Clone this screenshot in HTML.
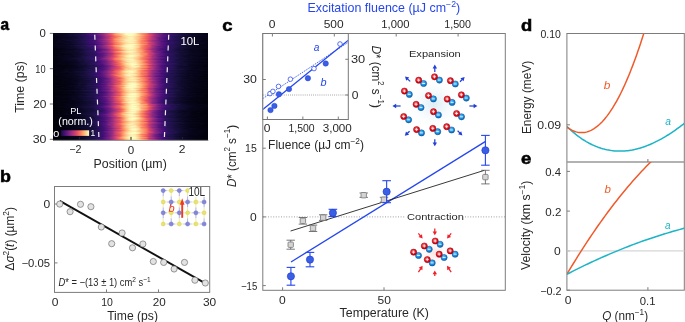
<!DOCTYPE html>
<html><head><meta charset="utf-8"><style>
html,body{margin:0;padding:0;background:#fff;width:685px;height:322px;overflow:hidden}
svg{display:block;will-change:transform;font-family:"Liberation Sans",sans-serif}
</style></head><body>
<svg width="685" height="322" viewBox="0 0 685 322" font-family="Liberation Sans, sans-serif"><defs><linearGradient id="h0" x1="0" x2="1" y1="0" y2="0"><stop offset="0" stop-color="#060518"/><stop offset="0.02" stop-color="#07061c"/><stop offset="0.04" stop-color="#06051a"/><stop offset="0.06" stop-color="#090720"/><stop offset="0.09" stop-color="#0d0a29"/><stop offset="0.11" stop-color="#0d0a29"/><stop offset="0.13" stop-color="#140e36"/><stop offset="0.15" stop-color="#140e36"/><stop offset="0.17" stop-color="#1c1044"/><stop offset="0.19" stop-color="#20114b"/><stop offset="0.21" stop-color="#29115a"/><stop offset="0.23" stop-color="#400f74"/><stop offset="0.26" stop-color="#420f75"/><stop offset="0.28" stop-color="#4f127b"/><stop offset="0.3" stop-color="#721f81"/><stop offset="0.32" stop-color="#8c2981"/><stop offset="0.34" stop-color="#b3367a"/><stop offset="0.36" stop-color="#db476a"/><stop offset="0.38" stop-color="#ef5d5e"/><stop offset="0.4" stop-color="#fd9467"/><stop offset="0.43" stop-color="#fecc8f"/><stop offset="0.45" stop-color="#fde2a3"/><stop offset="0.47" stop-color="#fcfbbd"/><stop offset="0.49" stop-color="#fcfdbf"/><stop offset="0.51" stop-color="#fcfdbf"/><stop offset="0.53" stop-color="#fdebac"/><stop offset="0.55" stop-color="#febd82"/><stop offset="0.57" stop-color="#fd9668"/><stop offset="0.6" stop-color="#f8765c"/><stop offset="0.62" stop-color="#d3436e"/><stop offset="0.64" stop-color="#ba3878"/><stop offset="0.66" stop-color="#932b80"/><stop offset="0.68" stop-color="#6e1e81"/><stop offset="0.7" stop-color="#5f187f"/><stop offset="0.72" stop-color="#471078"/><stop offset="0.74" stop-color="#400f74"/><stop offset="0.77" stop-color="#2a115c"/><stop offset="0.79" stop-color="#2a115c"/><stop offset="0.81" stop-color="#1d1147"/><stop offset="0.83" stop-color="#150e38"/><stop offset="0.85" stop-color="#150e38"/><stop offset="0.87" stop-color="#0e0b2b"/><stop offset="0.89" stop-color="#100b2d"/><stop offset="0.91" stop-color="#0a0822"/><stop offset="0.94" stop-color="#07061c"/><stop offset="0.96" stop-color="#06051a"/><stop offset="0.98" stop-color="#060518"/><stop offset="1" stop-color="#040414"/></linearGradient><linearGradient id="h1" x1="0" x2="1" y1="0" y2="0"><stop offset="0" stop-color="#050416"/><stop offset="0.02" stop-color="#08071e"/><stop offset="0.04" stop-color="#0b0924"/><stop offset="0.06" stop-color="#0a0822"/><stop offset="0.09" stop-color="#0c0926"/><stop offset="0.11" stop-color="#130d34"/><stop offset="0.13" stop-color="#140e36"/><stop offset="0.15" stop-color="#1c1044"/><stop offset="0.17" stop-color="#1c1044"/><stop offset="0.19" stop-color="#29115a"/><stop offset="0.21" stop-color="#2f1163"/><stop offset="0.23" stop-color="#440f76"/><stop offset="0.26" stop-color="#4e117b"/><stop offset="0.28" stop-color="#621980"/><stop offset="0.3" stop-color="#762181"/><stop offset="0.32" stop-color="#902a81"/><stop offset="0.34" stop-color="#b73779"/><stop offset="0.36" stop-color="#d5446d"/><stop offset="0.38" stop-color="#f3655c"/><stop offset="0.4" stop-color="#fd9a6a"/><stop offset="0.43" stop-color="#feb77e"/><stop offset="0.45" stop-color="#fed799"/><stop offset="0.47" stop-color="#fcfdbf"/><stop offset="0.49" stop-color="#fcfdbf"/><stop offset="0.51" stop-color="#fcfbbd"/><stop offset="0.53" stop-color="#fdebac"/><stop offset="0.55" stop-color="#fec88c"/><stop offset="0.57" stop-color="#fd9a6a"/><stop offset="0.6" stop-color="#f4695c"/><stop offset="0.62" stop-color="#e24d66"/><stop offset="0.64" stop-color="#bc3978"/><stop offset="0.66" stop-color="#982d80"/><stop offset="0.68" stop-color="#7e2482"/><stop offset="0.7" stop-color="#651a80"/><stop offset="0.72" stop-color="#4a1079"/><stop offset="0.74" stop-color="#451077"/><stop offset="0.77" stop-color="#341069"/><stop offset="0.79" stop-color="#29115a"/><stop offset="0.81" stop-color="#20114b"/><stop offset="0.83" stop-color="#1a1042"/><stop offset="0.85" stop-color="#150e38"/><stop offset="0.87" stop-color="#120d31"/><stop offset="0.89" stop-color="#0c0926"/><stop offset="0.91" stop-color="#0a0822"/><stop offset="0.94" stop-color="#0a0822"/><stop offset="0.96" stop-color="#06051a"/><stop offset="0.98" stop-color="#050416"/><stop offset="1" stop-color="#050416"/></linearGradient><linearGradient id="h2" x1="0" x2="1" y1="0" y2="0"><stop offset="0" stop-color="#050416"/><stop offset="0.02" stop-color="#06051a"/><stop offset="0.04" stop-color="#0a0822"/><stop offset="0.06" stop-color="#090720"/><stop offset="0.09" stop-color="#0c0926"/><stop offset="0.11" stop-color="#130d34"/><stop offset="0.13" stop-color="#110c2f"/><stop offset="0.15" stop-color="#19103f"/><stop offset="0.17" stop-color="#1a1042"/><stop offset="0.19" stop-color="#241253"/><stop offset="0.21" stop-color="#2a115c"/><stop offset="0.23" stop-color="#36106b"/><stop offset="0.26" stop-color="#4f127b"/><stop offset="0.28" stop-color="#54137d"/><stop offset="0.3" stop-color="#6b1d81"/><stop offset="0.32" stop-color="#892881"/><stop offset="0.34" stop-color="#aa337d"/><stop offset="0.36" stop-color="#cc3f71"/><stop offset="0.38" stop-color="#e75263"/><stop offset="0.4" stop-color="#fa815f"/><stop offset="0.43" stop-color="#feb27a"/><stop offset="0.45" stop-color="#fed395"/><stop offset="0.47" stop-color="#fde9aa"/><stop offset="0.49" stop-color="#fcfdbf"/><stop offset="0.51" stop-color="#fcf7b9"/><stop offset="0.53" stop-color="#fde5a7"/><stop offset="0.55" stop-color="#fecf92"/><stop offset="0.57" stop-color="#fea973"/><stop offset="0.6" stop-color="#f66e5c"/><stop offset="0.62" stop-color="#e44f64"/><stop offset="0.64" stop-color="#c73d73"/><stop offset="0.66" stop-color="#992d80"/><stop offset="0.68" stop-color="#7e2482"/><stop offset="0.7" stop-color="#5f187f"/><stop offset="0.72" stop-color="#54137d"/><stop offset="0.74" stop-color="#3d0f71"/><stop offset="0.77" stop-color="#2f1163"/><stop offset="0.79" stop-color="#2a115c"/><stop offset="0.81" stop-color="#241253"/><stop offset="0.83" stop-color="#1c1044"/><stop offset="0.85" stop-color="#140e36"/><stop offset="0.87" stop-color="#130d34"/><stop offset="0.89" stop-color="#0e0b2b"/><stop offset="0.91" stop-color="#0d0a29"/><stop offset="0.94" stop-color="#08071e"/><stop offset="0.96" stop-color="#090720"/><stop offset="0.98" stop-color="#06051a"/><stop offset="1" stop-color="#040414"/></linearGradient><linearGradient id="h3" x1="0" x2="1" y1="0" y2="0"><stop offset="0" stop-color="#040414"/><stop offset="0.02" stop-color="#040414"/><stop offset="0.04" stop-color="#06051a"/><stop offset="0.06" stop-color="#08071e"/><stop offset="0.09" stop-color="#0c0926"/><stop offset="0.11" stop-color="#0d0a29"/><stop offset="0.13" stop-color="#100b2d"/><stop offset="0.15" stop-color="#140e36"/><stop offset="0.17" stop-color="#19103f"/><stop offset="0.19" stop-color="#20114b"/><stop offset="0.21" stop-color="#271258"/><stop offset="0.23" stop-color="#311165"/><stop offset="0.26" stop-color="#3d0f71"/><stop offset="0.28" stop-color="#54137d"/><stop offset="0.3" stop-color="#641a80"/><stop offset="0.32" stop-color="#782281"/><stop offset="0.34" stop-color="#a5317e"/><stop offset="0.36" stop-color="#b73779"/><stop offset="0.38" stop-color="#e04c67"/><stop offset="0.4" stop-color="#f7725c"/><stop offset="0.43" stop-color="#fc9065"/><stop offset="0.45" stop-color="#feca8d"/><stop offset="0.47" stop-color="#fde0a1"/><stop offset="0.49" stop-color="#fdebac"/><stop offset="0.51" stop-color="#fdebac"/><stop offset="0.53" stop-color="#fdda9c"/><stop offset="0.55" stop-color="#feb97f"/><stop offset="0.57" stop-color="#fd9668"/><stop offset="0.6" stop-color="#f2625d"/><stop offset="0.62" stop-color="#dc4869"/><stop offset="0.64" stop-color="#b0357b"/><stop offset="0.66" stop-color="#902a81"/><stop offset="0.68" stop-color="#7e2482"/><stop offset="0.7" stop-color="#5c167f"/><stop offset="0.72" stop-color="#51127c"/><stop offset="0.74" stop-color="#3d0f71"/><stop offset="0.77" stop-color="#29115a"/><stop offset="0.79" stop-color="#21114e"/><stop offset="0.81" stop-color="#1c1044"/><stop offset="0.83" stop-color="#150e38"/><stop offset="0.85" stop-color="#100b2d"/><stop offset="0.87" stop-color="#100b2d"/><stop offset="0.89" stop-color="#0c0926"/><stop offset="0.91" stop-color="#0a0822"/><stop offset="0.94" stop-color="#07061c"/><stop offset="0.96" stop-color="#06051a"/><stop offset="0.98" stop-color="#06051a"/><stop offset="1" stop-color="#040414"/></linearGradient><linearGradient id="h4" x1="0" x2="1" y1="0" y2="0"><stop offset="0" stop-color="#050416"/><stop offset="0.02" stop-color="#050416"/><stop offset="0.04" stop-color="#060518"/><stop offset="0.06" stop-color="#08071e"/><stop offset="0.09" stop-color="#090720"/><stop offset="0.11" stop-color="#0c0926"/><stop offset="0.13" stop-color="#100b2d"/><stop offset="0.15" stop-color="#120d31"/><stop offset="0.17" stop-color="#1c1044"/><stop offset="0.19" stop-color="#20114b"/><stop offset="0.21" stop-color="#29115a"/><stop offset="0.23" stop-color="#341069"/><stop offset="0.26" stop-color="#3d0f71"/><stop offset="0.28" stop-color="#4c117a"/><stop offset="0.3" stop-color="#5d177f"/><stop offset="0.32" stop-color="#7e2482"/><stop offset="0.34" stop-color="#9b2e7f"/><stop offset="0.36" stop-color="#bf3a77"/><stop offset="0.38" stop-color="#eb5760"/><stop offset="0.4" stop-color="#f4695c"/><stop offset="0.43" stop-color="#feb078"/><stop offset="0.45" stop-color="#fec488"/><stop offset="0.47" stop-color="#fddea0"/><stop offset="0.49" stop-color="#fcf6b8"/><stop offset="0.51" stop-color="#fcf2b4"/><stop offset="0.53" stop-color="#fed597"/><stop offset="0.55" stop-color="#febf84"/><stop offset="0.57" stop-color="#fe9d6c"/><stop offset="0.6" stop-color="#f2625d"/><stop offset="0.62" stop-color="#dc4869"/><stop offset="0.64" stop-color="#b83779"/><stop offset="0.66" stop-color="#902a81"/><stop offset="0.68" stop-color="#6d1d81"/><stop offset="0.7" stop-color="#5f187f"/><stop offset="0.72" stop-color="#4a1079"/><stop offset="0.74" stop-color="#38106c"/><stop offset="0.77" stop-color="#2d1161"/><stop offset="0.79" stop-color="#221150"/><stop offset="0.81" stop-color="#1e1149"/><stop offset="0.83" stop-color="#150e38"/><stop offset="0.85" stop-color="#120d31"/><stop offset="0.87" stop-color="#0e0b2b"/><stop offset="0.89" stop-color="#0c0926"/><stop offset="0.91" stop-color="#0a0822"/><stop offset="0.94" stop-color="#06051a"/><stop offset="0.96" stop-color="#060518"/><stop offset="0.98" stop-color="#06051a"/><stop offset="1" stop-color="#050416"/></linearGradient><linearGradient id="h5" x1="0" x2="1" y1="0" y2="0"><stop offset="0" stop-color="#040414"/><stop offset="0.02" stop-color="#050416"/><stop offset="0.04" stop-color="#06051a"/><stop offset="0.06" stop-color="#090720"/><stop offset="0.09" stop-color="#0b0924"/><stop offset="0.11" stop-color="#0c0926"/><stop offset="0.13" stop-color="#110c2f"/><stop offset="0.15" stop-color="#120d31"/><stop offset="0.17" stop-color="#19103f"/><stop offset="0.19" stop-color="#1e1149"/><stop offset="0.21" stop-color="#2f1163"/><stop offset="0.23" stop-color="#2a115c"/><stop offset="0.26" stop-color="#3d0f71"/><stop offset="0.28" stop-color="#56147d"/><stop offset="0.3" stop-color="#651a80"/><stop offset="0.32" stop-color="#7c2382"/><stop offset="0.34" stop-color="#9e2f7f"/><stop offset="0.36" stop-color="#bd3977"/><stop offset="0.38" stop-color="#e75263"/><stop offset="0.4" stop-color="#fb8560"/><stop offset="0.43" stop-color="#feae77"/><stop offset="0.45" stop-color="#fecc8f"/><stop offset="0.47" stop-color="#fddea0"/><stop offset="0.49" stop-color="#fcf2b4"/><stop offset="0.51" stop-color="#fcf7b9"/><stop offset="0.53" stop-color="#fed799"/><stop offset="0.55" stop-color="#fec185"/><stop offset="0.57" stop-color="#fc8e64"/><stop offset="0.6" stop-color="#f05f5e"/><stop offset="0.62" stop-color="#d9466b"/><stop offset="0.64" stop-color="#b3367a"/><stop offset="0.66" stop-color="#982d80"/><stop offset="0.68" stop-color="#651a80"/><stop offset="0.7" stop-color="#59157e"/><stop offset="0.72" stop-color="#420f75"/><stop offset="0.74" stop-color="#3d0f71"/><stop offset="0.77" stop-color="#2c115f"/><stop offset="0.79" stop-color="#221150"/><stop offset="0.81" stop-color="#1d1147"/><stop offset="0.83" stop-color="#160f3b"/><stop offset="0.85" stop-color="#130d34"/><stop offset="0.87" stop-color="#0c0926"/><stop offset="0.89" stop-color="#0b0924"/><stop offset="0.91" stop-color="#090720"/><stop offset="0.94" stop-color="#07061c"/><stop offset="0.96" stop-color="#06051a"/><stop offset="0.98" stop-color="#040414"/><stop offset="1" stop-color="#040414"/></linearGradient><linearGradient id="h6" x1="0" x2="1" y1="0" y2="0"><stop offset="0" stop-color="#060518"/><stop offset="0.02" stop-color="#060518"/><stop offset="0.04" stop-color="#06051a"/><stop offset="0.06" stop-color="#0b0924"/><stop offset="0.09" stop-color="#0b0924"/><stop offset="0.11" stop-color="#0d0a29"/><stop offset="0.13" stop-color="#120d31"/><stop offset="0.15" stop-color="#19103f"/><stop offset="0.17" stop-color="#1c1044"/><stop offset="0.19" stop-color="#251255"/><stop offset="0.21" stop-color="#2a115c"/><stop offset="0.23" stop-color="#36106b"/><stop offset="0.26" stop-color="#471078"/><stop offset="0.28" stop-color="#56147d"/><stop offset="0.3" stop-color="#6d1d81"/><stop offset="0.32" stop-color="#8b2981"/><stop offset="0.34" stop-color="#aa337d"/><stop offset="0.36" stop-color="#d5446d"/><stop offset="0.38" stop-color="#eb5760"/><stop offset="0.4" stop-color="#fd9668"/><stop offset="0.43" stop-color="#febb81"/><stop offset="0.45" stop-color="#fed395"/><stop offset="0.47" stop-color="#fde9aa"/><stop offset="0.49" stop-color="#fcf2b4"/><stop offset="0.51" stop-color="#fcf2b4"/><stop offset="0.53" stop-color="#fed89a"/><stop offset="0.55" stop-color="#feb77e"/><stop offset="0.57" stop-color="#fd9b6b"/><stop offset="0.6" stop-color="#f4675c"/><stop offset="0.62" stop-color="#d6456c"/><stop offset="0.64" stop-color="#b83779"/><stop offset="0.66" stop-color="#982d80"/><stop offset="0.68" stop-color="#6d1d81"/><stop offset="0.7" stop-color="#5a167e"/><stop offset="0.72" stop-color="#4a1079"/><stop offset="0.74" stop-color="#38106c"/><stop offset="0.77" stop-color="#2d1161"/><stop offset="0.79" stop-color="#221150"/><stop offset="0.81" stop-color="#1e1149"/><stop offset="0.83" stop-color="#180f3d"/><stop offset="0.85" stop-color="#140e36"/><stop offset="0.87" stop-color="#0e0b2b"/><stop offset="0.89" stop-color="#0d0a29"/><stop offset="0.91" stop-color="#0d0a29"/><stop offset="0.94" stop-color="#08071e"/><stop offset="0.96" stop-color="#060518"/><stop offset="0.98" stop-color="#050416"/><stop offset="1" stop-color="#040414"/></linearGradient><linearGradient id="h7" x1="0" x2="1" y1="0" y2="0"><stop offset="0" stop-color="#040414"/><stop offset="0.02" stop-color="#040414"/><stop offset="0.04" stop-color="#08071e"/><stop offset="0.06" stop-color="#06051a"/><stop offset="0.09" stop-color="#0e0b2b"/><stop offset="0.11" stop-color="#100b2d"/><stop offset="0.13" stop-color="#110c2f"/><stop offset="0.15" stop-color="#150e38"/><stop offset="0.17" stop-color="#180f3d"/><stop offset="0.19" stop-color="#1d1147"/><stop offset="0.21" stop-color="#241253"/><stop offset="0.23" stop-color="#331067"/><stop offset="0.26" stop-color="#3d0f71"/><stop offset="0.28" stop-color="#51127c"/><stop offset="0.3" stop-color="#671b80"/><stop offset="0.32" stop-color="#7b2382"/><stop offset="0.34" stop-color="#a02f7f"/><stop offset="0.36" stop-color="#bf3a77"/><stop offset="0.38" stop-color="#e85362"/><stop offset="0.4" stop-color="#fa815f"/><stop offset="0.43" stop-color="#feb27a"/><stop offset="0.45" stop-color="#feca8d"/><stop offset="0.47" stop-color="#fceeb0"/><stop offset="0.49" stop-color="#fcf4b6"/><stop offset="0.51" stop-color="#fcf0b2"/><stop offset="0.53" stop-color="#fde7a9"/><stop offset="0.55" stop-color="#feb67c"/><stop offset="0.57" stop-color="#fb8761"/><stop offset="0.6" stop-color="#ef5d5e"/><stop offset="0.62" stop-color="#c83e73"/><stop offset="0.64" stop-color="#a1307e"/><stop offset="0.66" stop-color="#882781"/><stop offset="0.68" stop-color="#6b1d81"/><stop offset="0.7" stop-color="#5a167e"/><stop offset="0.72" stop-color="#4e117b"/><stop offset="0.74" stop-color="#341069"/><stop offset="0.77" stop-color="#29115a"/><stop offset="0.79" stop-color="#1d1147"/><stop offset="0.81" stop-color="#1a1042"/><stop offset="0.83" stop-color="#180f3d"/><stop offset="0.85" stop-color="#100b2d"/><stop offset="0.87" stop-color="#0e0b2b"/><stop offset="0.89" stop-color="#0b0924"/><stop offset="0.91" stop-color="#08071e"/><stop offset="0.94" stop-color="#090720"/><stop offset="0.96" stop-color="#040414"/><stop offset="0.98" stop-color="#060518"/><stop offset="1" stop-color="#030312"/></linearGradient><linearGradient id="h8" x1="0" x2="1" y1="0" y2="0"><stop offset="0" stop-color="#050416"/><stop offset="0.02" stop-color="#06051a"/><stop offset="0.04" stop-color="#08071e"/><stop offset="0.06" stop-color="#090720"/><stop offset="0.09" stop-color="#090720"/><stop offset="0.11" stop-color="#0c0926"/><stop offset="0.13" stop-color="#110c2f"/><stop offset="0.15" stop-color="#150e38"/><stop offset="0.17" stop-color="#1a1042"/><stop offset="0.19" stop-color="#221150"/><stop offset="0.21" stop-color="#2d1161"/><stop offset="0.23" stop-color="#38106c"/><stop offset="0.26" stop-color="#440f76"/><stop offset="0.28" stop-color="#51127c"/><stop offset="0.3" stop-color="#6b1d81"/><stop offset="0.32" stop-color="#892881"/><stop offset="0.34" stop-color="#9e2f7f"/><stop offset="0.36" stop-color="#c53c74"/><stop offset="0.38" stop-color="#ec5860"/><stop offset="0.4" stop-color="#fc8961"/><stop offset="0.43" stop-color="#feb67c"/><stop offset="0.45" stop-color="#fdda9c"/><stop offset="0.47" stop-color="#fde7a9"/><stop offset="0.49" stop-color="#fcf0b2"/><stop offset="0.51" stop-color="#fcecae"/><stop offset="0.53" stop-color="#fdda9c"/><stop offset="0.55" stop-color="#feb67c"/><stop offset="0.57" stop-color="#fb8761"/><stop offset="0.6" stop-color="#f05f5e"/><stop offset="0.62" stop-color="#cc3f71"/><stop offset="0.64" stop-color="#ad347c"/><stop offset="0.66" stop-color="#882781"/><stop offset="0.68" stop-color="#762181"/><stop offset="0.7" stop-color="#51127c"/><stop offset="0.72" stop-color="#400f74"/><stop offset="0.74" stop-color="#341069"/><stop offset="0.77" stop-color="#271258"/><stop offset="0.79" stop-color="#221150"/><stop offset="0.81" stop-color="#20114b"/><stop offset="0.83" stop-color="#120d31"/><stop offset="0.85" stop-color="#120d31"/><stop offset="0.87" stop-color="#0d0a29"/><stop offset="0.89" stop-color="#0b0924"/><stop offset="0.91" stop-color="#090720"/><stop offset="0.94" stop-color="#07061c"/><stop offset="0.96" stop-color="#060518"/><stop offset="0.98" stop-color="#050416"/><stop offset="1" stop-color="#030312"/></linearGradient><linearGradient id="h9" x1="0" x2="1" y1="0" y2="0"><stop offset="0" stop-color="#040414"/><stop offset="0.02" stop-color="#050416"/><stop offset="0.04" stop-color="#08071e"/><stop offset="0.06" stop-color="#090720"/><stop offset="0.09" stop-color="#090720"/><stop offset="0.11" stop-color="#0c0926"/><stop offset="0.13" stop-color="#100b2d"/><stop offset="0.15" stop-color="#130d34"/><stop offset="0.17" stop-color="#1a1042"/><stop offset="0.19" stop-color="#1e1149"/><stop offset="0.21" stop-color="#241253"/><stop offset="0.23" stop-color="#311165"/><stop offset="0.26" stop-color="#400f74"/><stop offset="0.28" stop-color="#4f127b"/><stop offset="0.3" stop-color="#5c167f"/><stop offset="0.32" stop-color="#792282"/><stop offset="0.34" stop-color="#942c80"/><stop offset="0.36" stop-color="#bc3978"/><stop offset="0.38" stop-color="#e55064"/><stop offset="0.4" stop-color="#f8745c"/><stop offset="0.43" stop-color="#fea772"/><stop offset="0.45" stop-color="#fec88c"/><stop offset="0.47" stop-color="#fddc9e"/><stop offset="0.49" stop-color="#fcf2b4"/><stop offset="0.51" stop-color="#fcf6b8"/><stop offset="0.53" stop-color="#fde2a3"/><stop offset="0.55" stop-color="#feb67c"/><stop offset="0.57" stop-color="#fc8c63"/><stop offset="0.6" stop-color="#f8765c"/><stop offset="0.62" stop-color="#e34e65"/><stop offset="0.64" stop-color="#b83779"/><stop offset="0.66" stop-color="#992d80"/><stop offset="0.68" stop-color="#732081"/><stop offset="0.7" stop-color="#5a167e"/><stop offset="0.72" stop-color="#51127c"/><stop offset="0.74" stop-color="#3d0f71"/><stop offset="0.77" stop-color="#2f1163"/><stop offset="0.79" stop-color="#29115a"/><stop offset="0.81" stop-color="#1c1044"/><stop offset="0.83" stop-color="#19103f"/><stop offset="0.85" stop-color="#1c1044"/><stop offset="0.87" stop-color="#110c2f"/><stop offset="0.89" stop-color="#0b0924"/><stop offset="0.91" stop-color="#0b0924"/><stop offset="0.94" stop-color="#0a0822"/><stop offset="0.96" stop-color="#06051a"/><stop offset="0.98" stop-color="#06051a"/><stop offset="1" stop-color="#050416"/></linearGradient><linearGradient id="h10" x1="0" x2="1" y1="0" y2="0"><stop offset="0" stop-color="#050416"/><stop offset="0.02" stop-color="#06051a"/><stop offset="0.04" stop-color="#060518"/><stop offset="0.06" stop-color="#06051a"/><stop offset="0.09" stop-color="#0d0a29"/><stop offset="0.11" stop-color="#0a0822"/><stop offset="0.13" stop-color="#110c2f"/><stop offset="0.15" stop-color="#150e38"/><stop offset="0.17" stop-color="#19103f"/><stop offset="0.19" stop-color="#1a1042"/><stop offset="0.21" stop-color="#251255"/><stop offset="0.23" stop-color="#341069"/><stop offset="0.26" stop-color="#3b0f70"/><stop offset="0.28" stop-color="#4f127b"/><stop offset="0.3" stop-color="#621980"/><stop offset="0.32" stop-color="#802582"/><stop offset="0.34" stop-color="#932b80"/><stop offset="0.36" stop-color="#b83779"/><stop offset="0.38" stop-color="#dc4869"/><stop offset="0.4" stop-color="#f9785d"/><stop offset="0.43" stop-color="#fe9d6c"/><stop offset="0.45" stop-color="#febd82"/><stop offset="0.47" stop-color="#fddea0"/><stop offset="0.49" stop-color="#fde3a5"/><stop offset="0.51" stop-color="#fde5a7"/><stop offset="0.53" stop-color="#fed597"/><stop offset="0.55" stop-color="#febb81"/><stop offset="0.57" stop-color="#fc8961"/><stop offset="0.6" stop-color="#f3655c"/><stop offset="0.62" stop-color="#d0416f"/><stop offset="0.64" stop-color="#bc3978"/><stop offset="0.66" stop-color="#912b81"/><stop offset="0.68" stop-color="#752181"/><stop offset="0.7" stop-color="#5c167f"/><stop offset="0.72" stop-color="#4c117a"/><stop offset="0.74" stop-color="#311165"/><stop offset="0.77" stop-color="#2c115f"/><stop offset="0.79" stop-color="#20114b"/><stop offset="0.81" stop-color="#20114b"/><stop offset="0.83" stop-color="#180f3d"/><stop offset="0.85" stop-color="#120d31"/><stop offset="0.87" stop-color="#0d0a29"/><stop offset="0.89" stop-color="#0a0822"/><stop offset="0.91" stop-color="#090720"/><stop offset="0.94" stop-color="#07061c"/><stop offset="0.96" stop-color="#0b0924"/><stop offset="0.98" stop-color="#040414"/><stop offset="1" stop-color="#030312"/></linearGradient><linearGradient id="h11" x1="0" x2="1" y1="0" y2="0"><stop offset="0" stop-color="#030312"/><stop offset="0.02" stop-color="#060518"/><stop offset="0.04" stop-color="#050416"/><stop offset="0.06" stop-color="#06051a"/><stop offset="0.09" stop-color="#08071e"/><stop offset="0.11" stop-color="#090720"/><stop offset="0.13" stop-color="#0c0926"/><stop offset="0.15" stop-color="#100b2d"/><stop offset="0.17" stop-color="#150e38"/><stop offset="0.19" stop-color="#19103f"/><stop offset="0.21" stop-color="#20114b"/><stop offset="0.23" stop-color="#271258"/><stop offset="0.26" stop-color="#331067"/><stop offset="0.28" stop-color="#400f74"/><stop offset="0.3" stop-color="#57157e"/><stop offset="0.32" stop-color="#6b1d81"/><stop offset="0.34" stop-color="#8e2a81"/><stop offset="0.36" stop-color="#b0357b"/><stop offset="0.38" stop-color="#d5446d"/><stop offset="0.4" stop-color="#f66c5c"/><stop offset="0.43" stop-color="#fd9869"/><stop offset="0.45" stop-color="#fec68a"/><stop offset="0.47" stop-color="#fde9aa"/><stop offset="0.49" stop-color="#fcfbbd"/><stop offset="0.51" stop-color="#fcfdbf"/><stop offset="0.53" stop-color="#fcf4b6"/><stop offset="0.55" stop-color="#fed395"/><stop offset="0.57" stop-color="#fea772"/><stop offset="0.6" stop-color="#f97b5d"/><stop offset="0.62" stop-color="#df4a68"/><stop offset="0.64" stop-color="#ba3878"/><stop offset="0.66" stop-color="#992d80"/><stop offset="0.68" stop-color="#701f81"/><stop offset="0.7" stop-color="#5c167f"/><stop offset="0.72" stop-color="#4a1079"/><stop offset="0.74" stop-color="#38106c"/><stop offset="0.77" stop-color="#29115a"/><stop offset="0.79" stop-color="#21114e"/><stop offset="0.81" stop-color="#19103f"/><stop offset="0.83" stop-color="#180f3d"/><stop offset="0.85" stop-color="#100b2d"/><stop offset="0.87" stop-color="#0d0a29"/><stop offset="0.89" stop-color="#0c0926"/><stop offset="0.91" stop-color="#08071e"/><stop offset="0.94" stop-color="#06051a"/><stop offset="0.96" stop-color="#050416"/><stop offset="0.98" stop-color="#050416"/><stop offset="1" stop-color="#030312"/></linearGradient><linearGradient id="h12" x1="0" x2="1" y1="0" y2="0"><stop offset="0" stop-color="#07061c"/><stop offset="0.02" stop-color="#060518"/><stop offset="0.04" stop-color="#090720"/><stop offset="0.06" stop-color="#07061c"/><stop offset="0.09" stop-color="#0b0924"/><stop offset="0.11" stop-color="#0d0a29"/><stop offset="0.13" stop-color="#120d31"/><stop offset="0.15" stop-color="#1a1042"/><stop offset="0.17" stop-color="#1c1044"/><stop offset="0.19" stop-color="#21114e"/><stop offset="0.21" stop-color="#2c115f"/><stop offset="0.23" stop-color="#390f6e"/><stop offset="0.26" stop-color="#471078"/><stop offset="0.28" stop-color="#56147d"/><stop offset="0.3" stop-color="#721f81"/><stop offset="0.32" stop-color="#862781"/><stop offset="0.34" stop-color="#ad347c"/><stop offset="0.36" stop-color="#d8456c"/><stop offset="0.38" stop-color="#f1605d"/><stop offset="0.4" stop-color="#fd9869"/><stop offset="0.43" stop-color="#febb81"/><stop offset="0.45" stop-color="#fde0a1"/><stop offset="0.47" stop-color="#fcf4b6"/><stop offset="0.49" stop-color="#fcfbbd"/><stop offset="0.51" stop-color="#fcf9bb"/><stop offset="0.53" stop-color="#fde0a1"/><stop offset="0.55" stop-color="#fec68a"/><stop offset="0.57" stop-color="#fd9467"/><stop offset="0.6" stop-color="#ef5d5e"/><stop offset="0.62" stop-color="#de4968"/><stop offset="0.64" stop-color="#aa337d"/><stop offset="0.66" stop-color="#902a81"/><stop offset="0.68" stop-color="#7b2382"/><stop offset="0.7" stop-color="#5a167e"/><stop offset="0.72" stop-color="#4c117a"/><stop offset="0.74" stop-color="#331067"/><stop offset="0.77" stop-color="#271258"/><stop offset="0.79" stop-color="#21114e"/><stop offset="0.81" stop-color="#1c1044"/><stop offset="0.83" stop-color="#180f3d"/><stop offset="0.85" stop-color="#110c2f"/><stop offset="0.87" stop-color="#0d0a29"/><stop offset="0.89" stop-color="#0c0926"/><stop offset="0.91" stop-color="#0a0822"/><stop offset="0.94" stop-color="#07061c"/><stop offset="0.96" stop-color="#050416"/><stop offset="0.98" stop-color="#050416"/><stop offset="1" stop-color="#050416"/></linearGradient><linearGradient id="h13" x1="0" x2="1" y1="0" y2="0"><stop offset="0" stop-color="#040414"/><stop offset="0.02" stop-color="#040414"/><stop offset="0.04" stop-color="#06051a"/><stop offset="0.06" stop-color="#06051a"/><stop offset="0.09" stop-color="#090720"/><stop offset="0.11" stop-color="#0b0924"/><stop offset="0.13" stop-color="#0d0a29"/><stop offset="0.15" stop-color="#130d34"/><stop offset="0.17" stop-color="#180f3d"/><stop offset="0.19" stop-color="#1d1147"/><stop offset="0.21" stop-color="#221150"/><stop offset="0.23" stop-color="#36106b"/><stop offset="0.26" stop-color="#3d0f71"/><stop offset="0.28" stop-color="#51127c"/><stop offset="0.3" stop-color="#651a80"/><stop offset="0.32" stop-color="#842681"/><stop offset="0.34" stop-color="#a1307e"/><stop offset="0.36" stop-color="#bc3978"/><stop offset="0.38" stop-color="#e75263"/><stop offset="0.4" stop-color="#fb8761"/><stop offset="0.43" stop-color="#febb81"/><stop offset="0.45" stop-color="#fde9aa"/><stop offset="0.47" stop-color="#fcf7b9"/><stop offset="0.49" stop-color="#fcfdbf"/><stop offset="0.51" stop-color="#fcfdbf"/><stop offset="0.53" stop-color="#fde7a9"/><stop offset="0.55" stop-color="#fecd90"/><stop offset="0.57" stop-color="#fc9065"/><stop offset="0.6" stop-color="#ed5a5f"/><stop offset="0.62" stop-color="#e04c67"/><stop offset="0.64" stop-color="#ab337c"/><stop offset="0.66" stop-color="#842681"/><stop offset="0.68" stop-color="#5f187f"/><stop offset="0.7" stop-color="#57157e"/><stop offset="0.72" stop-color="#440f76"/><stop offset="0.74" stop-color="#331067"/><stop offset="0.77" stop-color="#241253"/><stop offset="0.79" stop-color="#241253"/><stop offset="0.81" stop-color="#19103f"/><stop offset="0.83" stop-color="#130d34"/><stop offset="0.85" stop-color="#100b2d"/><stop offset="0.87" stop-color="#0d0a29"/><stop offset="0.89" stop-color="#0a0822"/><stop offset="0.91" stop-color="#08071e"/><stop offset="0.94" stop-color="#08071e"/><stop offset="0.96" stop-color="#060518"/><stop offset="0.98" stop-color="#06051a"/><stop offset="1" stop-color="#040414"/></linearGradient><linearGradient id="h14" x1="0" x2="1" y1="0" y2="0"><stop offset="0" stop-color="#040414"/><stop offset="0.02" stop-color="#040414"/><stop offset="0.04" stop-color="#07061c"/><stop offset="0.06" stop-color="#06051a"/><stop offset="0.09" stop-color="#0a0822"/><stop offset="0.11" stop-color="#0a0822"/><stop offset="0.13" stop-color="#0e0b2b"/><stop offset="0.15" stop-color="#130d34"/><stop offset="0.17" stop-color="#19103f"/><stop offset="0.19" stop-color="#20114b"/><stop offset="0.21" stop-color="#21114e"/><stop offset="0.23" stop-color="#2a115c"/><stop offset="0.26" stop-color="#3b0f70"/><stop offset="0.28" stop-color="#52137c"/><stop offset="0.3" stop-color="#601880"/><stop offset="0.32" stop-color="#7e2482"/><stop offset="0.34" stop-color="#942c80"/><stop offset="0.36" stop-color="#bf3a77"/><stop offset="0.38" stop-color="#d9466b"/><stop offset="0.4" stop-color="#f8745c"/><stop offset="0.43" stop-color="#fea571"/><stop offset="0.45" stop-color="#fecc8f"/><stop offset="0.47" stop-color="#fcf0b2"/><stop offset="0.49" stop-color="#fcf9bb"/><stop offset="0.51" stop-color="#fcf7b9"/><stop offset="0.53" stop-color="#fde5a7"/><stop offset="0.55" stop-color="#feca8d"/><stop offset="0.57" stop-color="#fc8a62"/><stop offset="0.6" stop-color="#ef5d5e"/><stop offset="0.62" stop-color="#d3436e"/><stop offset="0.64" stop-color="#aa337d"/><stop offset="0.66" stop-color="#862781"/><stop offset="0.68" stop-color="#6a1c81"/><stop offset="0.7" stop-color="#5a167e"/><stop offset="0.72" stop-color="#440f76"/><stop offset="0.74" stop-color="#341069"/><stop offset="0.77" stop-color="#271258"/><stop offset="0.79" stop-color="#20114b"/><stop offset="0.81" stop-color="#180f3d"/><stop offset="0.83" stop-color="#160f3b"/><stop offset="0.85" stop-color="#120d31"/><stop offset="0.87" stop-color="#0c0926"/><stop offset="0.89" stop-color="#0b0924"/><stop offset="0.91" stop-color="#08071e"/><stop offset="0.94" stop-color="#060518"/><stop offset="0.96" stop-color="#060518"/><stop offset="0.98" stop-color="#060518"/><stop offset="1" stop-color="#03030f"/></linearGradient><linearGradient id="h15" x1="0" x2="1" y1="0" y2="0"><stop offset="0" stop-color="#03030f"/><stop offset="0.02" stop-color="#03030f"/><stop offset="0.04" stop-color="#040414"/><stop offset="0.06" stop-color="#050416"/><stop offset="0.09" stop-color="#07061c"/><stop offset="0.11" stop-color="#0b0924"/><stop offset="0.13" stop-color="#0c0926"/><stop offset="0.15" stop-color="#0e0b2b"/><stop offset="0.17" stop-color="#140e36"/><stop offset="0.19" stop-color="#1c1044"/><stop offset="0.21" stop-color="#221150"/><stop offset="0.23" stop-color="#251255"/><stop offset="0.26" stop-color="#311165"/><stop offset="0.28" stop-color="#491078"/><stop offset="0.3" stop-color="#57157e"/><stop offset="0.32" stop-color="#6e1e81"/><stop offset="0.34" stop-color="#8b2981"/><stop offset="0.36" stop-color="#b5367a"/><stop offset="0.38" stop-color="#dc4869"/><stop offset="0.4" stop-color="#f66e5c"/><stop offset="0.43" stop-color="#fe9d6c"/><stop offset="0.45" stop-color="#fecf92"/><stop offset="0.47" stop-color="#fde7a9"/><stop offset="0.49" stop-color="#fcf6b8"/><stop offset="0.51" stop-color="#fcf7b9"/><stop offset="0.53" stop-color="#fddea0"/><stop offset="0.55" stop-color="#feb27a"/><stop offset="0.57" stop-color="#fc8961"/><stop offset="0.6" stop-color="#ec5860"/><stop offset="0.62" stop-color="#cd4071"/><stop offset="0.64" stop-color="#9c2e7f"/><stop offset="0.66" stop-color="#7b2382"/><stop offset="0.68" stop-color="#621980"/><stop offset="0.7" stop-color="#4a1079"/><stop offset="0.72" stop-color="#420f75"/><stop offset="0.74" stop-color="#2f1163"/><stop offset="0.77" stop-color="#271258"/><stop offset="0.79" stop-color="#1a1042"/><stop offset="0.81" stop-color="#180f3d"/><stop offset="0.83" stop-color="#120d31"/><stop offset="0.85" stop-color="#100b2d"/><stop offset="0.87" stop-color="#0b0924"/><stop offset="0.89" stop-color="#090720"/><stop offset="0.91" stop-color="#08071e"/><stop offset="0.94" stop-color="#07061c"/><stop offset="0.96" stop-color="#060518"/><stop offset="0.98" stop-color="#040414"/><stop offset="1" stop-color="#040414"/></linearGradient><linearGradient id="h16" x1="0" x2="1" y1="0" y2="0"><stop offset="0" stop-color="#02020b"/><stop offset="0.02" stop-color="#02020d"/><stop offset="0.04" stop-color="#03030f"/><stop offset="0.06" stop-color="#030312"/><stop offset="0.09" stop-color="#060518"/><stop offset="0.11" stop-color="#07061c"/><stop offset="0.13" stop-color="#090720"/><stop offset="0.15" stop-color="#0d0a29"/><stop offset="0.17" stop-color="#110c2f"/><stop offset="0.19" stop-color="#160f3b"/><stop offset="0.21" stop-color="#1c1044"/><stop offset="0.23" stop-color="#20114b"/><stop offset="0.26" stop-color="#2d1161"/><stop offset="0.28" stop-color="#38106c"/><stop offset="0.3" stop-color="#4a1079"/><stop offset="0.32" stop-color="#601880"/><stop offset="0.34" stop-color="#732081"/><stop offset="0.36" stop-color="#962c80"/><stop offset="0.38" stop-color="#d0416f"/><stop offset="0.4" stop-color="#ec5860"/><stop offset="0.43" stop-color="#fc8c63"/><stop offset="0.45" stop-color="#febf84"/><stop offset="0.47" stop-color="#fde0a1"/><stop offset="0.49" stop-color="#fcf0b2"/><stop offset="0.51" stop-color="#fdebac"/><stop offset="0.53" stop-color="#fddea0"/><stop offset="0.55" stop-color="#feb67c"/><stop offset="0.57" stop-color="#fd9266"/><stop offset="0.6" stop-color="#e55064"/><stop offset="0.62" stop-color="#bd3977"/><stop offset="0.64" stop-color="#962c80"/><stop offset="0.66" stop-color="#7e2482"/><stop offset="0.68" stop-color="#5d177f"/><stop offset="0.7" stop-color="#491078"/><stop offset="0.72" stop-color="#3b0f70"/><stop offset="0.74" stop-color="#2f1163"/><stop offset="0.77" stop-color="#221150"/><stop offset="0.79" stop-color="#19103f"/><stop offset="0.81" stop-color="#130d34"/><stop offset="0.83" stop-color="#150e38"/><stop offset="0.85" stop-color="#0b0924"/><stop offset="0.87" stop-color="#090720"/><stop offset="0.89" stop-color="#07061c"/><stop offset="0.91" stop-color="#08071e"/><stop offset="0.94" stop-color="#060518"/><stop offset="0.96" stop-color="#03030f"/><stop offset="0.98" stop-color="#03030f"/><stop offset="1" stop-color="#02020d"/></linearGradient><linearGradient id="h17" x1="0" x2="1" y1="0" y2="0"><stop offset="0" stop-color="#040414"/><stop offset="0.02" stop-color="#030312"/><stop offset="0.04" stop-color="#040414"/><stop offset="0.06" stop-color="#06051a"/><stop offset="0.09" stop-color="#090720"/><stop offset="0.11" stop-color="#07061c"/><stop offset="0.13" stop-color="#0b0924"/><stop offset="0.15" stop-color="#110c2f"/><stop offset="0.17" stop-color="#110c2f"/><stop offset="0.19" stop-color="#150e38"/><stop offset="0.21" stop-color="#20114b"/><stop offset="0.23" stop-color="#271258"/><stop offset="0.26" stop-color="#2d1161"/><stop offset="0.28" stop-color="#38106c"/><stop offset="0.3" stop-color="#491078"/><stop offset="0.32" stop-color="#681c81"/><stop offset="0.34" stop-color="#792282"/><stop offset="0.36" stop-color="#a02f7f"/><stop offset="0.38" stop-color="#c73d73"/><stop offset="0.4" stop-color="#e75263"/><stop offset="0.43" stop-color="#f9795d"/><stop offset="0.45" stop-color="#fea571"/><stop offset="0.47" stop-color="#fecf92"/><stop offset="0.49" stop-color="#fde7a9"/><stop offset="0.51" stop-color="#fde5a7"/><stop offset="0.53" stop-color="#fdda9c"/><stop offset="0.55" stop-color="#febb81"/><stop offset="0.57" stop-color="#fd9869"/><stop offset="0.6" stop-color="#f2625d"/><stop offset="0.62" stop-color="#d8456c"/><stop offset="0.64" stop-color="#a6317d"/><stop offset="0.66" stop-color="#802582"/><stop offset="0.68" stop-color="#5d177f"/><stop offset="0.7" stop-color="#54137d"/><stop offset="0.72" stop-color="#420f75"/><stop offset="0.74" stop-color="#2f1163"/><stop offset="0.77" stop-color="#221150"/><stop offset="0.79" stop-color="#1a1042"/><stop offset="0.81" stop-color="#160f3b"/><stop offset="0.83" stop-color="#100b2d"/><stop offset="0.85" stop-color="#100b2d"/><stop offset="0.87" stop-color="#0b0924"/><stop offset="0.89" stop-color="#07061c"/><stop offset="0.91" stop-color="#08071e"/><stop offset="0.94" stop-color="#060518"/><stop offset="0.96" stop-color="#06051a"/><stop offset="0.98" stop-color="#030312"/><stop offset="1" stop-color="#02020d"/></linearGradient><linearGradient id="h18" x1="0" x2="1" y1="0" y2="0"><stop offset="0" stop-color="#02020d"/><stop offset="0.02" stop-color="#030312"/><stop offset="0.04" stop-color="#050416"/><stop offset="0.06" stop-color="#050416"/><stop offset="0.09" stop-color="#090720"/><stop offset="0.11" stop-color="#0b0924"/><stop offset="0.13" stop-color="#0b0924"/><stop offset="0.15" stop-color="#110c2f"/><stop offset="0.17" stop-color="#120d31"/><stop offset="0.19" stop-color="#19103f"/><stop offset="0.21" stop-color="#20114b"/><stop offset="0.23" stop-color="#2c115f"/><stop offset="0.26" stop-color="#341069"/><stop offset="0.28" stop-color="#420f75"/><stop offset="0.3" stop-color="#51127c"/><stop offset="0.32" stop-color="#721f81"/><stop offset="0.34" stop-color="#8c2981"/><stop offset="0.36" stop-color="#ab337c"/><stop offset="0.38" stop-color="#d8456c"/><stop offset="0.4" stop-color="#f66c5c"/><stop offset="0.43" stop-color="#feac76"/><stop offset="0.45" stop-color="#fecf92"/><stop offset="0.47" stop-color="#fdebac"/><stop offset="0.49" stop-color="#fcf9bb"/><stop offset="0.51" stop-color="#fcf7b9"/><stop offset="0.53" stop-color="#fde7a9"/><stop offset="0.55" stop-color="#febd82"/><stop offset="0.57" stop-color="#fea36f"/><stop offset="0.6" stop-color="#eb5760"/><stop offset="0.62" stop-color="#db476a"/><stop offset="0.64" stop-color="#a5317e"/><stop offset="0.66" stop-color="#7b2382"/><stop offset="0.68" stop-color="#6e1e81"/><stop offset="0.7" stop-color="#57157e"/><stop offset="0.72" stop-color="#3f0f72"/><stop offset="0.74" stop-color="#311165"/><stop offset="0.77" stop-color="#221150"/><stop offset="0.79" stop-color="#1c1044"/><stop offset="0.81" stop-color="#180f3d"/><stop offset="0.83" stop-color="#160f3b"/><stop offset="0.85" stop-color="#120d31"/><stop offset="0.87" stop-color="#0c0926"/><stop offset="0.89" stop-color="#08071e"/><stop offset="0.91" stop-color="#06051a"/><stop offset="0.94" stop-color="#07061c"/><stop offset="0.96" stop-color="#040414"/><stop offset="0.98" stop-color="#03030f"/><stop offset="1" stop-color="#030312"/></linearGradient><linearGradient id="h19" x1="0" x2="1" y1="0" y2="0"><stop offset="0" stop-color="#03030f"/><stop offset="0.02" stop-color="#040414"/><stop offset="0.04" stop-color="#040414"/><stop offset="0.06" stop-color="#08071e"/><stop offset="0.09" stop-color="#090720"/><stop offset="0.11" stop-color="#0a0822"/><stop offset="0.13" stop-color="#0a0822"/><stop offset="0.15" stop-color="#0d0a29"/><stop offset="0.17" stop-color="#130d34"/><stop offset="0.19" stop-color="#1a1042"/><stop offset="0.21" stop-color="#1d1147"/><stop offset="0.23" stop-color="#251255"/><stop offset="0.26" stop-color="#2d1161"/><stop offset="0.28" stop-color="#440f76"/><stop offset="0.3" stop-color="#5a167e"/><stop offset="0.32" stop-color="#6a1c81"/><stop offset="0.34" stop-color="#832681"/><stop offset="0.36" stop-color="#a5317e"/><stop offset="0.38" stop-color="#cd4071"/><stop offset="0.4" stop-color="#f2645c"/><stop offset="0.43" stop-color="#fc8e64"/><stop offset="0.45" stop-color="#febd82"/><stop offset="0.47" stop-color="#fddc9e"/><stop offset="0.49" stop-color="#fcf0b2"/><stop offset="0.51" stop-color="#fdebac"/><stop offset="0.53" stop-color="#fed89a"/><stop offset="0.55" stop-color="#febb81"/><stop offset="0.57" stop-color="#fd9668"/><stop offset="0.6" stop-color="#f1605d"/><stop offset="0.62" stop-color="#db476a"/><stop offset="0.64" stop-color="#ad347c"/><stop offset="0.66" stop-color="#802582"/><stop offset="0.68" stop-color="#6b1d81"/><stop offset="0.7" stop-color="#54137d"/><stop offset="0.72" stop-color="#36106b"/><stop offset="0.74" stop-color="#2a115c"/><stop offset="0.77" stop-color="#221150"/><stop offset="0.79" stop-color="#21114e"/><stop offset="0.81" stop-color="#150e38"/><stop offset="0.83" stop-color="#120d31"/><stop offset="0.85" stop-color="#0d0a29"/><stop offset="0.87" stop-color="#0d0a29"/><stop offset="0.89" stop-color="#08071e"/><stop offset="0.91" stop-color="#07061c"/><stop offset="0.94" stop-color="#060518"/><stop offset="0.96" stop-color="#040414"/><stop offset="0.98" stop-color="#040414"/><stop offset="1" stop-color="#03030f"/></linearGradient><linearGradient id="h20" x1="0" x2="1" y1="0" y2="0"><stop offset="0" stop-color="#02020d"/><stop offset="0.02" stop-color="#040414"/><stop offset="0.04" stop-color="#030312"/><stop offset="0.06" stop-color="#040414"/><stop offset="0.09" stop-color="#07061c"/><stop offset="0.11" stop-color="#07061c"/><stop offset="0.13" stop-color="#0b0924"/><stop offset="0.15" stop-color="#0d0a29"/><stop offset="0.17" stop-color="#110c2f"/><stop offset="0.19" stop-color="#130d34"/><stop offset="0.21" stop-color="#1d1147"/><stop offset="0.23" stop-color="#241253"/><stop offset="0.26" stop-color="#2a115c"/><stop offset="0.28" stop-color="#36106b"/><stop offset="0.3" stop-color="#4e117b"/><stop offset="0.32" stop-color="#59157e"/><stop offset="0.34" stop-color="#732081"/><stop offset="0.36" stop-color="#8e2a81"/><stop offset="0.38" stop-color="#aa337d"/><stop offset="0.4" stop-color="#e04c67"/><stop offset="0.43" stop-color="#f8745c"/><stop offset="0.45" stop-color="#feae77"/><stop offset="0.47" stop-color="#fec88c"/><stop offset="0.49" stop-color="#fde0a1"/><stop offset="0.51" stop-color="#fdebac"/><stop offset="0.53" stop-color="#fddea0"/><stop offset="0.55" stop-color="#fecd90"/><stop offset="0.57" stop-color="#fd9b6b"/><stop offset="0.6" stop-color="#f9795d"/><stop offset="0.62" stop-color="#d9466b"/><stop offset="0.64" stop-color="#bf3a77"/><stop offset="0.66" stop-color="#932b80"/><stop offset="0.68" stop-color="#752181"/><stop offset="0.7" stop-color="#56147d"/><stop offset="0.72" stop-color="#4a1079"/><stop offset="0.74" stop-color="#36106b"/><stop offset="0.77" stop-color="#29115a"/><stop offset="0.79" stop-color="#20114b"/><stop offset="0.81" stop-color="#19103f"/><stop offset="0.83" stop-color="#130d34"/><stop offset="0.85" stop-color="#120d31"/><stop offset="0.87" stop-color="#0d0a29"/><stop offset="0.89" stop-color="#0b0924"/><stop offset="0.91" stop-color="#08071e"/><stop offset="0.94" stop-color="#090720"/><stop offset="0.96" stop-color="#060518"/><stop offset="0.98" stop-color="#030312"/><stop offset="1" stop-color="#030312"/></linearGradient><linearGradient id="h21" x1="0" x2="1" y1="0" y2="0"><stop offset="0" stop-color="#02020d"/><stop offset="0.02" stop-color="#03030f"/><stop offset="0.04" stop-color="#060518"/><stop offset="0.06" stop-color="#030312"/><stop offset="0.09" stop-color="#060518"/><stop offset="0.11" stop-color="#06051a"/><stop offset="0.13" stop-color="#0b0924"/><stop offset="0.15" stop-color="#0b0924"/><stop offset="0.17" stop-color="#110c2f"/><stop offset="0.19" stop-color="#130d34"/><stop offset="0.21" stop-color="#1e1149"/><stop offset="0.23" stop-color="#241253"/><stop offset="0.26" stop-color="#251255"/><stop offset="0.28" stop-color="#341069"/><stop offset="0.3" stop-color="#491078"/><stop offset="0.32" stop-color="#5c167f"/><stop offset="0.34" stop-color="#782281"/><stop offset="0.36" stop-color="#9b2e7f"/><stop offset="0.38" stop-color="#b83779"/><stop offset="0.4" stop-color="#e85362"/><stop offset="0.43" stop-color="#fb8761"/><stop offset="0.45" stop-color="#feac76"/><stop offset="0.47" stop-color="#fecd90"/><stop offset="0.49" stop-color="#fde9aa"/><stop offset="0.51" stop-color="#fde9aa"/><stop offset="0.53" stop-color="#fde3a5"/><stop offset="0.55" stop-color="#fecd90"/><stop offset="0.57" stop-color="#fd9a6a"/><stop offset="0.6" stop-color="#f9795d"/><stop offset="0.62" stop-color="#d6456c"/><stop offset="0.64" stop-color="#b73779"/><stop offset="0.66" stop-color="#892881"/><stop offset="0.68" stop-color="#6a1c81"/><stop offset="0.7" stop-color="#5c167f"/><stop offset="0.72" stop-color="#440f76"/><stop offset="0.74" stop-color="#311165"/><stop offset="0.77" stop-color="#241253"/><stop offset="0.79" stop-color="#1c1044"/><stop offset="0.81" stop-color="#19103f"/><stop offset="0.83" stop-color="#130d34"/><stop offset="0.85" stop-color="#120d31"/><stop offset="0.87" stop-color="#0b0924"/><stop offset="0.89" stop-color="#08071e"/><stop offset="0.91" stop-color="#090720"/><stop offset="0.94" stop-color="#060518"/><stop offset="0.96" stop-color="#050416"/><stop offset="0.98" stop-color="#040414"/><stop offset="1" stop-color="#030312"/></linearGradient><linearGradient id="h22" x1="0" x2="1" y1="0" y2="0"><stop offset="0" stop-color="#03030f"/><stop offset="0.02" stop-color="#02020d"/><stop offset="0.04" stop-color="#040414"/><stop offset="0.06" stop-color="#050416"/><stop offset="0.09" stop-color="#090720"/><stop offset="0.11" stop-color="#07061c"/><stop offset="0.13" stop-color="#0a0822"/><stop offset="0.15" stop-color="#100b2d"/><stop offset="0.17" stop-color="#110c2f"/><stop offset="0.19" stop-color="#160f3b"/><stop offset="0.21" stop-color="#19103f"/><stop offset="0.23" stop-color="#21114e"/><stop offset="0.26" stop-color="#2c115f"/><stop offset="0.28" stop-color="#38106c"/><stop offset="0.3" stop-color="#491078"/><stop offset="0.32" stop-color="#5a167e"/><stop offset="0.34" stop-color="#762181"/><stop offset="0.36" stop-color="#9c2e7f"/><stop offset="0.38" stop-color="#c23b75"/><stop offset="0.4" stop-color="#ef5d5e"/><stop offset="0.43" stop-color="#fd9a6a"/><stop offset="0.45" stop-color="#fec287"/><stop offset="0.47" stop-color="#fde3a5"/><stop offset="0.49" stop-color="#fcf9bb"/><stop offset="0.51" stop-color="#fcfdbf"/><stop offset="0.53" stop-color="#fcecae"/><stop offset="0.55" stop-color="#fed89a"/><stop offset="0.57" stop-color="#feaa74"/><stop offset="0.6" stop-color="#f56b5c"/><stop offset="0.62" stop-color="#e04c67"/><stop offset="0.64" stop-color="#b0357b"/><stop offset="0.66" stop-color="#882781"/><stop offset="0.68" stop-color="#6e1e81"/><stop offset="0.7" stop-color="#57157e"/><stop offset="0.72" stop-color="#451077"/><stop offset="0.74" stop-color="#2d1161"/><stop offset="0.77" stop-color="#271258"/><stop offset="0.79" stop-color="#1c1044"/><stop offset="0.81" stop-color="#160f3b"/><stop offset="0.83" stop-color="#120d31"/><stop offset="0.85" stop-color="#0d0a29"/><stop offset="0.87" stop-color="#0a0822"/><stop offset="0.89" stop-color="#090720"/><stop offset="0.91" stop-color="#06051a"/><stop offset="0.94" stop-color="#06051a"/><stop offset="0.96" stop-color="#040414"/><stop offset="0.98" stop-color="#03030f"/><stop offset="1" stop-color="#03030f"/></linearGradient><linearGradient id="h23" x1="0" x2="1" y1="0" y2="0"><stop offset="0" stop-color="#040414"/><stop offset="0.02" stop-color="#040414"/><stop offset="0.04" stop-color="#06051a"/><stop offset="0.06" stop-color="#050416"/><stop offset="0.09" stop-color="#090720"/><stop offset="0.11" stop-color="#08071e"/><stop offset="0.13" stop-color="#090720"/><stop offset="0.15" stop-color="#0c0926"/><stop offset="0.17" stop-color="#110c2f"/><stop offset="0.19" stop-color="#180f3d"/><stop offset="0.21" stop-color="#1e1149"/><stop offset="0.23" stop-color="#29115a"/><stop offset="0.26" stop-color="#2a115c"/><stop offset="0.28" stop-color="#3b0f70"/><stop offset="0.3" stop-color="#4e117b"/><stop offset="0.32" stop-color="#5d177f"/><stop offset="0.34" stop-color="#832681"/><stop offset="0.36" stop-color="#a1307e"/><stop offset="0.38" stop-color="#c43c75"/><stop offset="0.4" stop-color="#e85362"/><stop offset="0.43" stop-color="#fc9065"/><stop offset="0.45" stop-color="#feb97f"/><stop offset="0.47" stop-color="#fde7a9"/><stop offset="0.49" stop-color="#fcf9bb"/><stop offset="0.51" stop-color="#fcf9bb"/><stop offset="0.53" stop-color="#fde9aa"/><stop offset="0.55" stop-color="#fec287"/><stop offset="0.57" stop-color="#fea772"/><stop offset="0.6" stop-color="#f05f5e"/><stop offset="0.62" stop-color="#d6456c"/><stop offset="0.64" stop-color="#a5317e"/><stop offset="0.66" stop-color="#8c2981"/><stop offset="0.68" stop-color="#621980"/><stop offset="0.7" stop-color="#4c117a"/><stop offset="0.72" stop-color="#3d0f71"/><stop offset="0.74" stop-color="#2d1161"/><stop offset="0.77" stop-color="#241253"/><stop offset="0.79" stop-color="#1c1044"/><stop offset="0.81" stop-color="#160f3b"/><stop offset="0.83" stop-color="#120d31"/><stop offset="0.85" stop-color="#0c0926"/><stop offset="0.87" stop-color="#0b0924"/><stop offset="0.89" stop-color="#0a0822"/><stop offset="0.91" stop-color="#08071e"/><stop offset="0.94" stop-color="#050416"/><stop offset="0.96" stop-color="#030312"/><stop offset="0.98" stop-color="#050416"/><stop offset="1" stop-color="#02020b"/></linearGradient><linearGradient id="h24" x1="0" x2="1" y1="0" y2="0"><stop offset="0" stop-color="#030312"/><stop offset="0.02" stop-color="#030312"/><stop offset="0.04" stop-color="#040414"/><stop offset="0.06" stop-color="#06051a"/><stop offset="0.09" stop-color="#090720"/><stop offset="0.11" stop-color="#08071e"/><stop offset="0.13" stop-color="#0c0926"/><stop offset="0.15" stop-color="#100b2d"/><stop offset="0.17" stop-color="#130d34"/><stop offset="0.19" stop-color="#1a1042"/><stop offset="0.21" stop-color="#20114b"/><stop offset="0.23" stop-color="#271258"/><stop offset="0.26" stop-color="#2d1161"/><stop offset="0.28" stop-color="#471078"/><stop offset="0.3" stop-color="#56147d"/><stop offset="0.32" stop-color="#6a1c81"/><stop offset="0.34" stop-color="#892881"/><stop offset="0.36" stop-color="#a8327d"/><stop offset="0.38" stop-color="#d3436e"/><stop offset="0.4" stop-color="#f05f5e"/><stop offset="0.43" stop-color="#fd9668"/><stop offset="0.45" stop-color="#feb77e"/><stop offset="0.47" stop-color="#fed597"/><stop offset="0.49" stop-color="#fceeb0"/><stop offset="0.51" stop-color="#fceeb0"/><stop offset="0.53" stop-color="#fed799"/><stop offset="0.55" stop-color="#fec488"/><stop offset="0.57" stop-color="#fc8e64"/><stop offset="0.6" stop-color="#f3655c"/><stop offset="0.62" stop-color="#e24d66"/><stop offset="0.64" stop-color="#b3367a"/><stop offset="0.66" stop-color="#8c2981"/><stop offset="0.68" stop-color="#701f81"/><stop offset="0.7" stop-color="#601880"/><stop offset="0.72" stop-color="#491078"/><stop offset="0.74" stop-color="#341069"/><stop offset="0.77" stop-color="#251255"/><stop offset="0.79" stop-color="#21114e"/><stop offset="0.81" stop-color="#19103f"/><stop offset="0.83" stop-color="#140e36"/><stop offset="0.85" stop-color="#100b2d"/><stop offset="0.87" stop-color="#0b0924"/><stop offset="0.89" stop-color="#0a0822"/><stop offset="0.91" stop-color="#090720"/><stop offset="0.94" stop-color="#07061c"/><stop offset="0.96" stop-color="#08071e"/><stop offset="0.98" stop-color="#060518"/><stop offset="1" stop-color="#060518"/></linearGradient><linearGradient id="h25" x1="0" x2="1" y1="0" y2="0"><stop offset="0" stop-color="#03030f"/><stop offset="0.02" stop-color="#030312"/><stop offset="0.04" stop-color="#050416"/><stop offset="0.06" stop-color="#06051a"/><stop offset="0.09" stop-color="#08071e"/><stop offset="0.11" stop-color="#0c0926"/><stop offset="0.13" stop-color="#100b2d"/><stop offset="0.15" stop-color="#120d31"/><stop offset="0.17" stop-color="#140e36"/><stop offset="0.19" stop-color="#160f3b"/><stop offset="0.21" stop-color="#20114b"/><stop offset="0.23" stop-color="#271258"/><stop offset="0.26" stop-color="#38106c"/><stop offset="0.28" stop-color="#451077"/><stop offset="0.3" stop-color="#54137d"/><stop offset="0.32" stop-color="#752181"/><stop offset="0.34" stop-color="#942c80"/><stop offset="0.36" stop-color="#b3367a"/><stop offset="0.38" stop-color="#d9466b"/><stop offset="0.4" stop-color="#f8765c"/><stop offset="0.43" stop-color="#fea16e"/><stop offset="0.45" stop-color="#fecc8f"/><stop offset="0.47" stop-color="#fddea0"/><stop offset="0.49" stop-color="#fceeb0"/><stop offset="0.51" stop-color="#fdebac"/><stop offset="0.53" stop-color="#fed597"/><stop offset="0.55" stop-color="#feb77e"/><stop offset="0.57" stop-color="#fc8e64"/><stop offset="0.6" stop-color="#ef5d5e"/><stop offset="0.62" stop-color="#d5446d"/><stop offset="0.64" stop-color="#a6317d"/><stop offset="0.66" stop-color="#862781"/><stop offset="0.68" stop-color="#6a1c81"/><stop offset="0.7" stop-color="#52137c"/><stop offset="0.72" stop-color="#451077"/><stop offset="0.74" stop-color="#311165"/><stop offset="0.77" stop-color="#251255"/><stop offset="0.79" stop-color="#21114e"/><stop offset="0.81" stop-color="#180f3d"/><stop offset="0.83" stop-color="#130d34"/><stop offset="0.85" stop-color="#120d31"/><stop offset="0.87" stop-color="#0d0a29"/><stop offset="0.89" stop-color="#0b0924"/><stop offset="0.91" stop-color="#07061c"/><stop offset="0.94" stop-color="#06051a"/><stop offset="0.96" stop-color="#050416"/><stop offset="0.98" stop-color="#040414"/><stop offset="1" stop-color="#02020d"/></linearGradient><linearGradient id="h26" x1="0" x2="1" y1="0" y2="0"><stop offset="0" stop-color="#03030f"/><stop offset="0.02" stop-color="#03030f"/><stop offset="0.04" stop-color="#050416"/><stop offset="0.06" stop-color="#050416"/><stop offset="0.09" stop-color="#07061c"/><stop offset="0.11" stop-color="#0c0926"/><stop offset="0.13" stop-color="#0b0924"/><stop offset="0.15" stop-color="#100b2d"/><stop offset="0.17" stop-color="#180f3d"/><stop offset="0.19" stop-color="#160f3b"/><stop offset="0.21" stop-color="#20114b"/><stop offset="0.23" stop-color="#241253"/><stop offset="0.26" stop-color="#341069"/><stop offset="0.28" stop-color="#440f76"/><stop offset="0.3" stop-color="#59157e"/><stop offset="0.32" stop-color="#6e1e81"/><stop offset="0.34" stop-color="#842681"/><stop offset="0.36" stop-color="#aa337d"/><stop offset="0.38" stop-color="#db476a"/><stop offset="0.4" stop-color="#f7725c"/><stop offset="0.43" stop-color="#fe9f6d"/><stop offset="0.45" stop-color="#fec488"/><stop offset="0.47" stop-color="#fde5a7"/><stop offset="0.49" stop-color="#fcf6b8"/><stop offset="0.51" stop-color="#fcf9bb"/><stop offset="0.53" stop-color="#fddea0"/><stop offset="0.55" stop-color="#feb97f"/><stop offset="0.57" stop-color="#fc8e64"/><stop offset="0.6" stop-color="#ee5b5e"/><stop offset="0.62" stop-color="#c53c74"/><stop offset="0.64" stop-color="#a5317e"/><stop offset="0.66" stop-color="#792282"/><stop offset="0.68" stop-color="#641a80"/><stop offset="0.7" stop-color="#491078"/><stop offset="0.72" stop-color="#36106b"/><stop offset="0.74" stop-color="#2c115f"/><stop offset="0.77" stop-color="#271258"/><stop offset="0.79" stop-color="#1c1044"/><stop offset="0.81" stop-color="#150e38"/><stop offset="0.83" stop-color="#120d31"/><stop offset="0.85" stop-color="#110c2f"/><stop offset="0.87" stop-color="#0a0822"/><stop offset="0.89" stop-color="#07061c"/><stop offset="0.91" stop-color="#07061c"/><stop offset="0.94" stop-color="#050416"/><stop offset="0.96" stop-color="#040414"/><stop offset="0.98" stop-color="#03030f"/><stop offset="1" stop-color="#02020b"/></linearGradient><linearGradient id="h27" x1="0" x2="1" y1="0" y2="0"><stop offset="0" stop-color="#03030f"/><stop offset="0.02" stop-color="#03030f"/><stop offset="0.04" stop-color="#030312"/><stop offset="0.06" stop-color="#060518"/><stop offset="0.09" stop-color="#08071e"/><stop offset="0.11" stop-color="#08071e"/><stop offset="0.13" stop-color="#0a0822"/><stop offset="0.15" stop-color="#0c0926"/><stop offset="0.17" stop-color="#130d34"/><stop offset="0.19" stop-color="#150e38"/><stop offset="0.21" stop-color="#1d1147"/><stop offset="0.23" stop-color="#21114e"/><stop offset="0.26" stop-color="#2a115c"/><stop offset="0.28" stop-color="#390f6e"/><stop offset="0.3" stop-color="#4e117b"/><stop offset="0.32" stop-color="#621980"/><stop offset="0.34" stop-color="#782281"/><stop offset="0.36" stop-color="#a1307e"/><stop offset="0.38" stop-color="#bf3a77"/><stop offset="0.4" stop-color="#ee5b5e"/><stop offset="0.43" stop-color="#fb835f"/><stop offset="0.45" stop-color="#feb77e"/><stop offset="0.47" stop-color="#fddea0"/><stop offset="0.49" stop-color="#fcecae"/><stop offset="0.51" stop-color="#fcf6b8"/><stop offset="0.53" stop-color="#fde5a7"/><stop offset="0.55" stop-color="#fecc8f"/><stop offset="0.57" stop-color="#fea973"/><stop offset="0.6" stop-color="#f7725c"/><stop offset="0.62" stop-color="#dc4869"/><stop offset="0.64" stop-color="#b5367a"/><stop offset="0.66" stop-color="#932b80"/><stop offset="0.68" stop-color="#6d1d81"/><stop offset="0.7" stop-color="#5c167f"/><stop offset="0.72" stop-color="#3f0f72"/><stop offset="0.74" stop-color="#341069"/><stop offset="0.77" stop-color="#2a115c"/><stop offset="0.79" stop-color="#1a1042"/><stop offset="0.81" stop-color="#160f3b"/><stop offset="0.83" stop-color="#150e38"/><stop offset="0.85" stop-color="#110c2f"/><stop offset="0.87" stop-color="#0b0924"/><stop offset="0.89" stop-color="#0c0926"/><stop offset="0.91" stop-color="#08071e"/><stop offset="0.94" stop-color="#07061c"/><stop offset="0.96" stop-color="#050416"/><stop offset="0.98" stop-color="#06051a"/><stop offset="1" stop-color="#030312"/></linearGradient><linearGradient id="h28" x1="0" x2="1" y1="0" y2="0"><stop offset="0" stop-color="#03030f"/><stop offset="0.02" stop-color="#02020d"/><stop offset="0.04" stop-color="#03030f"/><stop offset="0.06" stop-color="#050416"/><stop offset="0.09" stop-color="#050416"/><stop offset="0.11" stop-color="#07061c"/><stop offset="0.13" stop-color="#090720"/><stop offset="0.15" stop-color="#0b0924"/><stop offset="0.17" stop-color="#130d34"/><stop offset="0.19" stop-color="#120d31"/><stop offset="0.21" stop-color="#1d1147"/><stop offset="0.23" stop-color="#1d1147"/><stop offset="0.26" stop-color="#29115a"/><stop offset="0.28" stop-color="#2c115f"/><stop offset="0.3" stop-color="#451077"/><stop offset="0.32" stop-color="#59157e"/><stop offset="0.34" stop-color="#6d1d81"/><stop offset="0.36" stop-color="#912b81"/><stop offset="0.38" stop-color="#b0357b"/><stop offset="0.4" stop-color="#e34e65"/><stop offset="0.43" stop-color="#fa7d5e"/><stop offset="0.45" stop-color="#fea772"/><stop offset="0.47" stop-color="#fed597"/><stop offset="0.49" stop-color="#fceeb0"/><stop offset="0.51" stop-color="#fcf4b6"/><stop offset="0.53" stop-color="#fde7a9"/><stop offset="0.55" stop-color="#fecc8f"/><stop offset="0.57" stop-color="#feaa74"/><stop offset="0.6" stop-color="#f4675c"/><stop offset="0.62" stop-color="#d3436e"/><stop offset="0.64" stop-color="#ad347c"/><stop offset="0.66" stop-color="#892881"/><stop offset="0.68" stop-color="#6b1d81"/><stop offset="0.7" stop-color="#54137d"/><stop offset="0.72" stop-color="#3f0f72"/><stop offset="0.74" stop-color="#331067"/><stop offset="0.77" stop-color="#221150"/><stop offset="0.79" stop-color="#1c1044"/><stop offset="0.81" stop-color="#19103f"/><stop offset="0.83" stop-color="#120d31"/><stop offset="0.85" stop-color="#0c0926"/><stop offset="0.87" stop-color="#0a0822"/><stop offset="0.89" stop-color="#08071e"/><stop offset="0.91" stop-color="#07061c"/><stop offset="0.94" stop-color="#050416"/><stop offset="0.96" stop-color="#050416"/><stop offset="0.98" stop-color="#06051a"/><stop offset="1" stop-color="#02020d"/></linearGradient><linearGradient id="h29" x1="0" x2="1" y1="0" y2="0"><stop offset="0" stop-color="#02020b"/><stop offset="0.02" stop-color="#02020d"/><stop offset="0.04" stop-color="#050416"/><stop offset="0.06" stop-color="#040414"/><stop offset="0.09" stop-color="#060518"/><stop offset="0.11" stop-color="#060518"/><stop offset="0.13" stop-color="#07061c"/><stop offset="0.15" stop-color="#0a0822"/><stop offset="0.17" stop-color="#0e0b2b"/><stop offset="0.19" stop-color="#130d34"/><stop offset="0.21" stop-color="#19103f"/><stop offset="0.23" stop-color="#20114b"/><stop offset="0.26" stop-color="#271258"/><stop offset="0.28" stop-color="#2d1161"/><stop offset="0.3" stop-color="#420f75"/><stop offset="0.32" stop-color="#5d177f"/><stop offset="0.34" stop-color="#6d1d81"/><stop offset="0.36" stop-color="#8c2981"/><stop offset="0.38" stop-color="#ba3878"/><stop offset="0.4" stop-color="#d9466b"/><stop offset="0.43" stop-color="#fa7f5e"/><stop offset="0.45" stop-color="#feb67c"/><stop offset="0.47" stop-color="#fec88c"/><stop offset="0.49" stop-color="#fde5a7"/><stop offset="0.51" stop-color="#fceeb0"/><stop offset="0.53" stop-color="#fceeb0"/><stop offset="0.55" stop-color="#fecc8f"/><stop offset="0.57" stop-color="#fea36f"/><stop offset="0.6" stop-color="#ed5a5f"/><stop offset="0.62" stop-color="#d6456c"/><stop offset="0.64" stop-color="#ab337c"/><stop offset="0.66" stop-color="#832681"/><stop offset="0.68" stop-color="#621980"/><stop offset="0.7" stop-color="#52137c"/><stop offset="0.72" stop-color="#3d0f71"/><stop offset="0.74" stop-color="#2d1161"/><stop offset="0.77" stop-color="#221150"/><stop offset="0.79" stop-color="#1a1042"/><stop offset="0.81" stop-color="#160f3b"/><stop offset="0.83" stop-color="#150e38"/><stop offset="0.85" stop-color="#0e0b2b"/><stop offset="0.87" stop-color="#0d0a29"/><stop offset="0.89" stop-color="#08071e"/><stop offset="0.91" stop-color="#06051a"/><stop offset="0.94" stop-color="#050416"/><stop offset="0.96" stop-color="#030312"/><stop offset="0.98" stop-color="#03030f"/><stop offset="1" stop-color="#02020d"/></linearGradient><linearGradient id="h30" x1="0" x2="1" y1="0" y2="0"><stop offset="0" stop-color="#02020b"/><stop offset="0.02" stop-color="#02020d"/><stop offset="0.04" stop-color="#050416"/><stop offset="0.06" stop-color="#040414"/><stop offset="0.09" stop-color="#050416"/><stop offset="0.11" stop-color="#07061c"/><stop offset="0.13" stop-color="#090720"/><stop offset="0.15" stop-color="#0c0926"/><stop offset="0.17" stop-color="#100b2d"/><stop offset="0.19" stop-color="#150e38"/><stop offset="0.21" stop-color="#180f3d"/><stop offset="0.23" stop-color="#1e1149"/><stop offset="0.26" stop-color="#2c115f"/><stop offset="0.28" stop-color="#38106c"/><stop offset="0.3" stop-color="#491078"/><stop offset="0.32" stop-color="#59157e"/><stop offset="0.34" stop-color="#701f81"/><stop offset="0.36" stop-color="#8c2981"/><stop offset="0.38" stop-color="#ba3878"/><stop offset="0.4" stop-color="#e34e65"/><stop offset="0.43" stop-color="#f8765c"/><stop offset="0.45" stop-color="#fea772"/><stop offset="0.47" stop-color="#fde3a5"/><stop offset="0.49" stop-color="#fcf0b2"/><stop offset="0.51" stop-color="#fcfdbf"/><stop offset="0.53" stop-color="#fcf0b2"/><stop offset="0.55" stop-color="#fed194"/><stop offset="0.57" stop-color="#feac76"/><stop offset="0.6" stop-color="#f97b5d"/><stop offset="0.62" stop-color="#db476a"/><stop offset="0.64" stop-color="#b5367a"/><stop offset="0.66" stop-color="#8e2a81"/><stop offset="0.68" stop-color="#752181"/><stop offset="0.7" stop-color="#5a167e"/><stop offset="0.72" stop-color="#451077"/><stop offset="0.74" stop-color="#36106b"/><stop offset="0.77" stop-color="#2d1161"/><stop offset="0.79" stop-color="#251255"/><stop offset="0.81" stop-color="#160f3b"/><stop offset="0.83" stop-color="#130d34"/><stop offset="0.85" stop-color="#120d31"/><stop offset="0.87" stop-color="#0c0926"/><stop offset="0.89" stop-color="#0a0822"/><stop offset="0.91" stop-color="#090720"/><stop offset="0.94" stop-color="#060518"/><stop offset="0.96" stop-color="#040414"/><stop offset="0.98" stop-color="#060518"/><stop offset="1" stop-color="#02020d"/></linearGradient><linearGradient id="h31" x1="0" x2="1" y1="0" y2="0"><stop offset="0" stop-color="#02020d"/><stop offset="0.02" stop-color="#03030f"/><stop offset="0.04" stop-color="#030312"/><stop offset="0.06" stop-color="#050416"/><stop offset="0.09" stop-color="#040414"/><stop offset="0.11" stop-color="#06051a"/><stop offset="0.13" stop-color="#090720"/><stop offset="0.15" stop-color="#0b0924"/><stop offset="0.17" stop-color="#0e0b2b"/><stop offset="0.19" stop-color="#140e36"/><stop offset="0.21" stop-color="#150e38"/><stop offset="0.23" stop-color="#20114b"/><stop offset="0.26" stop-color="#29115a"/><stop offset="0.28" stop-color="#390f6e"/><stop offset="0.3" stop-color="#420f75"/><stop offset="0.32" stop-color="#4e117b"/><stop offset="0.34" stop-color="#701f81"/><stop offset="0.36" stop-color="#8e2a81"/><stop offset="0.38" stop-color="#bf3a77"/><stop offset="0.4" stop-color="#d6456c"/><stop offset="0.43" stop-color="#f7725c"/><stop offset="0.45" stop-color="#feaa74"/><stop offset="0.47" stop-color="#fdda9c"/><stop offset="0.49" stop-color="#fcf0b2"/><stop offset="0.51" stop-color="#fcfdbf"/><stop offset="0.53" stop-color="#fcfdbf"/><stop offset="0.55" stop-color="#fde0a1"/><stop offset="0.57" stop-color="#febf84"/><stop offset="0.6" stop-color="#fa815f"/><stop offset="0.62" stop-color="#ec5860"/><stop offset="0.64" stop-color="#bf3a77"/><stop offset="0.66" stop-color="#992d80"/><stop offset="0.68" stop-color="#732081"/><stop offset="0.7" stop-color="#59157e"/><stop offset="0.72" stop-color="#4a1079"/><stop offset="0.74" stop-color="#3b0f70"/><stop offset="0.77" stop-color="#2a115c"/><stop offset="0.79" stop-color="#1d1147"/><stop offset="0.81" stop-color="#19103f"/><stop offset="0.83" stop-color="#140e36"/><stop offset="0.85" stop-color="#130d34"/><stop offset="0.87" stop-color="#0b0924"/><stop offset="0.89" stop-color="#08071e"/><stop offset="0.91" stop-color="#06051a"/><stop offset="0.94" stop-color="#060518"/><stop offset="0.96" stop-color="#040414"/><stop offset="0.98" stop-color="#030312"/><stop offset="1" stop-color="#03030f"/></linearGradient><linearGradient id="h32" x1="0" x2="1" y1="0" y2="0"><stop offset="0" stop-color="#02020d"/><stop offset="0.02" stop-color="#02020d"/><stop offset="0.04" stop-color="#02020d"/><stop offset="0.06" stop-color="#030312"/><stop offset="0.09" stop-color="#030312"/><stop offset="0.11" stop-color="#050416"/><stop offset="0.13" stop-color="#06051a"/><stop offset="0.15" stop-color="#08071e"/><stop offset="0.17" stop-color="#100b2d"/><stop offset="0.19" stop-color="#100b2d"/><stop offset="0.21" stop-color="#120d31"/><stop offset="0.23" stop-color="#19103f"/><stop offset="0.26" stop-color="#1d1147"/><stop offset="0.28" stop-color="#271258"/><stop offset="0.3" stop-color="#3d0f71"/><stop offset="0.32" stop-color="#451077"/><stop offset="0.34" stop-color="#621980"/><stop offset="0.36" stop-color="#782281"/><stop offset="0.38" stop-color="#9c2e7f"/><stop offset="0.4" stop-color="#db476a"/><stop offset="0.43" stop-color="#f7725c"/><stop offset="0.45" stop-color="#fd9668"/><stop offset="0.47" stop-color="#fec88c"/><stop offset="0.49" stop-color="#fde3a5"/><stop offset="0.51" stop-color="#fcf9bb"/><stop offset="0.53" stop-color="#fde2a3"/><stop offset="0.55" stop-color="#fecd90"/><stop offset="0.57" stop-color="#fe9d6c"/><stop offset="0.6" stop-color="#f3655c"/><stop offset="0.62" stop-color="#c53c74"/><stop offset="0.64" stop-color="#a3307e"/><stop offset="0.66" stop-color="#882781"/><stop offset="0.68" stop-color="#681c81"/><stop offset="0.7" stop-color="#4c117a"/><stop offset="0.72" stop-color="#38106c"/><stop offset="0.74" stop-color="#2a115c"/><stop offset="0.77" stop-color="#21114e"/><stop offset="0.79" stop-color="#19103f"/><stop offset="0.81" stop-color="#140e36"/><stop offset="0.83" stop-color="#100b2d"/><stop offset="0.85" stop-color="#140e36"/><stop offset="0.87" stop-color="#0a0822"/><stop offset="0.89" stop-color="#07061c"/><stop offset="0.91" stop-color="#060518"/><stop offset="0.94" stop-color="#040414"/><stop offset="0.96" stop-color="#030312"/><stop offset="0.98" stop-color="#02020d"/><stop offset="1" stop-color="#02020d"/></linearGradient><linearGradient id="h33" x1="0" x2="1" y1="0" y2="0"><stop offset="0" stop-color="#03030f"/><stop offset="0.02" stop-color="#02020b"/><stop offset="0.04" stop-color="#02020d"/><stop offset="0.06" stop-color="#02020d"/><stop offset="0.09" stop-color="#030312"/><stop offset="0.11" stop-color="#060518"/><stop offset="0.13" stop-color="#060518"/><stop offset="0.15" stop-color="#090720"/><stop offset="0.17" stop-color="#0b0924"/><stop offset="0.19" stop-color="#0d0a29"/><stop offset="0.21" stop-color="#120d31"/><stop offset="0.23" stop-color="#180f3d"/><stop offset="0.26" stop-color="#21114e"/><stop offset="0.28" stop-color="#271258"/><stop offset="0.3" stop-color="#331067"/><stop offset="0.32" stop-color="#451077"/><stop offset="0.34" stop-color="#56147d"/><stop offset="0.36" stop-color="#762181"/><stop offset="0.38" stop-color="#9e2f7f"/><stop offset="0.4" stop-color="#bf3a77"/><stop offset="0.43" stop-color="#ef5d5e"/><stop offset="0.45" stop-color="#fc8961"/><stop offset="0.47" stop-color="#fec488"/><stop offset="0.49" stop-color="#fddc9e"/><stop offset="0.51" stop-color="#fcf4b6"/><stop offset="0.53" stop-color="#fcf4b6"/><stop offset="0.55" stop-color="#fde7a9"/><stop offset="0.57" stop-color="#fea571"/><stop offset="0.6" stop-color="#f9795d"/><stop offset="0.62" stop-color="#e34e65"/><stop offset="0.64" stop-color="#b5367a"/><stop offset="0.66" stop-color="#902a81"/><stop offset="0.68" stop-color="#681c81"/><stop offset="0.7" stop-color="#491078"/><stop offset="0.72" stop-color="#400f74"/><stop offset="0.74" stop-color="#311165"/><stop offset="0.77" stop-color="#271258"/><stop offset="0.79" stop-color="#1c1044"/><stop offset="0.81" stop-color="#120d31"/><stop offset="0.83" stop-color="#100b2d"/><stop offset="0.85" stop-color="#0c0926"/><stop offset="0.87" stop-color="#0a0822"/><stop offset="0.89" stop-color="#07061c"/><stop offset="0.91" stop-color="#07061c"/><stop offset="0.94" stop-color="#040414"/><stop offset="0.96" stop-color="#040414"/><stop offset="0.98" stop-color="#02020d"/><stop offset="1" stop-color="#02020d"/></linearGradient><linearGradient id="h34" x1="0" x2="1" y1="0" y2="0"><stop offset="0" stop-color="#020109"/><stop offset="0.02" stop-color="#030312"/><stop offset="0.04" stop-color="#050416"/><stop offset="0.06" stop-color="#03030f"/><stop offset="0.09" stop-color="#040414"/><stop offset="0.11" stop-color="#060518"/><stop offset="0.13" stop-color="#06051a"/><stop offset="0.15" stop-color="#08071e"/><stop offset="0.17" stop-color="#0a0822"/><stop offset="0.19" stop-color="#100b2d"/><stop offset="0.21" stop-color="#140e36"/><stop offset="0.23" stop-color="#1c1044"/><stop offset="0.26" stop-color="#251255"/><stop offset="0.28" stop-color="#2a115c"/><stop offset="0.3" stop-color="#3b0f70"/><stop offset="0.32" stop-color="#491078"/><stop offset="0.34" stop-color="#621980"/><stop offset="0.36" stop-color="#7c2382"/><stop offset="0.38" stop-color="#a8327d"/><stop offset="0.4" stop-color="#ca3e72"/><stop offset="0.43" stop-color="#ec5860"/><stop offset="0.45" stop-color="#fd9266"/><stop offset="0.47" stop-color="#feb67c"/><stop offset="0.49" stop-color="#fed89a"/><stop offset="0.51" stop-color="#fde9aa"/><stop offset="0.53" stop-color="#fde9aa"/><stop offset="0.55" stop-color="#fec88c"/><stop offset="0.57" stop-color="#fea772"/><stop offset="0.6" stop-color="#fa7d5e"/><stop offset="0.62" stop-color="#df4a68"/><stop offset="0.64" stop-color="#b73779"/><stop offset="0.66" stop-color="#8c2981"/><stop offset="0.68" stop-color="#701f81"/><stop offset="0.7" stop-color="#51127c"/><stop offset="0.72" stop-color="#420f75"/><stop offset="0.74" stop-color="#2f1163"/><stop offset="0.77" stop-color="#271258"/><stop offset="0.79" stop-color="#1c1044"/><stop offset="0.81" stop-color="#130d34"/><stop offset="0.83" stop-color="#100b2d"/><stop offset="0.85" stop-color="#0e0b2b"/><stop offset="0.87" stop-color="#0b0924"/><stop offset="0.89" stop-color="#0a0822"/><stop offset="0.91" stop-color="#060518"/><stop offset="0.94" stop-color="#060518"/><stop offset="0.96" stop-color="#030312"/><stop offset="0.98" stop-color="#03030f"/><stop offset="1" stop-color="#040414"/></linearGradient><linearGradient id="h35" x1="0" x2="1" y1="0" y2="0"><stop offset="0" stop-color="#03030f"/><stop offset="0.02" stop-color="#030312"/><stop offset="0.04" stop-color="#030312"/><stop offset="0.06" stop-color="#03030f"/><stop offset="0.09" stop-color="#040414"/><stop offset="0.11" stop-color="#050416"/><stop offset="0.13" stop-color="#090720"/><stop offset="0.15" stop-color="#090720"/><stop offset="0.17" stop-color="#0e0b2b"/><stop offset="0.19" stop-color="#110c2f"/><stop offset="0.21" stop-color="#160f3b"/><stop offset="0.23" stop-color="#150e38"/><stop offset="0.26" stop-color="#221150"/><stop offset="0.28" stop-color="#2a115c"/><stop offset="0.3" stop-color="#3d0f71"/><stop offset="0.32" stop-color="#4f127b"/><stop offset="0.34" stop-color="#601880"/><stop offset="0.36" stop-color="#832681"/><stop offset="0.38" stop-color="#ab337c"/><stop offset="0.4" stop-color="#ca3e72"/><stop offset="0.43" stop-color="#ee5b5e"/><stop offset="0.45" stop-color="#fc8c63"/><stop offset="0.47" stop-color="#fec488"/><stop offset="0.49" stop-color="#fecd90"/><stop offset="0.51" stop-color="#fde2a3"/><stop offset="0.53" stop-color="#fed194"/><stop offset="0.55" stop-color="#febb81"/><stop offset="0.57" stop-color="#fc8961"/><stop offset="0.6" stop-color="#ee5b5e"/><stop offset="0.62" stop-color="#c73d73"/><stop offset="0.64" stop-color="#b0357b"/><stop offset="0.66" stop-color="#862781"/><stop offset="0.68" stop-color="#671b80"/><stop offset="0.7" stop-color="#52137c"/><stop offset="0.72" stop-color="#3b0f70"/><stop offset="0.74" stop-color="#2c115f"/><stop offset="0.77" stop-color="#221150"/><stop offset="0.79" stop-color="#1c1044"/><stop offset="0.81" stop-color="#130d34"/><stop offset="0.83" stop-color="#140e36"/><stop offset="0.85" stop-color="#0d0a29"/><stop offset="0.87" stop-color="#0c0926"/><stop offset="0.89" stop-color="#07061c"/><stop offset="0.91" stop-color="#060518"/><stop offset="0.94" stop-color="#040414"/><stop offset="0.96" stop-color="#06051a"/><stop offset="0.98" stop-color="#040414"/><stop offset="1" stop-color="#03030f"/></linearGradient><linearGradient id="h36" x1="0" x2="1" y1="0" y2="0"><stop offset="0" stop-color="#03030f"/><stop offset="0.02" stop-color="#040414"/><stop offset="0.04" stop-color="#03030f"/><stop offset="0.06" stop-color="#050416"/><stop offset="0.09" stop-color="#07061c"/><stop offset="0.11" stop-color="#06051a"/><stop offset="0.13" stop-color="#0a0822"/><stop offset="0.15" stop-color="#0a0822"/><stop offset="0.17" stop-color="#0d0a29"/><stop offset="0.19" stop-color="#110c2f"/><stop offset="0.21" stop-color="#180f3d"/><stop offset="0.23" stop-color="#241253"/><stop offset="0.26" stop-color="#221150"/><stop offset="0.28" stop-color="#2c115f"/><stop offset="0.3" stop-color="#451077"/><stop offset="0.32" stop-color="#4a1079"/><stop offset="0.34" stop-color="#641a80"/><stop offset="0.36" stop-color="#802582"/><stop offset="0.38" stop-color="#b3367a"/><stop offset="0.4" stop-color="#dc4869"/><stop offset="0.43" stop-color="#f2645c"/><stop offset="0.45" stop-color="#fd9266"/><stop offset="0.47" stop-color="#fed194"/><stop offset="0.49" stop-color="#fed597"/><stop offset="0.51" stop-color="#fde3a5"/><stop offset="0.53" stop-color="#fddc9e"/><stop offset="0.55" stop-color="#fec88c"/><stop offset="0.57" stop-color="#feaa74"/><stop offset="0.6" stop-color="#f9785d"/><stop offset="0.62" stop-color="#de4968"/><stop offset="0.64" stop-color="#bc3978"/><stop offset="0.66" stop-color="#8e2a81"/><stop offset="0.68" stop-color="#752181"/><stop offset="0.7" stop-color="#5c167f"/><stop offset="0.72" stop-color="#440f76"/><stop offset="0.74" stop-color="#331067"/><stop offset="0.77" stop-color="#2a115c"/><stop offset="0.79" stop-color="#1e1149"/><stop offset="0.81" stop-color="#19103f"/><stop offset="0.83" stop-color="#180f3d"/><stop offset="0.85" stop-color="#100b2d"/><stop offset="0.87" stop-color="#0c0926"/><stop offset="0.89" stop-color="#08071e"/><stop offset="0.91" stop-color="#07061c"/><stop offset="0.94" stop-color="#07061c"/><stop offset="0.96" stop-color="#040414"/><stop offset="0.98" stop-color="#030312"/><stop offset="1" stop-color="#02020d"/></linearGradient><linearGradient id="h37" x1="0" x2="1" y1="0" y2="0"><stop offset="0" stop-color="#02020d"/><stop offset="0.02" stop-color="#02020d"/><stop offset="0.04" stop-color="#030312"/><stop offset="0.06" stop-color="#030312"/><stop offset="0.09" stop-color="#07061c"/><stop offset="0.11" stop-color="#060518"/><stop offset="0.13" stop-color="#08071e"/><stop offset="0.15" stop-color="#0c0926"/><stop offset="0.17" stop-color="#0d0a29"/><stop offset="0.19" stop-color="#100b2d"/><stop offset="0.21" stop-color="#140e36"/><stop offset="0.23" stop-color="#1e1149"/><stop offset="0.26" stop-color="#221150"/><stop offset="0.28" stop-color="#341069"/><stop offset="0.3" stop-color="#420f75"/><stop offset="0.32" stop-color="#57157e"/><stop offset="0.34" stop-color="#701f81"/><stop offset="0.36" stop-color="#962c80"/><stop offset="0.38" stop-color="#aa337d"/><stop offset="0.4" stop-color="#e44f64"/><stop offset="0.43" stop-color="#f9795d"/><stop offset="0.45" stop-color="#feae77"/><stop offset="0.47" stop-color="#fed597"/><stop offset="0.49" stop-color="#fcf0b2"/><stop offset="0.51" stop-color="#fdebac"/><stop offset="0.53" stop-color="#fde7a9"/><stop offset="0.55" stop-color="#feb27a"/><stop offset="0.57" stop-color="#fb835f"/><stop offset="0.6" stop-color="#e75263"/><stop offset="0.62" stop-color="#c83e73"/><stop offset="0.64" stop-color="#962c80"/><stop offset="0.66" stop-color="#792282"/><stop offset="0.68" stop-color="#601880"/><stop offset="0.7" stop-color="#491078"/><stop offset="0.72" stop-color="#36106b"/><stop offset="0.74" stop-color="#251255"/><stop offset="0.77" stop-color="#1d1147"/><stop offset="0.79" stop-color="#19103f"/><stop offset="0.81" stop-color="#150e38"/><stop offset="0.83" stop-color="#100b2d"/><stop offset="0.85" stop-color="#100b2d"/><stop offset="0.87" stop-color="#08071e"/><stop offset="0.89" stop-color="#060518"/><stop offset="0.91" stop-color="#06051a"/><stop offset="0.94" stop-color="#060518"/><stop offset="0.96" stop-color="#07061c"/><stop offset="0.98" stop-color="#040414"/><stop offset="1" stop-color="#03030f"/></linearGradient><linearGradient id="h38" x1="0" x2="1" y1="0" y2="0"><stop offset="0" stop-color="#02020d"/><stop offset="0.02" stop-color="#040414"/><stop offset="0.04" stop-color="#03030f"/><stop offset="0.06" stop-color="#050416"/><stop offset="0.09" stop-color="#0a0822"/><stop offset="0.11" stop-color="#06051a"/><stop offset="0.13" stop-color="#0a0822"/><stop offset="0.15" stop-color="#110c2f"/><stop offset="0.17" stop-color="#130d34"/><stop offset="0.19" stop-color="#150e38"/><stop offset="0.21" stop-color="#1d1147"/><stop offset="0.23" stop-color="#241253"/><stop offset="0.26" stop-color="#29115a"/><stop offset="0.28" stop-color="#3b0f70"/><stop offset="0.3" stop-color="#4a1079"/><stop offset="0.32" stop-color="#601880"/><stop offset="0.34" stop-color="#7c2382"/><stop offset="0.36" stop-color="#9c2e7f"/><stop offset="0.38" stop-color="#c83e73"/><stop offset="0.4" stop-color="#ef5d5e"/><stop offset="0.43" stop-color="#fb8560"/><stop offset="0.45" stop-color="#fec88c"/><stop offset="0.47" stop-color="#fdebac"/><stop offset="0.49" stop-color="#fcf7b9"/><stop offset="0.51" stop-color="#fcfdbf"/><stop offset="0.53" stop-color="#fde7a9"/><stop offset="0.55" stop-color="#feb47b"/><stop offset="0.57" stop-color="#fb8761"/><stop offset="0.6" stop-color="#f05f5e"/><stop offset="0.62" stop-color="#cd4071"/><stop offset="0.64" stop-color="#9b2e7f"/><stop offset="0.66" stop-color="#882781"/><stop offset="0.68" stop-color="#5d177f"/><stop offset="0.7" stop-color="#51127c"/><stop offset="0.72" stop-color="#3d0f71"/><stop offset="0.74" stop-color="#2f1163"/><stop offset="0.77" stop-color="#221150"/><stop offset="0.79" stop-color="#1e1149"/><stop offset="0.81" stop-color="#140e36"/><stop offset="0.83" stop-color="#140e36"/><stop offset="0.85" stop-color="#0d0a29"/><stop offset="0.87" stop-color="#0a0822"/><stop offset="0.89" stop-color="#090720"/><stop offset="0.91" stop-color="#06051a"/><stop offset="0.94" stop-color="#050416"/><stop offset="0.96" stop-color="#03030f"/><stop offset="0.98" stop-color="#02020d"/><stop offset="1" stop-color="#040414"/></linearGradient><linearGradient id="h39" x1="0" x2="1" y1="0" y2="0"><stop offset="0" stop-color="#02020b"/><stop offset="0.02" stop-color="#03030f"/><stop offset="0.04" stop-color="#040414"/><stop offset="0.06" stop-color="#06051a"/><stop offset="0.09" stop-color="#060518"/><stop offset="0.11" stop-color="#0a0822"/><stop offset="0.13" stop-color="#0a0822"/><stop offset="0.15" stop-color="#0d0a29"/><stop offset="0.17" stop-color="#110c2f"/><stop offset="0.19" stop-color="#130d34"/><stop offset="0.21" stop-color="#1c1044"/><stop offset="0.23" stop-color="#1d1147"/><stop offset="0.26" stop-color="#2a115c"/><stop offset="0.28" stop-color="#390f6e"/><stop offset="0.3" stop-color="#4a1079"/><stop offset="0.32" stop-color="#651a80"/><stop offset="0.34" stop-color="#7b2382"/><stop offset="0.36" stop-color="#a02f7f"/><stop offset="0.38" stop-color="#c53c74"/><stop offset="0.4" stop-color="#eb5760"/><stop offset="0.43" stop-color="#fc8e64"/><stop offset="0.45" stop-color="#febd82"/><stop offset="0.47" stop-color="#fde2a3"/><stop offset="0.49" stop-color="#fcf2b4"/><stop offset="0.51" stop-color="#fcfbbd"/><stop offset="0.53" stop-color="#fde2a3"/><stop offset="0.55" stop-color="#febb81"/><stop offset="0.57" stop-color="#fc8961"/><stop offset="0.6" stop-color="#f4695c"/><stop offset="0.62" stop-color="#ca3e72"/><stop offset="0.64" stop-color="#9e2f7f"/><stop offset="0.66" stop-color="#7e2482"/><stop offset="0.68" stop-color="#6b1d81"/><stop offset="0.7" stop-color="#4e117b"/><stop offset="0.72" stop-color="#440f76"/><stop offset="0.74" stop-color="#2c115f"/><stop offset="0.77" stop-color="#251255"/><stop offset="0.79" stop-color="#1a1042"/><stop offset="0.81" stop-color="#150e38"/><stop offset="0.83" stop-color="#110c2f"/><stop offset="0.85" stop-color="#0d0a29"/><stop offset="0.87" stop-color="#0a0822"/><stop offset="0.89" stop-color="#090720"/><stop offset="0.91" stop-color="#07061c"/><stop offset="0.94" stop-color="#060518"/><stop offset="0.96" stop-color="#030312"/><stop offset="0.98" stop-color="#03030f"/><stop offset="1" stop-color="#02020d"/></linearGradient><linearGradient id="h40" x1="0" x2="1" y1="0" y2="0"><stop offset="0" stop-color="#03030f"/><stop offset="0.02" stop-color="#050416"/><stop offset="0.04" stop-color="#03030f"/><stop offset="0.06" stop-color="#040414"/><stop offset="0.09" stop-color="#050416"/><stop offset="0.11" stop-color="#060518"/><stop offset="0.13" stop-color="#090720"/><stop offset="0.15" stop-color="#0b0924"/><stop offset="0.17" stop-color="#0d0a29"/><stop offset="0.19" stop-color="#140e36"/><stop offset="0.21" stop-color="#160f3b"/><stop offset="0.23" stop-color="#241253"/><stop offset="0.26" stop-color="#2a115c"/><stop offset="0.28" stop-color="#390f6e"/><stop offset="0.3" stop-color="#440f76"/><stop offset="0.32" stop-color="#601880"/><stop offset="0.34" stop-color="#732081"/><stop offset="0.36" stop-color="#982d80"/><stop offset="0.38" stop-color="#bc3978"/><stop offset="0.4" stop-color="#e44f64"/><stop offset="0.43" stop-color="#fc8961"/><stop offset="0.45" stop-color="#feb078"/><stop offset="0.47" stop-color="#fecf92"/><stop offset="0.49" stop-color="#fcecae"/><stop offset="0.51" stop-color="#fde7a9"/><stop offset="0.53" stop-color="#fecf92"/><stop offset="0.55" stop-color="#feb27a"/><stop offset="0.57" stop-color="#f97b5d"/><stop offset="0.6" stop-color="#ea5661"/><stop offset="0.62" stop-color="#c23b75"/><stop offset="0.64" stop-color="#932b80"/><stop offset="0.66" stop-color="#701f81"/><stop offset="0.68" stop-color="#5c167f"/><stop offset="0.7" stop-color="#400f74"/><stop offset="0.72" stop-color="#38106c"/><stop offset="0.74" stop-color="#2a115c"/><stop offset="0.77" stop-color="#180f3d"/><stop offset="0.79" stop-color="#1a1042"/><stop offset="0.81" stop-color="#110c2f"/><stop offset="0.83" stop-color="#0d0a29"/><stop offset="0.85" stop-color="#0c0926"/><stop offset="0.87" stop-color="#08071e"/><stop offset="0.89" stop-color="#07061c"/><stop offset="0.91" stop-color="#050416"/><stop offset="0.94" stop-color="#040414"/><stop offset="0.96" stop-color="#050416"/><stop offset="0.98" stop-color="#03030f"/><stop offset="1" stop-color="#040414"/></linearGradient><linearGradient id="h41" x1="0" x2="1" y1="0" y2="0"><stop offset="0" stop-color="#02020d"/><stop offset="0.02" stop-color="#030312"/><stop offset="0.04" stop-color="#030312"/><stop offset="0.06" stop-color="#040414"/><stop offset="0.09" stop-color="#050416"/><stop offset="0.11" stop-color="#090720"/><stop offset="0.13" stop-color="#090720"/><stop offset="0.15" stop-color="#0d0a29"/><stop offset="0.17" stop-color="#130d34"/><stop offset="0.19" stop-color="#130d34"/><stop offset="0.21" stop-color="#19103f"/><stop offset="0.23" stop-color="#21114e"/><stop offset="0.26" stop-color="#271258"/><stop offset="0.28" stop-color="#341069"/><stop offset="0.3" stop-color="#4c117a"/><stop offset="0.32" stop-color="#5a167e"/><stop offset="0.34" stop-color="#812581"/><stop offset="0.36" stop-color="#a1307e"/><stop offset="0.38" stop-color="#dc4869"/><stop offset="0.4" stop-color="#f1605d"/><stop offset="0.43" stop-color="#fb8560"/><stop offset="0.45" stop-color="#fec185"/><stop offset="0.47" stop-color="#fde3a5"/><stop offset="0.49" stop-color="#fcf4b6"/><stop offset="0.51" stop-color="#fcf0b2"/><stop offset="0.53" stop-color="#fde5a7"/><stop offset="0.55" stop-color="#feb97f"/><stop offset="0.57" stop-color="#fb835f"/><stop offset="0.6" stop-color="#f3655c"/><stop offset="0.62" stop-color="#cf4070"/><stop offset="0.64" stop-color="#9c2e7f"/><stop offset="0.66" stop-color="#7c2382"/><stop offset="0.68" stop-color="#681c81"/><stop offset="0.7" stop-color="#4e117b"/><stop offset="0.72" stop-color="#36106b"/><stop offset="0.74" stop-color="#2a115c"/><stop offset="0.77" stop-color="#241253"/><stop offset="0.79" stop-color="#1c1044"/><stop offset="0.81" stop-color="#160f3b"/><stop offset="0.83" stop-color="#120d31"/><stop offset="0.85" stop-color="#0d0a29"/><stop offset="0.87" stop-color="#090720"/><stop offset="0.89" stop-color="#0a0822"/><stop offset="0.91" stop-color="#06051a"/><stop offset="0.94" stop-color="#060518"/><stop offset="0.96" stop-color="#030312"/><stop offset="0.98" stop-color="#02020d"/><stop offset="1" stop-color="#02020d"/></linearGradient><linearGradient id="h42" x1="0" x2="1" y1="0" y2="0"><stop offset="0" stop-color="#02020b"/><stop offset="0.02" stop-color="#02020d"/><stop offset="0.04" stop-color="#040414"/><stop offset="0.06" stop-color="#050416"/><stop offset="0.09" stop-color="#06051a"/><stop offset="0.11" stop-color="#07061c"/><stop offset="0.13" stop-color="#090720"/><stop offset="0.15" stop-color="#0b0924"/><stop offset="0.17" stop-color="#100b2d"/><stop offset="0.19" stop-color="#160f3b"/><stop offset="0.21" stop-color="#19103f"/><stop offset="0.23" stop-color="#20114b"/><stop offset="0.26" stop-color="#2c115f"/><stop offset="0.28" stop-color="#3f0f72"/><stop offset="0.3" stop-color="#491078"/><stop offset="0.32" stop-color="#5f187f"/><stop offset="0.34" stop-color="#762181"/><stop offset="0.36" stop-color="#a02f7f"/><stop offset="0.38" stop-color="#c53c74"/><stop offset="0.4" stop-color="#f4695c"/><stop offset="0.43" stop-color="#fd9266"/><stop offset="0.45" stop-color="#feb47b"/><stop offset="0.47" stop-color="#fde5a7"/><stop offset="0.49" stop-color="#fcf9bb"/><stop offset="0.51" stop-color="#fcecae"/><stop offset="0.53" stop-color="#fde0a1"/><stop offset="0.55" stop-color="#febb81"/><stop offset="0.57" stop-color="#fc8a62"/><stop offset="0.6" stop-color="#ec5860"/><stop offset="0.62" stop-color="#c03a76"/><stop offset="0.64" stop-color="#982d80"/><stop offset="0.66" stop-color="#762181"/><stop offset="0.68" stop-color="#5d177f"/><stop offset="0.7" stop-color="#4c117a"/><stop offset="0.72" stop-color="#38106c"/><stop offset="0.74" stop-color="#251255"/><stop offset="0.77" stop-color="#21114e"/><stop offset="0.79" stop-color="#19103f"/><stop offset="0.81" stop-color="#150e38"/><stop offset="0.83" stop-color="#0e0b2b"/><stop offset="0.85" stop-color="#0d0a29"/><stop offset="0.87" stop-color="#090720"/><stop offset="0.89" stop-color="#07061c"/><stop offset="0.91" stop-color="#060518"/><stop offset="0.94" stop-color="#06051a"/><stop offset="0.96" stop-color="#050416"/><stop offset="0.98" stop-color="#02020d"/><stop offset="1" stop-color="#02020d"/></linearGradient><linearGradient id="h43" x1="0" x2="1" y1="0" y2="0"><stop offset="0" stop-color="#02020b"/><stop offset="0.02" stop-color="#02020d"/><stop offset="0.04" stop-color="#02020d"/><stop offset="0.06" stop-color="#030312"/><stop offset="0.09" stop-color="#06051a"/><stop offset="0.11" stop-color="#06051a"/><stop offset="0.13" stop-color="#08071e"/><stop offset="0.15" stop-color="#090720"/><stop offset="0.17" stop-color="#0c0926"/><stop offset="0.19" stop-color="#130d34"/><stop offset="0.21" stop-color="#150e38"/><stop offset="0.23" stop-color="#1c1044"/><stop offset="0.26" stop-color="#241253"/><stop offset="0.28" stop-color="#331067"/><stop offset="0.3" stop-color="#451077"/><stop offset="0.32" stop-color="#56147d"/><stop offset="0.34" stop-color="#701f81"/><stop offset="0.36" stop-color="#962c80"/><stop offset="0.38" stop-color="#bc3978"/><stop offset="0.4" stop-color="#dc4869"/><stop offset="0.43" stop-color="#fc8a62"/><stop offset="0.45" stop-color="#feb078"/><stop offset="0.47" stop-color="#fecf92"/><stop offset="0.49" stop-color="#fde3a5"/><stop offset="0.51" stop-color="#fde3a5"/><stop offset="0.53" stop-color="#fec287"/><stop offset="0.55" stop-color="#fd9b6b"/><stop offset="0.57" stop-color="#f66e5c"/><stop offset="0.6" stop-color="#dc4869"/><stop offset="0.62" stop-color="#ad347c"/><stop offset="0.64" stop-color="#902a81"/><stop offset="0.66" stop-color="#641a80"/><stop offset="0.68" stop-color="#54137d"/><stop offset="0.7" stop-color="#420f75"/><stop offset="0.72" stop-color="#331067"/><stop offset="0.74" stop-color="#221150"/><stop offset="0.77" stop-color="#21114e"/><stop offset="0.79" stop-color="#150e38"/><stop offset="0.81" stop-color="#110c2f"/><stop offset="0.83" stop-color="#0d0a29"/><stop offset="0.85" stop-color="#0a0822"/><stop offset="0.87" stop-color="#06051a"/><stop offset="0.89" stop-color="#0a0822"/><stop offset="0.91" stop-color="#040414"/><stop offset="0.94" stop-color="#030312"/><stop offset="0.96" stop-color="#02020d"/><stop offset="0.98" stop-color="#02020b"/><stop offset="1" stop-color="#02020d"/></linearGradient><linearGradient id="h44" x1="0" x2="1" y1="0" y2="0"><stop offset="0" stop-color="#02020b"/><stop offset="0.02" stop-color="#02020b"/><stop offset="0.04" stop-color="#030312"/><stop offset="0.06" stop-color="#030312"/><stop offset="0.09" stop-color="#06051a"/><stop offset="0.11" stop-color="#06051a"/><stop offset="0.13" stop-color="#08071e"/><stop offset="0.15" stop-color="#0b0924"/><stop offset="0.17" stop-color="#0c0926"/><stop offset="0.19" stop-color="#130d34"/><stop offset="0.21" stop-color="#180f3d"/><stop offset="0.23" stop-color="#20114b"/><stop offset="0.26" stop-color="#20114b"/><stop offset="0.28" stop-color="#2f1163"/><stop offset="0.3" stop-color="#3b0f70"/><stop offset="0.32" stop-color="#51127c"/><stop offset="0.34" stop-color="#6b1d81"/><stop offset="0.36" stop-color="#902a81"/><stop offset="0.38" stop-color="#ad347c"/><stop offset="0.4" stop-color="#dc4869"/><stop offset="0.43" stop-color="#f66c5c"/><stop offset="0.45" stop-color="#fe9f6d"/><stop offset="0.47" stop-color="#fed194"/><stop offset="0.49" stop-color="#fde0a1"/><stop offset="0.51" stop-color="#fdebac"/><stop offset="0.53" stop-color="#fde0a1"/><stop offset="0.55" stop-color="#febd82"/><stop offset="0.57" stop-color="#fd9b6b"/><stop offset="0.6" stop-color="#f3655c"/><stop offset="0.62" stop-color="#d8456c"/><stop offset="0.64" stop-color="#a02f7f"/><stop offset="0.66" stop-color="#862781"/><stop offset="0.68" stop-color="#6a1c81"/><stop offset="0.7" stop-color="#56147d"/><stop offset="0.72" stop-color="#3d0f71"/><stop offset="0.74" stop-color="#2a115c"/><stop offset="0.77" stop-color="#20114b"/><stop offset="0.79" stop-color="#180f3d"/><stop offset="0.81" stop-color="#19103f"/><stop offset="0.83" stop-color="#110c2f"/><stop offset="0.85" stop-color="#0e0b2b"/><stop offset="0.87" stop-color="#090720"/><stop offset="0.89" stop-color="#090720"/><stop offset="0.91" stop-color="#08071e"/><stop offset="0.94" stop-color="#050416"/><stop offset="0.96" stop-color="#040414"/><stop offset="0.98" stop-color="#03030f"/><stop offset="1" stop-color="#030312"/></linearGradient><linearGradient id="h45" x1="0" x2="1" y1="0" y2="0"><stop offset="0" stop-color="#040414"/><stop offset="0.02" stop-color="#02020b"/><stop offset="0.04" stop-color="#040414"/><stop offset="0.06" stop-color="#040414"/><stop offset="0.09" stop-color="#03030f"/><stop offset="0.11" stop-color="#050416"/><stop offset="0.13" stop-color="#06051a"/><stop offset="0.15" stop-color="#08071e"/><stop offset="0.17" stop-color="#0e0b2b"/><stop offset="0.19" stop-color="#0e0b2b"/><stop offset="0.21" stop-color="#130d34"/><stop offset="0.23" stop-color="#180f3d"/><stop offset="0.26" stop-color="#1d1147"/><stop offset="0.28" stop-color="#2c115f"/><stop offset="0.3" stop-color="#341069"/><stop offset="0.32" stop-color="#4a1079"/><stop offset="0.34" stop-color="#59157e"/><stop offset="0.36" stop-color="#792282"/><stop offset="0.38" stop-color="#a8327d"/><stop offset="0.4" stop-color="#d3436e"/><stop offset="0.43" stop-color="#ec5860"/><stop offset="0.45" stop-color="#fd9266"/><stop offset="0.47" stop-color="#fec88c"/><stop offset="0.49" stop-color="#fde9aa"/><stop offset="0.51" stop-color="#fcf2b4"/><stop offset="0.53" stop-color="#fde2a3"/><stop offset="0.55" stop-color="#fecd90"/><stop offset="0.57" stop-color="#fd9668"/><stop offset="0.6" stop-color="#f2625d"/><stop offset="0.62" stop-color="#d3436e"/><stop offset="0.64" stop-color="#9b2e7f"/><stop offset="0.66" stop-color="#7e2482"/><stop offset="0.68" stop-color="#601880"/><stop offset="0.7" stop-color="#4f127b"/><stop offset="0.72" stop-color="#331067"/><stop offset="0.74" stop-color="#2a115c"/><stop offset="0.77" stop-color="#1c1044"/><stop offset="0.79" stop-color="#1c1044"/><stop offset="0.81" stop-color="#130d34"/><stop offset="0.83" stop-color="#0e0b2b"/><stop offset="0.85" stop-color="#090720"/><stop offset="0.87" stop-color="#08071e"/><stop offset="0.89" stop-color="#090720"/><stop offset="0.91" stop-color="#050416"/><stop offset="0.94" stop-color="#050416"/><stop offset="0.96" stop-color="#03030f"/><stop offset="0.98" stop-color="#02020d"/><stop offset="1" stop-color="#02020b"/></linearGradient><linearGradient id="h46" x1="0" x2="1" y1="0" y2="0"><stop offset="0" stop-color="#02020d"/><stop offset="0.02" stop-color="#02020d"/><stop offset="0.04" stop-color="#02020d"/><stop offset="0.06" stop-color="#040414"/><stop offset="0.09" stop-color="#060518"/><stop offset="0.11" stop-color="#050416"/><stop offset="0.13" stop-color="#08071e"/><stop offset="0.15" stop-color="#090720"/><stop offset="0.17" stop-color="#0c0926"/><stop offset="0.19" stop-color="#100b2d"/><stop offset="0.21" stop-color="#150e38"/><stop offset="0.23" stop-color="#1c1044"/><stop offset="0.26" stop-color="#1d1147"/><stop offset="0.28" stop-color="#29115a"/><stop offset="0.3" stop-color="#38106c"/><stop offset="0.32" stop-color="#4c117a"/><stop offset="0.34" stop-color="#5f187f"/><stop offset="0.36" stop-color="#7c2382"/><stop offset="0.38" stop-color="#a8327d"/><stop offset="0.4" stop-color="#d2426f"/><stop offset="0.43" stop-color="#f7725c"/><stop offset="0.45" stop-color="#fd9668"/><stop offset="0.47" stop-color="#fec68a"/><stop offset="0.49" stop-color="#fde5a7"/><stop offset="0.51" stop-color="#fde9aa"/><stop offset="0.53" stop-color="#fddea0"/><stop offset="0.55" stop-color="#feb078"/><stop offset="0.57" stop-color="#fe9d6c"/><stop offset="0.6" stop-color="#f4695c"/><stop offset="0.62" stop-color="#c23b75"/><stop offset="0.64" stop-color="#a02f7f"/><stop offset="0.66" stop-color="#7c2382"/><stop offset="0.68" stop-color="#601880"/><stop offset="0.7" stop-color="#440f76"/><stop offset="0.72" stop-color="#36106b"/><stop offset="0.74" stop-color="#241253"/><stop offset="0.77" stop-color="#20114b"/><stop offset="0.79" stop-color="#19103f"/><stop offset="0.81" stop-color="#150e38"/><stop offset="0.83" stop-color="#100b2d"/><stop offset="0.85" stop-color="#0e0b2b"/><stop offset="0.87" stop-color="#0b0924"/><stop offset="0.89" stop-color="#07061c"/><stop offset="0.91" stop-color="#07061c"/><stop offset="0.94" stop-color="#040414"/><stop offset="0.96" stop-color="#030312"/><stop offset="0.98" stop-color="#03030f"/><stop offset="1" stop-color="#02020b"/></linearGradient><linearGradient id="h47" x1="0" x2="1" y1="0" y2="0"><stop offset="0" stop-color="#02020d"/><stop offset="0.02" stop-color="#050416"/><stop offset="0.04" stop-color="#02020d"/><stop offset="0.06" stop-color="#040414"/><stop offset="0.09" stop-color="#040414"/><stop offset="0.11" stop-color="#060518"/><stop offset="0.13" stop-color="#06051a"/><stop offset="0.15" stop-color="#07061c"/><stop offset="0.17" stop-color="#0d0a29"/><stop offset="0.19" stop-color="#100b2d"/><stop offset="0.21" stop-color="#130d34"/><stop offset="0.23" stop-color="#150e38"/><stop offset="0.26" stop-color="#241253"/><stop offset="0.28" stop-color="#2d1161"/><stop offset="0.3" stop-color="#390f6e"/><stop offset="0.32" stop-color="#491078"/><stop offset="0.34" stop-color="#6b1d81"/><stop offset="0.36" stop-color="#7e2482"/><stop offset="0.38" stop-color="#ad347c"/><stop offset="0.4" stop-color="#cc3f71"/><stop offset="0.43" stop-color="#f4695c"/><stop offset="0.45" stop-color="#fd9869"/><stop offset="0.47" stop-color="#fecd90"/><stop offset="0.49" stop-color="#fdebac"/><stop offset="0.51" stop-color="#fcf2b4"/><stop offset="0.53" stop-color="#fceeb0"/><stop offset="0.55" stop-color="#fecc8f"/><stop offset="0.57" stop-color="#fd9b6b"/><stop offset="0.6" stop-color="#f4695c"/><stop offset="0.62" stop-color="#d6456c"/><stop offset="0.64" stop-color="#b3367a"/><stop offset="0.66" stop-color="#842681"/><stop offset="0.68" stop-color="#671b80"/><stop offset="0.7" stop-color="#4a1079"/><stop offset="0.72" stop-color="#390f6e"/><stop offset="0.74" stop-color="#2f1163"/><stop offset="0.77" stop-color="#21114e"/><stop offset="0.79" stop-color="#1a1042"/><stop offset="0.81" stop-color="#150e38"/><stop offset="0.83" stop-color="#0e0b2b"/><stop offset="0.85" stop-color="#0d0a29"/><stop offset="0.87" stop-color="#090720"/><stop offset="0.89" stop-color="#07061c"/><stop offset="0.91" stop-color="#050416"/><stop offset="0.94" stop-color="#060518"/><stop offset="0.96" stop-color="#040414"/><stop offset="0.98" stop-color="#030312"/><stop offset="1" stop-color="#030312"/></linearGradient><linearGradient id="h48" x1="0" x2="1" y1="0" y2="0"><stop offset="0" stop-color="#030312"/><stop offset="0.02" stop-color="#040414"/><stop offset="0.04" stop-color="#03030f"/><stop offset="0.06" stop-color="#030312"/><stop offset="0.09" stop-color="#030312"/><stop offset="0.11" stop-color="#060518"/><stop offset="0.13" stop-color="#07061c"/><stop offset="0.15" stop-color="#08071e"/><stop offset="0.17" stop-color="#0b0924"/><stop offset="0.19" stop-color="#120d31"/><stop offset="0.21" stop-color="#120d31"/><stop offset="0.23" stop-color="#180f3d"/><stop offset="0.26" stop-color="#221150"/><stop offset="0.28" stop-color="#2c115f"/><stop offset="0.3" stop-color="#36106b"/><stop offset="0.32" stop-color="#4e117b"/><stop offset="0.34" stop-color="#621980"/><stop offset="0.36" stop-color="#792282"/><stop offset="0.38" stop-color="#a5317e"/><stop offset="0.4" stop-color="#d6456c"/><stop offset="0.43" stop-color="#e85362"/><stop offset="0.45" stop-color="#fd9a6a"/><stop offset="0.47" stop-color="#feca8d"/><stop offset="0.49" stop-color="#fed395"/><stop offset="0.51" stop-color="#fde0a1"/><stop offset="0.53" stop-color="#fed799"/><stop offset="0.55" stop-color="#feb77e"/><stop offset="0.57" stop-color="#fc8c63"/><stop offset="0.6" stop-color="#ea5661"/><stop offset="0.62" stop-color="#cd4071"/><stop offset="0.64" stop-color="#992d80"/><stop offset="0.66" stop-color="#802582"/><stop offset="0.68" stop-color="#5d177f"/><stop offset="0.7" stop-color="#491078"/><stop offset="0.72" stop-color="#38106c"/><stop offset="0.74" stop-color="#29115a"/><stop offset="0.77" stop-color="#221150"/><stop offset="0.79" stop-color="#1a1042"/><stop offset="0.81" stop-color="#140e36"/><stop offset="0.83" stop-color="#0d0a29"/><stop offset="0.85" stop-color="#0b0924"/><stop offset="0.87" stop-color="#0a0822"/><stop offset="0.89" stop-color="#08071e"/><stop offset="0.91" stop-color="#050416"/><stop offset="0.94" stop-color="#030312"/><stop offset="0.96" stop-color="#03030f"/><stop offset="0.98" stop-color="#03030f"/><stop offset="1" stop-color="#02020b"/></linearGradient><linearGradient id="h49" x1="0" x2="1" y1="0" y2="0"><stop offset="0" stop-color="#030312"/><stop offset="0.02" stop-color="#02020d"/><stop offset="0.04" stop-color="#03030f"/><stop offset="0.06" stop-color="#030312"/><stop offset="0.09" stop-color="#050416"/><stop offset="0.11" stop-color="#050416"/><stop offset="0.13" stop-color="#08071e"/><stop offset="0.15" stop-color="#08071e"/><stop offset="0.17" stop-color="#0e0b2b"/><stop offset="0.19" stop-color="#0e0b2b"/><stop offset="0.21" stop-color="#140e36"/><stop offset="0.23" stop-color="#160f3b"/><stop offset="0.26" stop-color="#21114e"/><stop offset="0.28" stop-color="#29115a"/><stop offset="0.3" stop-color="#38106c"/><stop offset="0.32" stop-color="#491078"/><stop offset="0.34" stop-color="#5d177f"/><stop offset="0.36" stop-color="#7c2382"/><stop offset="0.38" stop-color="#ab337c"/><stop offset="0.4" stop-color="#ca3e72"/><stop offset="0.43" stop-color="#f2645c"/><stop offset="0.45" stop-color="#fd9869"/><stop offset="0.47" stop-color="#fec68a"/><stop offset="0.49" stop-color="#fde0a1"/><stop offset="0.51" stop-color="#fde9aa"/><stop offset="0.53" stop-color="#fde5a7"/><stop offset="0.55" stop-color="#febf84"/><stop offset="0.57" stop-color="#fea16e"/><stop offset="0.6" stop-color="#f2645c"/><stop offset="0.62" stop-color="#d8456c"/><stop offset="0.64" stop-color="#a1307e"/><stop offset="0.66" stop-color="#832681"/><stop offset="0.68" stop-color="#641a80"/><stop offset="0.7" stop-color="#4a1079"/><stop offset="0.72" stop-color="#331067"/><stop offset="0.74" stop-color="#271258"/><stop offset="0.77" stop-color="#1d1147"/><stop offset="0.79" stop-color="#180f3d"/><stop offset="0.81" stop-color="#130d34"/><stop offset="0.83" stop-color="#100b2d"/><stop offset="0.85" stop-color="#0b0924"/><stop offset="0.87" stop-color="#090720"/><stop offset="0.89" stop-color="#07061c"/><stop offset="0.91" stop-color="#050416"/><stop offset="0.94" stop-color="#040414"/><stop offset="0.96" stop-color="#03030f"/><stop offset="0.98" stop-color="#030312"/><stop offset="1" stop-color="#030312"/></linearGradient><linearGradient id="h50" x1="0" x2="1" y1="0" y2="0"><stop offset="0" stop-color="#030312"/><stop offset="0.02" stop-color="#02020b"/><stop offset="0.04" stop-color="#02020d"/><stop offset="0.06" stop-color="#040414"/><stop offset="0.09" stop-color="#030312"/><stop offset="0.11" stop-color="#050416"/><stop offset="0.13" stop-color="#06051a"/><stop offset="0.15" stop-color="#0a0822"/><stop offset="0.17" stop-color="#120d31"/><stop offset="0.19" stop-color="#110c2f"/><stop offset="0.21" stop-color="#140e36"/><stop offset="0.23" stop-color="#1d1147"/><stop offset="0.26" stop-color="#221150"/><stop offset="0.28" stop-color="#2c115f"/><stop offset="0.3" stop-color="#36106b"/><stop offset="0.32" stop-color="#59157e"/><stop offset="0.34" stop-color="#681c81"/><stop offset="0.36" stop-color="#882781"/><stop offset="0.38" stop-color="#a5317e"/><stop offset="0.4" stop-color="#dc4869"/><stop offset="0.43" stop-color="#f2625d"/><stop offset="0.45" stop-color="#fea973"/><stop offset="0.47" stop-color="#fed194"/><stop offset="0.49" stop-color="#fcf4b6"/><stop offset="0.51" stop-color="#fcfbbd"/><stop offset="0.53" stop-color="#fcf4b6"/><stop offset="0.55" stop-color="#fed597"/><stop offset="0.57" stop-color="#fea772"/><stop offset="0.6" stop-color="#f66c5c"/><stop offset="0.62" stop-color="#db476a"/><stop offset="0.64" stop-color="#a8327d"/><stop offset="0.66" stop-color="#842681"/><stop offset="0.68" stop-color="#671b80"/><stop offset="0.7" stop-color="#471078"/><stop offset="0.72" stop-color="#3f0f72"/><stop offset="0.74" stop-color="#2f1163"/><stop offset="0.77" stop-color="#241253"/><stop offset="0.79" stop-color="#19103f"/><stop offset="0.81" stop-color="#120d31"/><stop offset="0.83" stop-color="#100b2d"/><stop offset="0.85" stop-color="#0c0926"/><stop offset="0.87" stop-color="#090720"/><stop offset="0.89" stop-color="#06051a"/><stop offset="0.91" stop-color="#06051a"/><stop offset="0.94" stop-color="#040414"/><stop offset="0.96" stop-color="#040414"/><stop offset="0.98" stop-color="#040414"/><stop offset="1" stop-color="#02020d"/></linearGradient><linearGradient id="h51" x1="0" x2="1" y1="0" y2="0"><stop offset="0" stop-color="#02020b"/><stop offset="0.02" stop-color="#02020d"/><stop offset="0.04" stop-color="#02020b"/><stop offset="0.06" stop-color="#02020d"/><stop offset="0.09" stop-color="#030312"/><stop offset="0.11" stop-color="#050416"/><stop offset="0.13" stop-color="#060518"/><stop offset="0.15" stop-color="#07061c"/><stop offset="0.17" stop-color="#0c0926"/><stop offset="0.19" stop-color="#0d0a29"/><stop offset="0.21" stop-color="#110c2f"/><stop offset="0.23" stop-color="#19103f"/><stop offset="0.26" stop-color="#1e1149"/><stop offset="0.28" stop-color="#2a115c"/><stop offset="0.3" stop-color="#38106c"/><stop offset="0.32" stop-color="#440f76"/><stop offset="0.34" stop-color="#5d177f"/><stop offset="0.36" stop-color="#842681"/><stop offset="0.38" stop-color="#a02f7f"/><stop offset="0.4" stop-color="#ca3e72"/><stop offset="0.43" stop-color="#f4695c"/><stop offset="0.45" stop-color="#fe9f6d"/><stop offset="0.47" stop-color="#feca8d"/><stop offset="0.49" stop-color="#fcf4b6"/><stop offset="0.51" stop-color="#fcfdbf"/><stop offset="0.53" stop-color="#fcfbbd"/><stop offset="0.55" stop-color="#fde3a5"/><stop offset="0.57" stop-color="#feb078"/><stop offset="0.6" stop-color="#f9785d"/><stop offset="0.62" stop-color="#d9466b"/><stop offset="0.64" stop-color="#bd3977"/><stop offset="0.66" stop-color="#992d80"/><stop offset="0.68" stop-color="#6a1c81"/><stop offset="0.7" stop-color="#56147d"/><stop offset="0.72" stop-color="#390f6e"/><stop offset="0.74" stop-color="#2c115f"/><stop offset="0.77" stop-color="#21114e"/><stop offset="0.79" stop-color="#1a1042"/><stop offset="0.81" stop-color="#130d34"/><stop offset="0.83" stop-color="#100b2d"/><stop offset="0.85" stop-color="#0d0a29"/><stop offset="0.87" stop-color="#090720"/><stop offset="0.89" stop-color="#090720"/><stop offset="0.91" stop-color="#06051a"/><stop offset="0.94" stop-color="#060518"/><stop offset="0.96" stop-color="#030312"/><stop offset="0.98" stop-color="#03030f"/><stop offset="1" stop-color="#02020d"/></linearGradient><linearGradient id="h52" x1="0" x2="1" y1="0" y2="0"><stop offset="0" stop-color="#02020b"/><stop offset="0.02" stop-color="#040414"/><stop offset="0.04" stop-color="#030312"/><stop offset="0.06" stop-color="#030312"/><stop offset="0.09" stop-color="#040414"/><stop offset="0.11" stop-color="#060518"/><stop offset="0.13" stop-color="#08071e"/><stop offset="0.15" stop-color="#0b0924"/><stop offset="0.17" stop-color="#130d34"/><stop offset="0.19" stop-color="#100b2d"/><stop offset="0.21" stop-color="#180f3d"/><stop offset="0.23" stop-color="#221150"/><stop offset="0.26" stop-color="#29115a"/><stop offset="0.28" stop-color="#36106b"/><stop offset="0.3" stop-color="#400f74"/><stop offset="0.32" stop-color="#5c167f"/><stop offset="0.34" stop-color="#6a1c81"/><stop offset="0.36" stop-color="#992d80"/><stop offset="0.38" stop-color="#ba3878"/><stop offset="0.4" stop-color="#ea5661"/><stop offset="0.43" stop-color="#fa815f"/><stop offset="0.45" stop-color="#feb77e"/><stop offset="0.47" stop-color="#fde7a9"/><stop offset="0.49" stop-color="#fcfbbd"/><stop offset="0.51" stop-color="#fcfdbf"/><stop offset="0.53" stop-color="#fcf6b8"/><stop offset="0.55" stop-color="#fecc8f"/><stop offset="0.57" stop-color="#feb078"/><stop offset="0.6" stop-color="#f56b5c"/><stop offset="0.62" stop-color="#d6456c"/><stop offset="0.64" stop-color="#ae347b"/><stop offset="0.66" stop-color="#8b2981"/><stop offset="0.68" stop-color="#671b80"/><stop offset="0.7" stop-color="#4f127b"/><stop offset="0.72" stop-color="#3b0f70"/><stop offset="0.74" stop-color="#311165"/><stop offset="0.77" stop-color="#21114e"/><stop offset="0.79" stop-color="#1c1044"/><stop offset="0.81" stop-color="#150e38"/><stop offset="0.83" stop-color="#100b2d"/><stop offset="0.85" stop-color="#0c0926"/><stop offset="0.87" stop-color="#0a0822"/><stop offset="0.89" stop-color="#07061c"/><stop offset="0.91" stop-color="#06051a"/><stop offset="0.94" stop-color="#040414"/><stop offset="0.96" stop-color="#040414"/><stop offset="0.98" stop-color="#040414"/><stop offset="1" stop-color="#02020b"/></linearGradient><linearGradient id="h53" x1="0" x2="1" y1="0" y2="0"><stop offset="0" stop-color="#02020b"/><stop offset="0.02" stop-color="#02020d"/><stop offset="0.04" stop-color="#03030f"/><stop offset="0.06" stop-color="#02020d"/><stop offset="0.09" stop-color="#030312"/><stop offset="0.11" stop-color="#08071e"/><stop offset="0.13" stop-color="#07061c"/><stop offset="0.15" stop-color="#08071e"/><stop offset="0.17" stop-color="#0c0926"/><stop offset="0.19" stop-color="#0e0b2b"/><stop offset="0.21" stop-color="#160f3b"/><stop offset="0.23" stop-color="#19103f"/><stop offset="0.26" stop-color="#1d1147"/><stop offset="0.28" stop-color="#2a115c"/><stop offset="0.3" stop-color="#3d0f71"/><stop offset="0.32" stop-color="#4c117a"/><stop offset="0.34" stop-color="#621980"/><stop offset="0.36" stop-color="#7c2382"/><stop offset="0.38" stop-color="#ab337c"/><stop offset="0.4" stop-color="#e04c67"/><stop offset="0.43" stop-color="#f9795d"/><stop offset="0.45" stop-color="#fd9a6a"/><stop offset="0.47" stop-color="#fed89a"/><stop offset="0.49" stop-color="#fcf7b9"/><stop offset="0.51" stop-color="#fcfdbf"/><stop offset="0.53" stop-color="#fcf6b8"/><stop offset="0.55" stop-color="#fddc9e"/><stop offset="0.57" stop-color="#fea772"/><stop offset="0.6" stop-color="#f2645c"/><stop offset="0.62" stop-color="#d2426f"/><stop offset="0.64" stop-color="#b0357b"/><stop offset="0.66" stop-color="#802582"/><stop offset="0.68" stop-color="#681c81"/><stop offset="0.7" stop-color="#4c117a"/><stop offset="0.72" stop-color="#341069"/><stop offset="0.74" stop-color="#311165"/><stop offset="0.77" stop-color="#241253"/><stop offset="0.79" stop-color="#19103f"/><stop offset="0.81" stop-color="#130d34"/><stop offset="0.83" stop-color="#0e0b2b"/><stop offset="0.85" stop-color="#0b0924"/><stop offset="0.87" stop-color="#090720"/><stop offset="0.89" stop-color="#06051a"/><stop offset="0.91" stop-color="#060518"/><stop offset="0.94" stop-color="#040414"/><stop offset="0.96" stop-color="#03030f"/><stop offset="0.98" stop-color="#03030f"/><stop offset="1" stop-color="#02020b"/></linearGradient><linearGradient id="h54" x1="0" x2="1" y1="0" y2="0"><stop offset="0" stop-color="#03030f"/><stop offset="0.02" stop-color="#02020d"/><stop offset="0.04" stop-color="#02020d"/><stop offset="0.06" stop-color="#06051a"/><stop offset="0.09" stop-color="#030312"/><stop offset="0.11" stop-color="#050416"/><stop offset="0.13" stop-color="#060518"/><stop offset="0.15" stop-color="#0d0a29"/><stop offset="0.17" stop-color="#0c0926"/><stop offset="0.19" stop-color="#100b2d"/><stop offset="0.21" stop-color="#130d34"/><stop offset="0.23" stop-color="#1a1042"/><stop offset="0.26" stop-color="#271258"/><stop offset="0.28" stop-color="#2f1163"/><stop offset="0.3" stop-color="#38106c"/><stop offset="0.32" stop-color="#52137c"/><stop offset="0.34" stop-color="#6a1c81"/><stop offset="0.36" stop-color="#862781"/><stop offset="0.38" stop-color="#aa337d"/><stop offset="0.4" stop-color="#d6456c"/><stop offset="0.43" stop-color="#f9795d"/><stop offset="0.45" stop-color="#feb67c"/><stop offset="0.47" stop-color="#fdebac"/><stop offset="0.49" stop-color="#fcfdbf"/><stop offset="0.51" stop-color="#fcfdbf"/><stop offset="0.53" stop-color="#fcf4b6"/><stop offset="0.55" stop-color="#fdda9c"/><stop offset="0.57" stop-color="#feb27a"/><stop offset="0.6" stop-color="#f66e5c"/><stop offset="0.62" stop-color="#d3436e"/><stop offset="0.64" stop-color="#b0357b"/><stop offset="0.66" stop-color="#8b2981"/><stop offset="0.68" stop-color="#641a80"/><stop offset="0.7" stop-color="#4e117b"/><stop offset="0.72" stop-color="#3d0f71"/><stop offset="0.74" stop-color="#2c115f"/><stop offset="0.77" stop-color="#221150"/><stop offset="0.79" stop-color="#19103f"/><stop offset="0.81" stop-color="#180f3d"/><stop offset="0.83" stop-color="#120d31"/><stop offset="0.85" stop-color="#0a0822"/><stop offset="0.87" stop-color="#0c0926"/><stop offset="0.89" stop-color="#07061c"/><stop offset="0.91" stop-color="#040414"/><stop offset="0.94" stop-color="#060518"/><stop offset="0.96" stop-color="#030312"/><stop offset="0.98" stop-color="#03030f"/><stop offset="1" stop-color="#03030f"/></linearGradient><linearGradient id="h55" x1="0" x2="1" y1="0" y2="0"><stop offset="0" stop-color="#020109"/><stop offset="0.02" stop-color="#060518"/><stop offset="0.04" stop-color="#03030f"/><stop offset="0.06" stop-color="#03030f"/><stop offset="0.09" stop-color="#040414"/><stop offset="0.11" stop-color="#060518"/><stop offset="0.13" stop-color="#06051a"/><stop offset="0.15" stop-color="#08071e"/><stop offset="0.17" stop-color="#0b0924"/><stop offset="0.19" stop-color="#120d31"/><stop offset="0.21" stop-color="#140e36"/><stop offset="0.23" stop-color="#1a1042"/><stop offset="0.26" stop-color="#1e1149"/><stop offset="0.28" stop-color="#2a115c"/><stop offset="0.3" stop-color="#3f0f72"/><stop offset="0.32" stop-color="#52137c"/><stop offset="0.34" stop-color="#671b80"/><stop offset="0.36" stop-color="#812581"/><stop offset="0.38" stop-color="#b83779"/><stop offset="0.4" stop-color="#d9466b"/><stop offset="0.43" stop-color="#f66c5c"/><stop offset="0.45" stop-color="#feac76"/><stop offset="0.47" stop-color="#fed395"/><stop offset="0.49" stop-color="#fceeb0"/><stop offset="0.51" stop-color="#fcf6b8"/><stop offset="0.53" stop-color="#fed799"/><stop offset="0.55" stop-color="#febf84"/><stop offset="0.57" stop-color="#fc8e64"/><stop offset="0.6" stop-color="#e95462"/><stop offset="0.62" stop-color="#b5367a"/><stop offset="0.64" stop-color="#9b2e7f"/><stop offset="0.66" stop-color="#6e1e81"/><stop offset="0.68" stop-color="#5d177f"/><stop offset="0.7" stop-color="#451077"/><stop offset="0.72" stop-color="#2f1163"/><stop offset="0.74" stop-color="#271258"/><stop offset="0.77" stop-color="#1a1042"/><stop offset="0.79" stop-color="#150e38"/><stop offset="0.81" stop-color="#130d34"/><stop offset="0.83" stop-color="#120d31"/><stop offset="0.85" stop-color="#0a0822"/><stop offset="0.87" stop-color="#08071e"/><stop offset="0.89" stop-color="#07061c"/><stop offset="0.91" stop-color="#040414"/><stop offset="0.94" stop-color="#030312"/><stop offset="0.96" stop-color="#030312"/><stop offset="0.98" stop-color="#03030f"/><stop offset="1" stop-color="#02020b"/></linearGradient><linearGradient id="h56" x1="0" x2="1" y1="0" y2="0"><stop offset="0" stop-color="#02020d"/><stop offset="0.02" stop-color="#02020b"/><stop offset="0.04" stop-color="#03030f"/><stop offset="0.06" stop-color="#03030f"/><stop offset="0.09" stop-color="#03030f"/><stop offset="0.11" stop-color="#030312"/><stop offset="0.13" stop-color="#050416"/><stop offset="0.15" stop-color="#090720"/><stop offset="0.17" stop-color="#090720"/><stop offset="0.19" stop-color="#110c2f"/><stop offset="0.21" stop-color="#110c2f"/><stop offset="0.23" stop-color="#160f3b"/><stop offset="0.26" stop-color="#1e1149"/><stop offset="0.28" stop-color="#29115a"/><stop offset="0.3" stop-color="#311165"/><stop offset="0.32" stop-color="#4f127b"/><stop offset="0.34" stop-color="#57157e"/><stop offset="0.36" stop-color="#792282"/><stop offset="0.38" stop-color="#aa337d"/><stop offset="0.4" stop-color="#d3436e"/><stop offset="0.43" stop-color="#f4695c"/><stop offset="0.45" stop-color="#fe9f6d"/><stop offset="0.47" stop-color="#fdda9c"/><stop offset="0.49" stop-color="#fcecae"/><stop offset="0.51" stop-color="#fcfdbf"/><stop offset="0.53" stop-color="#fcf2b4"/><stop offset="0.55" stop-color="#fecd90"/><stop offset="0.57" stop-color="#fd9467"/><stop offset="0.6" stop-color="#f4675c"/><stop offset="0.62" stop-color="#c03a76"/><stop offset="0.64" stop-color="#a3307e"/><stop offset="0.66" stop-color="#782281"/><stop offset="0.68" stop-color="#56147d"/><stop offset="0.7" stop-color="#420f75"/><stop offset="0.72" stop-color="#2d1161"/><stop offset="0.74" stop-color="#241253"/><stop offset="0.77" stop-color="#1d1147"/><stop offset="0.79" stop-color="#19103f"/><stop offset="0.81" stop-color="#140e36"/><stop offset="0.83" stop-color="#0d0a29"/><stop offset="0.85" stop-color="#0c0926"/><stop offset="0.87" stop-color="#08071e"/><stop offset="0.89" stop-color="#06051a"/><stop offset="0.91" stop-color="#060518"/><stop offset="0.94" stop-color="#030312"/><stop offset="0.96" stop-color="#02020d"/><stop offset="0.98" stop-color="#03030f"/><stop offset="1" stop-color="#02020d"/></linearGradient><linearGradient id="h57" x1="0" x2="1" y1="0" y2="0"><stop offset="0" stop-color="#050416"/><stop offset="0.02" stop-color="#030312"/><stop offset="0.04" stop-color="#050416"/><stop offset="0.06" stop-color="#040414"/><stop offset="0.09" stop-color="#060518"/><stop offset="0.11" stop-color="#08071e"/><stop offset="0.13" stop-color="#0b0924"/><stop offset="0.15" stop-color="#0c0926"/><stop offset="0.17" stop-color="#0e0b2b"/><stop offset="0.19" stop-color="#140e36"/><stop offset="0.21" stop-color="#1e1149"/><stop offset="0.23" stop-color="#1d1147"/><stop offset="0.26" stop-color="#29115a"/><stop offset="0.28" stop-color="#341069"/><stop offset="0.3" stop-color="#440f76"/><stop offset="0.32" stop-color="#52137c"/><stop offset="0.34" stop-color="#6d1d81"/><stop offset="0.36" stop-color="#892881"/><stop offset="0.38" stop-color="#bc3978"/><stop offset="0.4" stop-color="#cf4070"/><stop offset="0.43" stop-color="#f7725c"/><stop offset="0.45" stop-color="#fea36f"/><stop offset="0.47" stop-color="#feca8d"/><stop offset="0.49" stop-color="#fde2a3"/><stop offset="0.51" stop-color="#fdebac"/><stop offset="0.53" stop-color="#fde0a1"/><stop offset="0.55" stop-color="#feaa74"/><stop offset="0.57" stop-color="#fb8560"/><stop offset="0.6" stop-color="#f2625d"/><stop offset="0.62" stop-color="#cd4071"/><stop offset="0.64" stop-color="#ab337c"/><stop offset="0.66" stop-color="#762181"/><stop offset="0.68" stop-color="#641a80"/><stop offset="0.7" stop-color="#4f127b"/><stop offset="0.72" stop-color="#3f0f72"/><stop offset="0.74" stop-color="#2f1163"/><stop offset="0.77" stop-color="#241253"/><stop offset="0.79" stop-color="#1d1147"/><stop offset="0.81" stop-color="#1a1042"/><stop offset="0.83" stop-color="#100b2d"/><stop offset="0.85" stop-color="#0c0926"/><stop offset="0.87" stop-color="#090720"/><stop offset="0.89" stop-color="#06051a"/><stop offset="0.91" stop-color="#060518"/><stop offset="0.94" stop-color="#050416"/><stop offset="0.96" stop-color="#030312"/><stop offset="0.98" stop-color="#02020d"/><stop offset="1" stop-color="#02020d"/></linearGradient><linearGradient id="h58" x1="0" x2="1" y1="0" y2="0"><stop offset="0" stop-color="#02020d"/><stop offset="0.02" stop-color="#03030f"/><stop offset="0.04" stop-color="#02020d"/><stop offset="0.06" stop-color="#03030f"/><stop offset="0.09" stop-color="#050416"/><stop offset="0.11" stop-color="#050416"/><stop offset="0.13" stop-color="#06051a"/><stop offset="0.15" stop-color="#0b0924"/><stop offset="0.17" stop-color="#0b0924"/><stop offset="0.19" stop-color="#100b2d"/><stop offset="0.21" stop-color="#130d34"/><stop offset="0.23" stop-color="#180f3d"/><stop offset="0.26" stop-color="#20114b"/><stop offset="0.28" stop-color="#29115a"/><stop offset="0.3" stop-color="#3d0f71"/><stop offset="0.32" stop-color="#4a1079"/><stop offset="0.34" stop-color="#5f187f"/><stop offset="0.36" stop-color="#7b2382"/><stop offset="0.38" stop-color="#ab337c"/><stop offset="0.4" stop-color="#c53c74"/><stop offset="0.43" stop-color="#f2645c"/><stop offset="0.45" stop-color="#fc8e64"/><stop offset="0.47" stop-color="#feca8d"/><stop offset="0.49" stop-color="#fde3a5"/><stop offset="0.51" stop-color="#fceeb0"/><stop offset="0.53" stop-color="#fde0a1"/><stop offset="0.55" stop-color="#feca8d"/><stop offset="0.57" stop-color="#fe9f6d"/><stop offset="0.6" stop-color="#f7725c"/><stop offset="0.62" stop-color="#ca3e72"/><stop offset="0.64" stop-color="#a8327d"/><stop offset="0.66" stop-color="#7c2382"/><stop offset="0.68" stop-color="#681c81"/><stop offset="0.7" stop-color="#54137d"/><stop offset="0.72" stop-color="#390f6e"/><stop offset="0.74" stop-color="#2a115c"/><stop offset="0.77" stop-color="#21114e"/><stop offset="0.79" stop-color="#19103f"/><stop offset="0.81" stop-color="#140e36"/><stop offset="0.83" stop-color="#110c2f"/><stop offset="0.85" stop-color="#0c0926"/><stop offset="0.87" stop-color="#0a0822"/><stop offset="0.89" stop-color="#07061c"/><stop offset="0.91" stop-color="#050416"/><stop offset="0.94" stop-color="#040414"/><stop offset="0.96" stop-color="#03030f"/><stop offset="0.98" stop-color="#030312"/><stop offset="1" stop-color="#02020b"/></linearGradient><linearGradient id="h59" x1="0" x2="1" y1="0" y2="0"><stop offset="0" stop-color="#02020d"/><stop offset="0.02" stop-color="#02020b"/><stop offset="0.04" stop-color="#02020d"/><stop offset="0.06" stop-color="#03030f"/><stop offset="0.09" stop-color="#040414"/><stop offset="0.11" stop-color="#040414"/><stop offset="0.13" stop-color="#040414"/><stop offset="0.15" stop-color="#06051a"/><stop offset="0.17" stop-color="#0a0822"/><stop offset="0.19" stop-color="#0d0a29"/><stop offset="0.21" stop-color="#0e0b2b"/><stop offset="0.23" stop-color="#140e36"/><stop offset="0.26" stop-color="#1d1147"/><stop offset="0.28" stop-color="#221150"/><stop offset="0.3" stop-color="#2d1161"/><stop offset="0.32" stop-color="#3f0f72"/><stop offset="0.34" stop-color="#52137c"/><stop offset="0.36" stop-color="#732081"/><stop offset="0.38" stop-color="#902a81"/><stop offset="0.4" stop-color="#bc3978"/><stop offset="0.43" stop-color="#e95462"/><stop offset="0.45" stop-color="#fd9467"/><stop offset="0.47" stop-color="#feb67c"/><stop offset="0.49" stop-color="#fddc9e"/><stop offset="0.51" stop-color="#fddea0"/><stop offset="0.53" stop-color="#fdda9c"/><stop offset="0.55" stop-color="#febf84"/><stop offset="0.57" stop-color="#fd9266"/><stop offset="0.6" stop-color="#eb5760"/><stop offset="0.62" stop-color="#ca3e72"/><stop offset="0.64" stop-color="#942c80"/><stop offset="0.66" stop-color="#762181"/><stop offset="0.68" stop-color="#5c167f"/><stop offset="0.7" stop-color="#400f74"/><stop offset="0.72" stop-color="#341069"/><stop offset="0.74" stop-color="#20114b"/><stop offset="0.77" stop-color="#1d1147"/><stop offset="0.79" stop-color="#180f3d"/><stop offset="0.81" stop-color="#130d34"/><stop offset="0.83" stop-color="#100b2d"/><stop offset="0.85" stop-color="#0c0926"/><stop offset="0.87" stop-color="#090720"/><stop offset="0.89" stop-color="#06051a"/><stop offset="0.91" stop-color="#040414"/><stop offset="0.94" stop-color="#03030f"/><stop offset="0.96" stop-color="#02020d"/><stop offset="0.98" stop-color="#02020d"/><stop offset="1" stop-color="#03030f"/></linearGradient><linearGradient id="h60" x1="0" x2="1" y1="0" y2="0"><stop offset="0" stop-color="#02020d"/><stop offset="0.02" stop-color="#02020b"/><stop offset="0.04" stop-color="#02020d"/><stop offset="0.06" stop-color="#030312"/><stop offset="0.09" stop-color="#050416"/><stop offset="0.11" stop-color="#06051a"/><stop offset="0.13" stop-color="#06051a"/><stop offset="0.15" stop-color="#0c0926"/><stop offset="0.17" stop-color="#0c0926"/><stop offset="0.19" stop-color="#120d31"/><stop offset="0.21" stop-color="#180f3d"/><stop offset="0.23" stop-color="#1a1042"/><stop offset="0.26" stop-color="#221150"/><stop offset="0.28" stop-color="#311165"/><stop offset="0.3" stop-color="#3d0f71"/><stop offset="0.32" stop-color="#440f76"/><stop offset="0.34" stop-color="#5f187f"/><stop offset="0.36" stop-color="#7c2382"/><stop offset="0.38" stop-color="#a1307e"/><stop offset="0.4" stop-color="#cf4070"/><stop offset="0.43" stop-color="#f2645c"/><stop offset="0.45" stop-color="#fea36f"/><stop offset="0.47" stop-color="#fecd90"/><stop offset="0.49" stop-color="#fde9aa"/><stop offset="0.51" stop-color="#fcfbbd"/><stop offset="0.53" stop-color="#fcf6b8"/><stop offset="0.55" stop-color="#fddc9e"/><stop offset="0.57" stop-color="#feae77"/><stop offset="0.6" stop-color="#f9795d"/><stop offset="0.62" stop-color="#d9466b"/><stop offset="0.64" stop-color="#aa337d"/><stop offset="0.66" stop-color="#882781"/><stop offset="0.68" stop-color="#6e1e81"/><stop offset="0.7" stop-color="#5d177f"/><stop offset="0.72" stop-color="#400f74"/><stop offset="0.74" stop-color="#2f1163"/><stop offset="0.77" stop-color="#271258"/><stop offset="0.79" stop-color="#19103f"/><stop offset="0.81" stop-color="#140e36"/><stop offset="0.83" stop-color="#110c2f"/><stop offset="0.85" stop-color="#100b2d"/><stop offset="0.87" stop-color="#090720"/><stop offset="0.89" stop-color="#08071e"/><stop offset="0.91" stop-color="#07061c"/><stop offset="0.94" stop-color="#050416"/><stop offset="0.96" stop-color="#03030f"/><stop offset="0.98" stop-color="#060518"/><stop offset="1" stop-color="#02020d"/></linearGradient><linearGradient id="h61" x1="0" x2="1" y1="0" y2="0"><stop offset="0" stop-color="#020109"/><stop offset="0.02" stop-color="#02020b"/><stop offset="0.04" stop-color="#02020b"/><stop offset="0.06" stop-color="#02020d"/><stop offset="0.09" stop-color="#03030f"/><stop offset="0.11" stop-color="#030312"/><stop offset="0.13" stop-color="#06051a"/><stop offset="0.15" stop-color="#06051a"/><stop offset="0.17" stop-color="#0b0924"/><stop offset="0.19" stop-color="#0d0a29"/><stop offset="0.21" stop-color="#130d34"/><stop offset="0.23" stop-color="#19103f"/><stop offset="0.26" stop-color="#21114e"/><stop offset="0.28" stop-color="#251255"/><stop offset="0.3" stop-color="#390f6e"/><stop offset="0.32" stop-color="#4f127b"/><stop offset="0.34" stop-color="#5c167f"/><stop offset="0.36" stop-color="#802582"/><stop offset="0.38" stop-color="#a02f7f"/><stop offset="0.4" stop-color="#d0416f"/><stop offset="0.43" stop-color="#f2645c"/><stop offset="0.45" stop-color="#fea16e"/><stop offset="0.47" stop-color="#fed194"/><stop offset="0.49" stop-color="#fcf7b9"/><stop offset="0.51" stop-color="#fcfdbf"/><stop offset="0.53" stop-color="#fcfdbf"/><stop offset="0.55" stop-color="#fddc9e"/><stop offset="0.57" stop-color="#fea772"/><stop offset="0.6" stop-color="#f8765c"/><stop offset="0.62" stop-color="#de4968"/><stop offset="0.64" stop-color="#b0357b"/><stop offset="0.66" stop-color="#7e2482"/><stop offset="0.68" stop-color="#601880"/><stop offset="0.7" stop-color="#4a1079"/><stop offset="0.72" stop-color="#38106c"/><stop offset="0.74" stop-color="#2a115c"/><stop offset="0.77" stop-color="#21114e"/><stop offset="0.79" stop-color="#160f3b"/><stop offset="0.81" stop-color="#120d31"/><stop offset="0.83" stop-color="#0e0b2b"/><stop offset="0.85" stop-color="#0a0822"/><stop offset="0.87" stop-color="#090720"/><stop offset="0.89" stop-color="#08071e"/><stop offset="0.91" stop-color="#040414"/><stop offset="0.94" stop-color="#03030f"/><stop offset="0.96" stop-color="#040414"/><stop offset="0.98" stop-color="#02020d"/><stop offset="1" stop-color="#02020b"/></linearGradient><linearGradient id="h62" x1="0" x2="1" y1="0" y2="0"><stop offset="0" stop-color="#02020d"/><stop offset="0.02" stop-color="#02020b"/><stop offset="0.04" stop-color="#02020d"/><stop offset="0.06" stop-color="#03030f"/><stop offset="0.09" stop-color="#030312"/><stop offset="0.11" stop-color="#050416"/><stop offset="0.13" stop-color="#06051a"/><stop offset="0.15" stop-color="#090720"/><stop offset="0.17" stop-color="#0d0a29"/><stop offset="0.19" stop-color="#0e0b2b"/><stop offset="0.21" stop-color="#110c2f"/><stop offset="0.23" stop-color="#180f3d"/><stop offset="0.26" stop-color="#20114b"/><stop offset="0.28" stop-color="#2a115c"/><stop offset="0.3" stop-color="#311165"/><stop offset="0.32" stop-color="#491078"/><stop offset="0.34" stop-color="#5d177f"/><stop offset="0.36" stop-color="#7c2382"/><stop offset="0.38" stop-color="#a02f7f"/><stop offset="0.4" stop-color="#c83e73"/><stop offset="0.43" stop-color="#ec5860"/><stop offset="0.45" stop-color="#fd9467"/><stop offset="0.47" stop-color="#feca8d"/><stop offset="0.49" stop-color="#fceeb0"/><stop offset="0.51" stop-color="#fcf6b8"/><stop offset="0.53" stop-color="#fcf0b2"/><stop offset="0.55" stop-color="#fed799"/><stop offset="0.57" stop-color="#feac76"/><stop offset="0.6" stop-color="#f4695c"/><stop offset="0.62" stop-color="#e24d66"/><stop offset="0.64" stop-color="#ad347c"/><stop offset="0.66" stop-color="#862781"/><stop offset="0.68" stop-color="#681c81"/><stop offset="0.7" stop-color="#4f127b"/><stop offset="0.72" stop-color="#3d0f71"/><stop offset="0.74" stop-color="#2a115c"/><stop offset="0.77" stop-color="#1e1149"/><stop offset="0.79" stop-color="#1a1042"/><stop offset="0.81" stop-color="#110c2f"/><stop offset="0.83" stop-color="#0e0b2b"/><stop offset="0.85" stop-color="#0c0926"/><stop offset="0.87" stop-color="#07061c"/><stop offset="0.89" stop-color="#06051a"/><stop offset="0.91" stop-color="#06051a"/><stop offset="0.94" stop-color="#050416"/><stop offset="0.96" stop-color="#040414"/><stop offset="0.98" stop-color="#02020d"/><stop offset="1" stop-color="#02020b"/></linearGradient><linearGradient id="h63" x1="0" x2="1" y1="0" y2="0"><stop offset="0" stop-color="#02020d"/><stop offset="0.02" stop-color="#040414"/><stop offset="0.04" stop-color="#040414"/><stop offset="0.06" stop-color="#03030f"/><stop offset="0.09" stop-color="#040414"/><stop offset="0.11" stop-color="#06051a"/><stop offset="0.13" stop-color="#08071e"/><stop offset="0.15" stop-color="#090720"/><stop offset="0.17" stop-color="#0e0b2b"/><stop offset="0.19" stop-color="#120d31"/><stop offset="0.21" stop-color="#160f3b"/><stop offset="0.23" stop-color="#1e1149"/><stop offset="0.26" stop-color="#20114b"/><stop offset="0.28" stop-color="#331067"/><stop offset="0.3" stop-color="#420f75"/><stop offset="0.32" stop-color="#57157e"/><stop offset="0.34" stop-color="#7b2382"/><stop offset="0.36" stop-color="#832681"/><stop offset="0.38" stop-color="#bd3977"/><stop offset="0.4" stop-color="#ea5661"/><stop offset="0.43" stop-color="#f97b5d"/><stop offset="0.45" stop-color="#febd82"/><stop offset="0.47" stop-color="#fde5a7"/><stop offset="0.49" stop-color="#fcfdbf"/><stop offset="0.51" stop-color="#fcfdbf"/><stop offset="0.53" stop-color="#fcfbbd"/><stop offset="0.55" stop-color="#fde0a1"/><stop offset="0.57" stop-color="#fc9065"/><stop offset="0.6" stop-color="#f4695c"/><stop offset="0.62" stop-color="#cc3f71"/><stop offset="0.64" stop-color="#a6317d"/><stop offset="0.66" stop-color="#802582"/><stop offset="0.68" stop-color="#651a80"/><stop offset="0.7" stop-color="#451077"/><stop offset="0.72" stop-color="#400f74"/><stop offset="0.74" stop-color="#2c115f"/><stop offset="0.77" stop-color="#271258"/><stop offset="0.79" stop-color="#19103f"/><stop offset="0.81" stop-color="#130d34"/><stop offset="0.83" stop-color="#120d31"/><stop offset="0.85" stop-color="#0c0926"/><stop offset="0.87" stop-color="#0a0822"/><stop offset="0.89" stop-color="#0a0822"/><stop offset="0.91" stop-color="#060518"/><stop offset="0.94" stop-color="#040414"/><stop offset="0.96" stop-color="#040414"/><stop offset="0.98" stop-color="#02020d"/><stop offset="1" stop-color="#02020b"/></linearGradient><linearGradient id="h64" x1="0" x2="1" y1="0" y2="0"><stop offset="0" stop-color="#02020b"/><stop offset="0.02" stop-color="#02020d"/><stop offset="0.04" stop-color="#030312"/><stop offset="0.06" stop-color="#040414"/><stop offset="0.09" stop-color="#050416"/><stop offset="0.11" stop-color="#060518"/><stop offset="0.13" stop-color="#07061c"/><stop offset="0.15" stop-color="#090720"/><stop offset="0.17" stop-color="#0c0926"/><stop offset="0.19" stop-color="#100b2d"/><stop offset="0.21" stop-color="#130d34"/><stop offset="0.23" stop-color="#160f3b"/><stop offset="0.26" stop-color="#1e1149"/><stop offset="0.28" stop-color="#2c115f"/><stop offset="0.3" stop-color="#3b0f70"/><stop offset="0.32" stop-color="#491078"/><stop offset="0.34" stop-color="#5f187f"/><stop offset="0.36" stop-color="#812581"/><stop offset="0.38" stop-color="#9e2f7f"/><stop offset="0.4" stop-color="#d0416f"/><stop offset="0.43" stop-color="#f7705c"/><stop offset="0.45" stop-color="#fea16e"/><stop offset="0.47" stop-color="#fecd90"/><stop offset="0.49" stop-color="#fceeb0"/><stop offset="0.51" stop-color="#fcf4b6"/><stop offset="0.53" stop-color="#fde7a9"/><stop offset="0.55" stop-color="#fec88c"/><stop offset="0.57" stop-color="#fd9266"/><stop offset="0.6" stop-color="#eb5760"/><stop offset="0.62" stop-color="#c03a76"/><stop offset="0.64" stop-color="#9c2e7f"/><stop offset="0.66" stop-color="#782281"/><stop offset="0.68" stop-color="#57157e"/><stop offset="0.7" stop-color="#491078"/><stop offset="0.72" stop-color="#38106c"/><stop offset="0.74" stop-color="#271258"/><stop offset="0.77" stop-color="#1c1044"/><stop offset="0.79" stop-color="#160f3b"/><stop offset="0.81" stop-color="#120d31"/><stop offset="0.83" stop-color="#0c0926"/><stop offset="0.85" stop-color="#090720"/><stop offset="0.87" stop-color="#090720"/><stop offset="0.89" stop-color="#060518"/><stop offset="0.91" stop-color="#040414"/><stop offset="0.94" stop-color="#040414"/><stop offset="0.96" stop-color="#03030f"/><stop offset="0.98" stop-color="#02020d"/><stop offset="1" stop-color="#020109"/></linearGradient><linearGradient id="h65" x1="0" x2="1" y1="0" y2="0"><stop offset="0" stop-color="#02020d"/><stop offset="0.02" stop-color="#02020b"/><stop offset="0.04" stop-color="#03030f"/><stop offset="0.06" stop-color="#030312"/><stop offset="0.09" stop-color="#03030f"/><stop offset="0.11" stop-color="#050416"/><stop offset="0.13" stop-color="#0a0822"/><stop offset="0.15" stop-color="#08071e"/><stop offset="0.17" stop-color="#0a0822"/><stop offset="0.19" stop-color="#100b2d"/><stop offset="0.21" stop-color="#130d34"/><stop offset="0.23" stop-color="#160f3b"/><stop offset="0.26" stop-color="#1c1044"/><stop offset="0.28" stop-color="#2c115f"/><stop offset="0.3" stop-color="#38106c"/><stop offset="0.32" stop-color="#4f127b"/><stop offset="0.34" stop-color="#621980"/><stop offset="0.36" stop-color="#802582"/><stop offset="0.38" stop-color="#a8327d"/><stop offset="0.4" stop-color="#de4968"/><stop offset="0.43" stop-color="#f8765c"/><stop offset="0.45" stop-color="#fea772"/><stop offset="0.47" stop-color="#fed597"/><stop offset="0.49" stop-color="#fde9aa"/><stop offset="0.51" stop-color="#fcf2b4"/><stop offset="0.53" stop-color="#fceeb0"/><stop offset="0.55" stop-color="#febf84"/><stop offset="0.57" stop-color="#fc8e64"/><stop offset="0.6" stop-color="#f1605d"/><stop offset="0.62" stop-color="#ba3878"/><stop offset="0.64" stop-color="#932b80"/><stop offset="0.66" stop-color="#701f81"/><stop offset="0.68" stop-color="#57157e"/><stop offset="0.7" stop-color="#491078"/><stop offset="0.72" stop-color="#311165"/><stop offset="0.74" stop-color="#21114e"/><stop offset="0.77" stop-color="#1a1042"/><stop offset="0.79" stop-color="#150e38"/><stop offset="0.81" stop-color="#100b2d"/><stop offset="0.83" stop-color="#0c0926"/><stop offset="0.85" stop-color="#0a0822"/><stop offset="0.87" stop-color="#090720"/><stop offset="0.89" stop-color="#050416"/><stop offset="0.91" stop-color="#030312"/><stop offset="0.94" stop-color="#03030f"/><stop offset="0.96" stop-color="#03030f"/><stop offset="0.98" stop-color="#03030f"/><stop offset="1" stop-color="#02020d"/></linearGradient><linearGradient id="h66" x1="0" x2="1" y1="0" y2="0"><stop offset="0" stop-color="#02020b"/><stop offset="0.02" stop-color="#02020b"/><stop offset="0.04" stop-color="#02020d"/><stop offset="0.06" stop-color="#030312"/><stop offset="0.09" stop-color="#03030f"/><stop offset="0.11" stop-color="#050416"/><stop offset="0.13" stop-color="#08071e"/><stop offset="0.15" stop-color="#08071e"/><stop offset="0.17" stop-color="#090720"/><stop offset="0.19" stop-color="#0e0b2b"/><stop offset="0.21" stop-color="#110c2f"/><stop offset="0.23" stop-color="#19103f"/><stop offset="0.26" stop-color="#1d1147"/><stop offset="0.28" stop-color="#29115a"/><stop offset="0.3" stop-color="#341069"/><stop offset="0.32" stop-color="#440f76"/><stop offset="0.34" stop-color="#5c167f"/><stop offset="0.36" stop-color="#812581"/><stop offset="0.38" stop-color="#9e2f7f"/><stop offset="0.4" stop-color="#d5446d"/><stop offset="0.43" stop-color="#f66e5c"/><stop offset="0.45" stop-color="#fd9869"/><stop offset="0.47" stop-color="#fed597"/><stop offset="0.49" stop-color="#fcf2b4"/><stop offset="0.51" stop-color="#fcf9bb"/><stop offset="0.53" stop-color="#fdebac"/><stop offset="0.55" stop-color="#fec287"/><stop offset="0.57" stop-color="#fc8e64"/><stop offset="0.6" stop-color="#ea5661"/><stop offset="0.62" stop-color="#c43c75"/><stop offset="0.64" stop-color="#932b80"/><stop offset="0.66" stop-color="#7b2382"/><stop offset="0.68" stop-color="#5c167f"/><stop offset="0.7" stop-color="#440f76"/><stop offset="0.72" stop-color="#311165"/><stop offset="0.74" stop-color="#221150"/><stop offset="0.77" stop-color="#1d1147"/><stop offset="0.79" stop-color="#140e36"/><stop offset="0.81" stop-color="#130d34"/><stop offset="0.83" stop-color="#100b2d"/><stop offset="0.85" stop-color="#090720"/><stop offset="0.87" stop-color="#06051a"/><stop offset="0.89" stop-color="#050416"/><stop offset="0.91" stop-color="#050416"/><stop offset="0.94" stop-color="#050416"/><stop offset="0.96" stop-color="#02020d"/><stop offset="0.98" stop-color="#02020b"/><stop offset="1" stop-color="#02020d"/></linearGradient><linearGradient id="h67" x1="0" x2="1" y1="0" y2="0"><stop offset="0" stop-color="#02020b"/><stop offset="0.02" stop-color="#02020b"/><stop offset="0.04" stop-color="#02020d"/><stop offset="0.06" stop-color="#030312"/><stop offset="0.09" stop-color="#030312"/><stop offset="0.11" stop-color="#050416"/><stop offset="0.13" stop-color="#060518"/><stop offset="0.15" stop-color="#08071e"/><stop offset="0.17" stop-color="#0b0924"/><stop offset="0.19" stop-color="#0d0a29"/><stop offset="0.21" stop-color="#160f3b"/><stop offset="0.23" stop-color="#150e38"/><stop offset="0.26" stop-color="#20114b"/><stop offset="0.28" stop-color="#2a115c"/><stop offset="0.3" stop-color="#36106b"/><stop offset="0.32" stop-color="#4c117a"/><stop offset="0.34" stop-color="#59157e"/><stop offset="0.36" stop-color="#782281"/><stop offset="0.38" stop-color="#a8327d"/><stop offset="0.4" stop-color="#d2426f"/><stop offset="0.43" stop-color="#f4675c"/><stop offset="0.45" stop-color="#fe9d6c"/><stop offset="0.47" stop-color="#fed799"/><stop offset="0.49" stop-color="#fde3a5"/><stop offset="0.51" stop-color="#fcf6b8"/><stop offset="0.53" stop-color="#fde3a5"/><stop offset="0.55" stop-color="#fec68a"/><stop offset="0.57" stop-color="#fd9467"/><stop offset="0.6" stop-color="#e04c67"/><stop offset="0.62" stop-color="#c53c74"/><stop offset="0.64" stop-color="#982d80"/><stop offset="0.66" stop-color="#762181"/><stop offset="0.68" stop-color="#57157e"/><stop offset="0.7" stop-color="#390f6e"/><stop offset="0.72" stop-color="#331067"/><stop offset="0.74" stop-color="#251255"/><stop offset="0.77" stop-color="#21114e"/><stop offset="0.79" stop-color="#140e36"/><stop offset="0.81" stop-color="#110c2f"/><stop offset="0.83" stop-color="#0c0926"/><stop offset="0.85" stop-color="#0c0926"/><stop offset="0.87" stop-color="#08071e"/><stop offset="0.89" stop-color="#07061c"/><stop offset="0.91" stop-color="#040414"/><stop offset="0.94" stop-color="#030312"/><stop offset="0.96" stop-color="#02020d"/><stop offset="0.98" stop-color="#03030f"/><stop offset="1" stop-color="#02020d"/></linearGradient><linearGradient id="h68" x1="0" x2="1" y1="0" y2="0"><stop offset="0" stop-color="#02020d"/><stop offset="0.02" stop-color="#02020d"/><stop offset="0.04" stop-color="#030312"/><stop offset="0.06" stop-color="#03030f"/><stop offset="0.09" stop-color="#030312"/><stop offset="0.11" stop-color="#060518"/><stop offset="0.13" stop-color="#040414"/><stop offset="0.15" stop-color="#060518"/><stop offset="0.17" stop-color="#090720"/><stop offset="0.19" stop-color="#0c0926"/><stop offset="0.21" stop-color="#100b2d"/><stop offset="0.23" stop-color="#140e36"/><stop offset="0.26" stop-color="#19103f"/><stop offset="0.28" stop-color="#21114e"/><stop offset="0.3" stop-color="#2f1163"/><stop offset="0.32" stop-color="#440f76"/><stop offset="0.34" stop-color="#4e117b"/><stop offset="0.36" stop-color="#732081"/><stop offset="0.38" stop-color="#932b80"/><stop offset="0.4" stop-color="#c73d73"/><stop offset="0.43" stop-color="#ec5860"/><stop offset="0.45" stop-color="#fd9668"/><stop offset="0.47" stop-color="#fec488"/><stop offset="0.49" stop-color="#fcecae"/><stop offset="0.51" stop-color="#fcfbbd"/><stop offset="0.53" stop-color="#fcecae"/><stop offset="0.55" stop-color="#fed395"/><stop offset="0.57" stop-color="#fe9f6d"/><stop offset="0.6" stop-color="#ee5b5e"/><stop offset="0.62" stop-color="#c73d73"/><stop offset="0.64" stop-color="#912b81"/><stop offset="0.66" stop-color="#782281"/><stop offset="0.68" stop-color="#57157e"/><stop offset="0.7" stop-color="#400f74"/><stop offset="0.72" stop-color="#2f1163"/><stop offset="0.74" stop-color="#241253"/><stop offset="0.77" stop-color="#180f3d"/><stop offset="0.79" stop-color="#130d34"/><stop offset="0.81" stop-color="#0e0b2b"/><stop offset="0.83" stop-color="#0c0926"/><stop offset="0.85" stop-color="#090720"/><stop offset="0.87" stop-color="#060518"/><stop offset="0.89" stop-color="#060518"/><stop offset="0.91" stop-color="#03030f"/><stop offset="0.94" stop-color="#030312"/><stop offset="0.96" stop-color="#02020b"/><stop offset="0.98" stop-color="#020109"/><stop offset="1" stop-color="#02020b"/></linearGradient><linearGradient id="h69" x1="0" x2="1" y1="0" y2="0"><stop offset="0" stop-color="#03030f"/><stop offset="0.02" stop-color="#02020d"/><stop offset="0.04" stop-color="#030312"/><stop offset="0.06" stop-color="#02020b"/><stop offset="0.09" stop-color="#030312"/><stop offset="0.11" stop-color="#040414"/><stop offset="0.13" stop-color="#050416"/><stop offset="0.15" stop-color="#07061c"/><stop offset="0.17" stop-color="#090720"/><stop offset="0.19" stop-color="#0d0a29"/><stop offset="0.21" stop-color="#0e0b2b"/><stop offset="0.23" stop-color="#130d34"/><stop offset="0.26" stop-color="#1a1042"/><stop offset="0.28" stop-color="#271258"/><stop offset="0.3" stop-color="#2f1163"/><stop offset="0.32" stop-color="#451077"/><stop offset="0.34" stop-color="#5d177f"/><stop offset="0.36" stop-color="#762181"/><stop offset="0.38" stop-color="#9e2f7f"/><stop offset="0.4" stop-color="#d9466b"/><stop offset="0.43" stop-color="#f2625d"/><stop offset="0.45" stop-color="#feb27a"/><stop offset="0.47" stop-color="#fdda9c"/><stop offset="0.49" stop-color="#fcf7b9"/><stop offset="0.51" stop-color="#fcfdbf"/><stop offset="0.53" stop-color="#fcf6b8"/><stop offset="0.55" stop-color="#fec88c"/><stop offset="0.57" stop-color="#fe9d6c"/><stop offset="0.6" stop-color="#f2625d"/><stop offset="0.62" stop-color="#c23b75"/><stop offset="0.64" stop-color="#902a81"/><stop offset="0.66" stop-color="#6e1e81"/><stop offset="0.68" stop-color="#51127c"/><stop offset="0.7" stop-color="#3d0f71"/><stop offset="0.72" stop-color="#2c115f"/><stop offset="0.74" stop-color="#251255"/><stop offset="0.77" stop-color="#1a1042"/><stop offset="0.79" stop-color="#130d34"/><stop offset="0.81" stop-color="#120d31"/><stop offset="0.83" stop-color="#0a0822"/><stop offset="0.85" stop-color="#07061c"/><stop offset="0.87" stop-color="#06051a"/><stop offset="0.89" stop-color="#060518"/><stop offset="0.91" stop-color="#040414"/><stop offset="0.94" stop-color="#02020b"/><stop offset="0.96" stop-color="#02020b"/><stop offset="0.98" stop-color="#020109"/><stop offset="1" stop-color="#020109"/></linearGradient><linearGradient id="h70" x1="0" x2="1" y1="0" y2="0"><stop offset="0" stop-color="#020109"/><stop offset="0.02" stop-color="#02020d"/><stop offset="0.04" stop-color="#03030f"/><stop offset="0.06" stop-color="#03030f"/><stop offset="0.09" stop-color="#050416"/><stop offset="0.11" stop-color="#040414"/><stop offset="0.13" stop-color="#040414"/><stop offset="0.15" stop-color="#06051a"/><stop offset="0.17" stop-color="#090720"/><stop offset="0.19" stop-color="#0c0926"/><stop offset="0.21" stop-color="#100b2d"/><stop offset="0.23" stop-color="#140e36"/><stop offset="0.26" stop-color="#180f3d"/><stop offset="0.28" stop-color="#1d1147"/><stop offset="0.3" stop-color="#29115a"/><stop offset="0.32" stop-color="#38106c"/><stop offset="0.34" stop-color="#4f127b"/><stop offset="0.36" stop-color="#6e1e81"/><stop offset="0.38" stop-color="#962c80"/><stop offset="0.4" stop-color="#b0357b"/><stop offset="0.43" stop-color="#e75263"/><stop offset="0.45" stop-color="#fc8a62"/><stop offset="0.47" stop-color="#feb47b"/><stop offset="0.49" stop-color="#fde3a5"/><stop offset="0.51" stop-color="#fcf0b2"/><stop offset="0.53" stop-color="#fdebac"/><stop offset="0.55" stop-color="#fde2a3"/><stop offset="0.57" stop-color="#fc9065"/><stop offset="0.6" stop-color="#f7725c"/><stop offset="0.62" stop-color="#d5446d"/><stop offset="0.64" stop-color="#912b81"/><stop offset="0.66" stop-color="#7b2382"/><stop offset="0.68" stop-color="#5f187f"/><stop offset="0.7" stop-color="#4a1079"/><stop offset="0.72" stop-color="#2f1163"/><stop offset="0.74" stop-color="#241253"/><stop offset="0.77" stop-color="#1e1149"/><stop offset="0.79" stop-color="#150e38"/><stop offset="0.81" stop-color="#110c2f"/><stop offset="0.83" stop-color="#0e0b2b"/><stop offset="0.85" stop-color="#0a0822"/><stop offset="0.87" stop-color="#07061c"/><stop offset="0.89" stop-color="#06051a"/><stop offset="0.91" stop-color="#040414"/><stop offset="0.94" stop-color="#030312"/><stop offset="0.96" stop-color="#02020b"/><stop offset="0.98" stop-color="#02020d"/><stop offset="1" stop-color="#03030f"/></linearGradient><linearGradient id="h71" x1="0" x2="1" y1="0" y2="0"><stop offset="0" stop-color="#020109"/><stop offset="0.02" stop-color="#02020b"/><stop offset="0.04" stop-color="#030312"/><stop offset="0.06" stop-color="#02020b"/><stop offset="0.09" stop-color="#060518"/><stop offset="0.11" stop-color="#040414"/><stop offset="0.13" stop-color="#06051a"/><stop offset="0.15" stop-color="#08071e"/><stop offset="0.17" stop-color="#0a0822"/><stop offset="0.19" stop-color="#0e0b2b"/><stop offset="0.21" stop-color="#100b2d"/><stop offset="0.23" stop-color="#160f3b"/><stop offset="0.26" stop-color="#1a1042"/><stop offset="0.28" stop-color="#21114e"/><stop offset="0.3" stop-color="#2f1163"/><stop offset="0.32" stop-color="#420f75"/><stop offset="0.34" stop-color="#4e117b"/><stop offset="0.36" stop-color="#6a1c81"/><stop offset="0.38" stop-color="#992d80"/><stop offset="0.4" stop-color="#ba3878"/><stop offset="0.43" stop-color="#de4968"/><stop offset="0.45" stop-color="#fa7f5e"/><stop offset="0.47" stop-color="#febd82"/><stop offset="0.49" stop-color="#fde0a1"/><stop offset="0.51" stop-color="#fcfdbf"/><stop offset="0.53" stop-color="#fcf9bb"/><stop offset="0.55" stop-color="#fdebac"/><stop offset="0.57" stop-color="#feb67c"/><stop offset="0.6" stop-color="#fd9a6a"/><stop offset="0.62" stop-color="#df4a68"/><stop offset="0.64" stop-color="#c43c75"/><stop offset="0.66" stop-color="#9c2e7f"/><stop offset="0.68" stop-color="#762181"/><stop offset="0.7" stop-color="#5c167f"/><stop offset="0.72" stop-color="#420f75"/><stop offset="0.74" stop-color="#331067"/><stop offset="0.77" stop-color="#271258"/><stop offset="0.79" stop-color="#1d1147"/><stop offset="0.81" stop-color="#1d1147"/><stop offset="0.83" stop-color="#110c2f"/><stop offset="0.85" stop-color="#0d0a29"/><stop offset="0.87" stop-color="#090720"/><stop offset="0.89" stop-color="#06051a"/><stop offset="0.91" stop-color="#060518"/><stop offset="0.94" stop-color="#050416"/><stop offset="0.96" stop-color="#060518"/><stop offset="0.98" stop-color="#030312"/><stop offset="1" stop-color="#02020d"/></linearGradient><linearGradient id="h72" x1="0" x2="1" y1="0" y2="0"><stop offset="0" stop-color="#020109"/><stop offset="0.02" stop-color="#020109"/><stop offset="0.04" stop-color="#03030f"/><stop offset="0.06" stop-color="#02020d"/><stop offset="0.09" stop-color="#050416"/><stop offset="0.11" stop-color="#06051a"/><stop offset="0.13" stop-color="#060518"/><stop offset="0.15" stop-color="#07061c"/><stop offset="0.17" stop-color="#0a0822"/><stop offset="0.19" stop-color="#0d0a29"/><stop offset="0.21" stop-color="#130d34"/><stop offset="0.23" stop-color="#150e38"/><stop offset="0.26" stop-color="#1d1147"/><stop offset="0.28" stop-color="#271258"/><stop offset="0.3" stop-color="#311165"/><stop offset="0.32" stop-color="#451077"/><stop offset="0.34" stop-color="#5d177f"/><stop offset="0.36" stop-color="#792282"/><stop offset="0.38" stop-color="#9b2e7f"/><stop offset="0.4" stop-color="#c83e73"/><stop offset="0.43" stop-color="#f3655c"/><stop offset="0.45" stop-color="#fc8961"/><stop offset="0.47" stop-color="#fec185"/><stop offset="0.49" stop-color="#fde7a9"/><stop offset="0.51" stop-color="#fcf9bb"/><stop offset="0.53" stop-color="#fceeb0"/><stop offset="0.55" stop-color="#fed89a"/><stop offset="0.57" stop-color="#feb77e"/><stop offset="0.6" stop-color="#fa7d5e"/><stop offset="0.62" stop-color="#e34e65"/><stop offset="0.64" stop-color="#b73779"/><stop offset="0.66" stop-color="#982d80"/><stop offset="0.68" stop-color="#651a80"/><stop offset="0.7" stop-color="#57157e"/><stop offset="0.72" stop-color="#3d0f71"/><stop offset="0.74" stop-color="#331067"/><stop offset="0.77" stop-color="#21114e"/><stop offset="0.79" stop-color="#1d1147"/><stop offset="0.81" stop-color="#120d31"/><stop offset="0.83" stop-color="#130d34"/><stop offset="0.85" stop-color="#0d0a29"/><stop offset="0.87" stop-color="#0a0822"/><stop offset="0.89" stop-color="#090720"/><stop offset="0.91" stop-color="#050416"/><stop offset="0.94" stop-color="#030312"/><stop offset="0.96" stop-color="#030312"/><stop offset="0.98" stop-color="#040414"/><stop offset="1" stop-color="#03030f"/></linearGradient><linearGradient id="h73" x1="0" x2="1" y1="0" y2="0"><stop offset="0" stop-color="#030312"/><stop offset="0.02" stop-color="#030312"/><stop offset="0.04" stop-color="#03030f"/><stop offset="0.06" stop-color="#050416"/><stop offset="0.09" stop-color="#040414"/><stop offset="0.11" stop-color="#060518"/><stop offset="0.13" stop-color="#06051a"/><stop offset="0.15" stop-color="#0a0822"/><stop offset="0.17" stop-color="#0e0b2b"/><stop offset="0.19" stop-color="#130d34"/><stop offset="0.21" stop-color="#150e38"/><stop offset="0.23" stop-color="#1a1042"/><stop offset="0.26" stop-color="#21114e"/><stop offset="0.28" stop-color="#2c115f"/><stop offset="0.3" stop-color="#400f74"/><stop offset="0.32" stop-color="#4e117b"/><stop offset="0.34" stop-color="#681c81"/><stop offset="0.36" stop-color="#832681"/><stop offset="0.38" stop-color="#aa337d"/><stop offset="0.4" stop-color="#d9466b"/><stop offset="0.43" stop-color="#f4695c"/><stop offset="0.45" stop-color="#fea772"/><stop offset="0.47" stop-color="#fecd90"/><stop offset="0.49" stop-color="#fceeb0"/><stop offset="0.51" stop-color="#fcfdbf"/><stop offset="0.53" stop-color="#fcfdbf"/><stop offset="0.55" stop-color="#fde2a3"/><stop offset="0.57" stop-color="#febb81"/><stop offset="0.6" stop-color="#fd9668"/><stop offset="0.62" stop-color="#f1605d"/><stop offset="0.64" stop-color="#cd4071"/><stop offset="0.66" stop-color="#942c80"/><stop offset="0.68" stop-color="#752181"/><stop offset="0.7" stop-color="#59157e"/><stop offset="0.72" stop-color="#491078"/><stop offset="0.74" stop-color="#3d0f71"/><stop offset="0.77" stop-color="#221150"/><stop offset="0.79" stop-color="#1e1149"/><stop offset="0.81" stop-color="#19103f"/><stop offset="0.83" stop-color="#110c2f"/><stop offset="0.85" stop-color="#0e0b2b"/><stop offset="0.87" stop-color="#0d0a29"/><stop offset="0.89" stop-color="#090720"/><stop offset="0.91" stop-color="#06051a"/><stop offset="0.94" stop-color="#050416"/><stop offset="0.96" stop-color="#040414"/><stop offset="0.98" stop-color="#040414"/><stop offset="1" stop-color="#030312"/></linearGradient><linearGradient id="h74" x1="0" x2="1" y1="0" y2="0"><stop offset="0" stop-color="#020109"/><stop offset="0.02" stop-color="#020109"/><stop offset="0.04" stop-color="#03030f"/><stop offset="0.06" stop-color="#03030f"/><stop offset="0.09" stop-color="#040414"/><stop offset="0.11" stop-color="#06051a"/><stop offset="0.13" stop-color="#07061c"/><stop offset="0.15" stop-color="#08071e"/><stop offset="0.17" stop-color="#0c0926"/><stop offset="0.19" stop-color="#100b2d"/><stop offset="0.21" stop-color="#160f3b"/><stop offset="0.23" stop-color="#19103f"/><stop offset="0.26" stop-color="#1e1149"/><stop offset="0.28" stop-color="#29115a"/><stop offset="0.3" stop-color="#38106c"/><stop offset="0.32" stop-color="#4e117b"/><stop offset="0.34" stop-color="#601880"/><stop offset="0.36" stop-color="#792282"/><stop offset="0.38" stop-color="#a3307e"/><stop offset="0.4" stop-color="#d0416f"/><stop offset="0.43" stop-color="#f2645c"/><stop offset="0.45" stop-color="#fea16e"/><stop offset="0.47" stop-color="#fec488"/><stop offset="0.49" stop-color="#fdebac"/><stop offset="0.51" stop-color="#fcfdbf"/><stop offset="0.53" stop-color="#fcf4b6"/><stop offset="0.55" stop-color="#fde2a3"/><stop offset="0.57" stop-color="#feb67c"/><stop offset="0.6" stop-color="#fc8e64"/><stop offset="0.62" stop-color="#e75263"/><stop offset="0.64" stop-color="#b73779"/><stop offset="0.66" stop-color="#8b2981"/><stop offset="0.68" stop-color="#6a1c81"/><stop offset="0.7" stop-color="#56147d"/><stop offset="0.72" stop-color="#400f74"/><stop offset="0.74" stop-color="#311165"/><stop offset="0.77" stop-color="#251255"/><stop offset="0.79" stop-color="#1e1149"/><stop offset="0.81" stop-color="#150e38"/><stop offset="0.83" stop-color="#130d34"/><stop offset="0.85" stop-color="#0d0a29"/><stop offset="0.87" stop-color="#0b0924"/><stop offset="0.89" stop-color="#07061c"/><stop offset="0.91" stop-color="#06051a"/><stop offset="0.94" stop-color="#040414"/><stop offset="0.96" stop-color="#06051a"/><stop offset="0.98" stop-color="#03030f"/><stop offset="1" stop-color="#03030f"/></linearGradient><linearGradient id="h75" x1="0" x2="1" y1="0" y2="0"><stop offset="0" stop-color="#03030f"/><stop offset="0.02" stop-color="#02020b"/><stop offset="0.04" stop-color="#02020d"/><stop offset="0.06" stop-color="#02020d"/><stop offset="0.09" stop-color="#030312"/><stop offset="0.11" stop-color="#040414"/><stop offset="0.13" stop-color="#060518"/><stop offset="0.15" stop-color="#07061c"/><stop offset="0.17" stop-color="#08071e"/><stop offset="0.19" stop-color="#100b2d"/><stop offset="0.21" stop-color="#110c2f"/><stop offset="0.23" stop-color="#130d34"/><stop offset="0.26" stop-color="#19103f"/><stop offset="0.28" stop-color="#271258"/><stop offset="0.3" stop-color="#2d1161"/><stop offset="0.32" stop-color="#3b0f70"/><stop offset="0.34" stop-color="#57157e"/><stop offset="0.36" stop-color="#6a1c81"/><stop offset="0.38" stop-color="#8e2a81"/><stop offset="0.4" stop-color="#bf3a77"/><stop offset="0.43" stop-color="#e85362"/><stop offset="0.45" stop-color="#fc8a62"/><stop offset="0.47" stop-color="#febf84"/><stop offset="0.49" stop-color="#fcecae"/><stop offset="0.51" stop-color="#fcfdbf"/><stop offset="0.53" stop-color="#fcfdbf"/><stop offset="0.55" stop-color="#fcecae"/><stop offset="0.57" stop-color="#feac76"/><stop offset="0.6" stop-color="#fa7d5e"/><stop offset="0.62" stop-color="#e75263"/><stop offset="0.64" stop-color="#b2357b"/><stop offset="0.66" stop-color="#8c2981"/><stop offset="0.68" stop-color="#6d1d81"/><stop offset="0.7" stop-color="#4f127b"/><stop offset="0.72" stop-color="#390f6e"/><stop offset="0.74" stop-color="#2d1161"/><stop offset="0.77" stop-color="#251255"/><stop offset="0.79" stop-color="#1c1044"/><stop offset="0.81" stop-color="#140e36"/><stop offset="0.83" stop-color="#120d31"/><stop offset="0.85" stop-color="#0e0b2b"/><stop offset="0.87" stop-color="#08071e"/><stop offset="0.89" stop-color="#060518"/><stop offset="0.91" stop-color="#060518"/><stop offset="0.94" stop-color="#040414"/><stop offset="0.96" stop-color="#03030f"/><stop offset="0.98" stop-color="#03030f"/><stop offset="1" stop-color="#02020b"/></linearGradient><linearGradient id="h76" x1="0" x2="1" y1="0" y2="0"><stop offset="0" stop-color="#03030f"/><stop offset="0.02" stop-color="#02020b"/><stop offset="0.04" stop-color="#03030f"/><stop offset="0.06" stop-color="#030312"/><stop offset="0.09" stop-color="#030312"/><stop offset="0.11" stop-color="#030312"/><stop offset="0.13" stop-color="#050416"/><stop offset="0.15" stop-color="#08071e"/><stop offset="0.17" stop-color="#08071e"/><stop offset="0.19" stop-color="#0a0822"/><stop offset="0.21" stop-color="#100b2d"/><stop offset="0.23" stop-color="#120d31"/><stop offset="0.26" stop-color="#180f3d"/><stop offset="0.28" stop-color="#271258"/><stop offset="0.3" stop-color="#2f1163"/><stop offset="0.32" stop-color="#341069"/><stop offset="0.34" stop-color="#4f127b"/><stop offset="0.36" stop-color="#6b1d81"/><stop offset="0.38" stop-color="#8b2981"/><stop offset="0.4" stop-color="#ad347c"/><stop offset="0.43" stop-color="#de4968"/><stop offset="0.45" stop-color="#f7725c"/><stop offset="0.47" stop-color="#feb47b"/><stop offset="0.49" stop-color="#fde5a7"/><stop offset="0.51" stop-color="#fcf9bb"/><stop offset="0.53" stop-color="#fcf6b8"/><stop offset="0.55" stop-color="#fcecae"/><stop offset="0.57" stop-color="#fec287"/><stop offset="0.6" stop-color="#fc8961"/><stop offset="0.62" stop-color="#e75263"/><stop offset="0.64" stop-color="#c43c75"/><stop offset="0.66" stop-color="#912b81"/><stop offset="0.68" stop-color="#732081"/><stop offset="0.7" stop-color="#54137d"/><stop offset="0.72" stop-color="#440f76"/><stop offset="0.74" stop-color="#2f1163"/><stop offset="0.77" stop-color="#251255"/><stop offset="0.79" stop-color="#1a1042"/><stop offset="0.81" stop-color="#150e38"/><stop offset="0.83" stop-color="#100b2d"/><stop offset="0.85" stop-color="#100b2d"/><stop offset="0.87" stop-color="#090720"/><stop offset="0.89" stop-color="#060518"/><stop offset="0.91" stop-color="#06051a"/><stop offset="0.94" stop-color="#040414"/><stop offset="0.96" stop-color="#03030f"/><stop offset="0.98" stop-color="#02020b"/><stop offset="1" stop-color="#02020b"/></linearGradient><linearGradient id="h77" x1="0" x2="1" y1="0" y2="0"><stop offset="0" stop-color="#020109"/><stop offset="0.02" stop-color="#020109"/><stop offset="0.04" stop-color="#03030f"/><stop offset="0.06" stop-color="#02020d"/><stop offset="0.09" stop-color="#030312"/><stop offset="0.11" stop-color="#040414"/><stop offset="0.13" stop-color="#050416"/><stop offset="0.15" stop-color="#06051a"/><stop offset="0.17" stop-color="#07061c"/><stop offset="0.19" stop-color="#0b0924"/><stop offset="0.21" stop-color="#0e0b2b"/><stop offset="0.23" stop-color="#140e36"/><stop offset="0.26" stop-color="#150e38"/><stop offset="0.28" stop-color="#1d1147"/><stop offset="0.3" stop-color="#221150"/><stop offset="0.32" stop-color="#331067"/><stop offset="0.34" stop-color="#4c117a"/><stop offset="0.36" stop-color="#6b1d81"/><stop offset="0.38" stop-color="#812581"/><stop offset="0.4" stop-color="#ad347c"/><stop offset="0.43" stop-color="#e85362"/><stop offset="0.45" stop-color="#fa7d5e"/><stop offset="0.47" stop-color="#fec185"/><stop offset="0.49" stop-color="#fde7a9"/><stop offset="0.51" stop-color="#fcfdbf"/><stop offset="0.53" stop-color="#fcf4b6"/><stop offset="0.55" stop-color="#fddc9e"/><stop offset="0.57" stop-color="#fea36f"/><stop offset="0.6" stop-color="#f66e5c"/><stop offset="0.62" stop-color="#c23b75"/><stop offset="0.64" stop-color="#942c80"/><stop offset="0.66" stop-color="#752181"/><stop offset="0.68" stop-color="#56147d"/><stop offset="0.7" stop-color="#471078"/><stop offset="0.72" stop-color="#2c115f"/><stop offset="0.74" stop-color="#241253"/><stop offset="0.77" stop-color="#1a1042"/><stop offset="0.79" stop-color="#160f3b"/><stop offset="0.81" stop-color="#0d0a29"/><stop offset="0.83" stop-color="#0a0822"/><stop offset="0.85" stop-color="#090720"/><stop offset="0.87" stop-color="#07061c"/><stop offset="0.89" stop-color="#06051a"/><stop offset="0.91" stop-color="#040414"/><stop offset="0.94" stop-color="#030312"/><stop offset="0.96" stop-color="#040414"/><stop offset="0.98" stop-color="#02020d"/><stop offset="1" stop-color="#020109"/></linearGradient><linearGradient id="h78" x1="0" x2="1" y1="0" y2="0"><stop offset="0" stop-color="#02020b"/><stop offset="0.02" stop-color="#02020b"/><stop offset="0.04" stop-color="#02020d"/><stop offset="0.06" stop-color="#02020b"/><stop offset="0.09" stop-color="#050416"/><stop offset="0.11" stop-color="#040414"/><stop offset="0.13" stop-color="#050416"/><stop offset="0.15" stop-color="#07061c"/><stop offset="0.17" stop-color="#0a0822"/><stop offset="0.19" stop-color="#090720"/><stop offset="0.21" stop-color="#0d0a29"/><stop offset="0.23" stop-color="#120d31"/><stop offset="0.26" stop-color="#180f3d"/><stop offset="0.28" stop-color="#20114b"/><stop offset="0.3" stop-color="#241253"/><stop offset="0.32" stop-color="#311165"/><stop offset="0.34" stop-color="#4f127b"/><stop offset="0.36" stop-color="#651a80"/><stop offset="0.38" stop-color="#8b2981"/><stop offset="0.4" stop-color="#b3367a"/><stop offset="0.43" stop-color="#e24d66"/><stop offset="0.45" stop-color="#fa7d5e"/><stop offset="0.47" stop-color="#feb77e"/><stop offset="0.49" stop-color="#fde5a7"/><stop offset="0.51" stop-color="#fcf2b4"/><stop offset="0.53" stop-color="#fcf0b2"/><stop offset="0.55" stop-color="#fec68a"/><stop offset="0.57" stop-color="#fd9266"/><stop offset="0.6" stop-color="#e55064"/><stop offset="0.62" stop-color="#c53c74"/><stop offset="0.64" stop-color="#982d80"/><stop offset="0.66" stop-color="#721f81"/><stop offset="0.68" stop-color="#56147d"/><stop offset="0.7" stop-color="#3d0f71"/><stop offset="0.72" stop-color="#2d1161"/><stop offset="0.74" stop-color="#1d1147"/><stop offset="0.77" stop-color="#160f3b"/><stop offset="0.79" stop-color="#130d34"/><stop offset="0.81" stop-color="#0e0b2b"/><stop offset="0.83" stop-color="#090720"/><stop offset="0.85" stop-color="#07061c"/><stop offset="0.87" stop-color="#06051a"/><stop offset="0.89" stop-color="#060518"/><stop offset="0.91" stop-color="#03030f"/><stop offset="0.94" stop-color="#03030f"/><stop offset="0.96" stop-color="#02020d"/><stop offset="0.98" stop-color="#02020b"/><stop offset="1" stop-color="#020109"/></linearGradient><linearGradient id="h79" x1="0" x2="1" y1="0" y2="0"><stop offset="0" stop-color="#02020d"/><stop offset="0.02" stop-color="#020109"/><stop offset="0.04" stop-color="#02020d"/><stop offset="0.06" stop-color="#03030f"/><stop offset="0.09" stop-color="#040414"/><stop offset="0.11" stop-color="#03030f"/><stop offset="0.13" stop-color="#040414"/><stop offset="0.15" stop-color="#06051a"/><stop offset="0.17" stop-color="#0b0924"/><stop offset="0.19" stop-color="#0c0926"/><stop offset="0.21" stop-color="#110c2f"/><stop offset="0.23" stop-color="#140e36"/><stop offset="0.26" stop-color="#1d1147"/><stop offset="0.28" stop-color="#1d1147"/><stop offset="0.3" stop-color="#331067"/><stop offset="0.32" stop-color="#3b0f70"/><stop offset="0.34" stop-color="#4f127b"/><stop offset="0.36" stop-color="#6d1d81"/><stop offset="0.38" stop-color="#982d80"/><stop offset="0.4" stop-color="#c43c75"/><stop offset="0.43" stop-color="#f1605d"/><stop offset="0.45" stop-color="#fe9f6d"/><stop offset="0.47" stop-color="#fdda9c"/><stop offset="0.49" stop-color="#fcf2b4"/><stop offset="0.51" stop-color="#fcfdbf"/><stop offset="0.53" stop-color="#fcf4b6"/><stop offset="0.55" stop-color="#fec88c"/><stop offset="0.57" stop-color="#fd9869"/><stop offset="0.6" stop-color="#ec5860"/><stop offset="0.62" stop-color="#c83e73"/><stop offset="0.64" stop-color="#8b2981"/><stop offset="0.66" stop-color="#6a1c81"/><stop offset="0.68" stop-color="#52137c"/><stop offset="0.7" stop-color="#400f74"/><stop offset="0.72" stop-color="#29115a"/><stop offset="0.74" stop-color="#221150"/><stop offset="0.77" stop-color="#180f3d"/><stop offset="0.79" stop-color="#130d34"/><stop offset="0.81" stop-color="#0c0926"/><stop offset="0.83" stop-color="#0c0926"/><stop offset="0.85" stop-color="#08071e"/><stop offset="0.87" stop-color="#07061c"/><stop offset="0.89" stop-color="#050416"/><stop offset="0.91" stop-color="#03030f"/><stop offset="0.94" stop-color="#040414"/><stop offset="0.96" stop-color="#02020b"/><stop offset="0.98" stop-color="#02020d"/><stop offset="1" stop-color="#020109"/></linearGradient><linearGradient id="h80" x1="0" x2="1" y1="0" y2="0"><stop offset="0" stop-color="#020109"/><stop offset="0.02" stop-color="#02020b"/><stop offset="0.04" stop-color="#02020d"/><stop offset="0.06" stop-color="#02020d"/><stop offset="0.09" stop-color="#06051a"/><stop offset="0.11" stop-color="#030312"/><stop offset="0.13" stop-color="#06051a"/><stop offset="0.15" stop-color="#06051a"/><stop offset="0.17" stop-color="#0a0822"/><stop offset="0.19" stop-color="#0d0a29"/><stop offset="0.21" stop-color="#110c2f"/><stop offset="0.23" stop-color="#150e38"/><stop offset="0.26" stop-color="#1c1044"/><stop offset="0.28" stop-color="#241253"/><stop offset="0.3" stop-color="#2d1161"/><stop offset="0.32" stop-color="#451077"/><stop offset="0.34" stop-color="#54137d"/><stop offset="0.36" stop-color="#762181"/><stop offset="0.38" stop-color="#a3307e"/><stop offset="0.4" stop-color="#cc3f71"/><stop offset="0.43" stop-color="#f8745c"/><stop offset="0.45" stop-color="#feb078"/><stop offset="0.47" stop-color="#fec488"/><stop offset="0.49" stop-color="#fde3a5"/><stop offset="0.51" stop-color="#fceeb0"/><stop offset="0.53" stop-color="#fed799"/><stop offset="0.55" stop-color="#feb77e"/><stop offset="0.57" stop-color="#fa7f5e"/><stop offset="0.6" stop-color="#de4968"/><stop offset="0.62" stop-color="#bd3977"/><stop offset="0.64" stop-color="#8e2a81"/><stop offset="0.66" stop-color="#6e1e81"/><stop offset="0.68" stop-color="#52137c"/><stop offset="0.7" stop-color="#440f76"/><stop offset="0.72" stop-color="#2f1163"/><stop offset="0.74" stop-color="#221150"/><stop offset="0.77" stop-color="#1d1147"/><stop offset="0.79" stop-color="#150e38"/><stop offset="0.81" stop-color="#0e0b2b"/><stop offset="0.83" stop-color="#0d0a29"/><stop offset="0.85" stop-color="#07061c"/><stop offset="0.87" stop-color="#090720"/><stop offset="0.89" stop-color="#060518"/><stop offset="0.91" stop-color="#03030f"/><stop offset="0.94" stop-color="#03030f"/><stop offset="0.96" stop-color="#02020d"/><stop offset="0.98" stop-color="#020109"/><stop offset="1" stop-color="#03030f"/></linearGradient><linearGradient id="h81" x1="0" x2="1" y1="0" y2="0"><stop offset="0" stop-color="#02020b"/><stop offset="0.02" stop-color="#02020b"/><stop offset="0.04" stop-color="#040414"/><stop offset="0.06" stop-color="#02020d"/><stop offset="0.09" stop-color="#08071e"/><stop offset="0.11" stop-color="#06051a"/><stop offset="0.13" stop-color="#07061c"/><stop offset="0.15" stop-color="#0b0924"/><stop offset="0.17" stop-color="#0b0924"/><stop offset="0.19" stop-color="#100b2d"/><stop offset="0.21" stop-color="#140e36"/><stop offset="0.23" stop-color="#1a1042"/><stop offset="0.26" stop-color="#20114b"/><stop offset="0.28" stop-color="#2d1161"/><stop offset="0.3" stop-color="#400f74"/><stop offset="0.32" stop-color="#51127c"/><stop offset="0.34" stop-color="#6a1c81"/><stop offset="0.36" stop-color="#832681"/><stop offset="0.38" stop-color="#a5317e"/><stop offset="0.4" stop-color="#df4a68"/><stop offset="0.43" stop-color="#f7725c"/><stop offset="0.45" stop-color="#febf84"/><stop offset="0.47" stop-color="#fddc9e"/><stop offset="0.49" stop-color="#fcf4b6"/><stop offset="0.51" stop-color="#fcf2b4"/><stop offset="0.53" stop-color="#fdda9c"/><stop offset="0.55" stop-color="#feb67c"/><stop offset="0.57" stop-color="#fc8961"/><stop offset="0.6" stop-color="#e34e65"/><stop offset="0.62" stop-color="#b2357b"/><stop offset="0.64" stop-color="#912b81"/><stop offset="0.66" stop-color="#6e1e81"/><stop offset="0.68" stop-color="#52137c"/><stop offset="0.7" stop-color="#3d0f71"/><stop offset="0.72" stop-color="#2d1161"/><stop offset="0.74" stop-color="#2c115f"/><stop offset="0.77" stop-color="#1c1044"/><stop offset="0.79" stop-color="#150e38"/><stop offset="0.81" stop-color="#120d31"/><stop offset="0.83" stop-color="#0c0926"/><stop offset="0.85" stop-color="#0c0926"/><stop offset="0.87" stop-color="#07061c"/><stop offset="0.89" stop-color="#050416"/><stop offset="0.91" stop-color="#030312"/><stop offset="0.94" stop-color="#030312"/><stop offset="0.96" stop-color="#02020b"/><stop offset="0.98" stop-color="#02020d"/><stop offset="1" stop-color="#02020b"/></linearGradient><linearGradient id="h82" x1="0" x2="1" y1="0" y2="0"><stop offset="0" stop-color="#02020b"/><stop offset="0.02" stop-color="#02020d"/><stop offset="0.04" stop-color="#02020b"/><stop offset="0.06" stop-color="#03030f"/><stop offset="0.09" stop-color="#03030f"/><stop offset="0.11" stop-color="#040414"/><stop offset="0.13" stop-color="#07061c"/><stop offset="0.15" stop-color="#07061c"/><stop offset="0.17" stop-color="#0a0822"/><stop offset="0.19" stop-color="#0c0926"/><stop offset="0.21" stop-color="#0e0b2b"/><stop offset="0.23" stop-color="#140e36"/><stop offset="0.26" stop-color="#1c1044"/><stop offset="0.28" stop-color="#29115a"/><stop offset="0.3" stop-color="#3b0f70"/><stop offset="0.32" stop-color="#4a1079"/><stop offset="0.34" stop-color="#5c167f"/><stop offset="0.36" stop-color="#7b2382"/><stop offset="0.38" stop-color="#a02f7f"/><stop offset="0.4" stop-color="#d3436e"/><stop offset="0.43" stop-color="#f7725c"/><stop offset="0.45" stop-color="#fea16e"/><stop offset="0.47" stop-color="#fed395"/><stop offset="0.49" stop-color="#fcf2b4"/><stop offset="0.51" stop-color="#fcfdbf"/><stop offset="0.53" stop-color="#fcf0b2"/><stop offset="0.55" stop-color="#fed395"/><stop offset="0.57" stop-color="#fc9065"/><stop offset="0.6" stop-color="#ef5d5e"/><stop offset="0.62" stop-color="#c23b75"/><stop offset="0.64" stop-color="#892881"/><stop offset="0.66" stop-color="#762181"/><stop offset="0.68" stop-color="#59157e"/><stop offset="0.7" stop-color="#440f76"/><stop offset="0.72" stop-color="#2f1163"/><stop offset="0.74" stop-color="#21114e"/><stop offset="0.77" stop-color="#19103f"/><stop offset="0.79" stop-color="#140e36"/><stop offset="0.81" stop-color="#100b2d"/><stop offset="0.83" stop-color="#0c0926"/><stop offset="0.85" stop-color="#0c0926"/><stop offset="0.87" stop-color="#08071e"/><stop offset="0.89" stop-color="#050416"/><stop offset="0.91" stop-color="#040414"/><stop offset="0.94" stop-color="#03030f"/><stop offset="0.96" stop-color="#02020d"/><stop offset="0.98" stop-color="#030312"/><stop offset="1" stop-color="#02020b"/></linearGradient><linearGradient id="h83" x1="0" x2="1" y1="0" y2="0"><stop offset="0" stop-color="#02020b"/><stop offset="0.02" stop-color="#030312"/><stop offset="0.04" stop-color="#02020b"/><stop offset="0.06" stop-color="#02020b"/><stop offset="0.09" stop-color="#040414"/><stop offset="0.11" stop-color="#050416"/><stop offset="0.13" stop-color="#040414"/><stop offset="0.15" stop-color="#06051a"/><stop offset="0.17" stop-color="#090720"/><stop offset="0.19" stop-color="#0c0926"/><stop offset="0.21" stop-color="#100b2d"/><stop offset="0.23" stop-color="#160f3b"/><stop offset="0.26" stop-color="#1d1147"/><stop offset="0.28" stop-color="#241253"/><stop offset="0.3" stop-color="#311165"/><stop offset="0.32" stop-color="#4a1079"/><stop offset="0.34" stop-color="#5c167f"/><stop offset="0.36" stop-color="#802582"/><stop offset="0.38" stop-color="#a5317e"/><stop offset="0.4" stop-color="#c53c74"/><stop offset="0.43" stop-color="#f8765c"/><stop offset="0.45" stop-color="#fd9a6a"/><stop offset="0.47" stop-color="#fed194"/><stop offset="0.49" stop-color="#fde7a9"/><stop offset="0.51" stop-color="#fcf2b4"/><stop offset="0.53" stop-color="#fddea0"/><stop offset="0.55" stop-color="#feb77e"/><stop offset="0.57" stop-color="#fa815f"/><stop offset="0.6" stop-color="#e04c67"/><stop offset="0.62" stop-color="#b83779"/><stop offset="0.64" stop-color="#8c2981"/><stop offset="0.66" stop-color="#6b1d81"/><stop offset="0.68" stop-color="#4c117a"/><stop offset="0.7" stop-color="#3d0f71"/><stop offset="0.72" stop-color="#2f1163"/><stop offset="0.74" stop-color="#1e1149"/><stop offset="0.77" stop-color="#1a1042"/><stop offset="0.79" stop-color="#150e38"/><stop offset="0.81" stop-color="#0e0b2b"/><stop offset="0.83" stop-color="#0b0924"/><stop offset="0.85" stop-color="#090720"/><stop offset="0.87" stop-color="#060518"/><stop offset="0.89" stop-color="#050416"/><stop offset="0.91" stop-color="#03030f"/><stop offset="0.94" stop-color="#02020d"/><stop offset="0.96" stop-color="#02020b"/><stop offset="0.98" stop-color="#03030f"/><stop offset="1" stop-color="#020109"/></linearGradient><linearGradient id="h84" x1="0" x2="1" y1="0" y2="0"><stop offset="0" stop-color="#020109"/><stop offset="0.02" stop-color="#02020d"/><stop offset="0.04" stop-color="#02020d"/><stop offset="0.06" stop-color="#030312"/><stop offset="0.09" stop-color="#030312"/><stop offset="0.11" stop-color="#030312"/><stop offset="0.13" stop-color="#030312"/><stop offset="0.15" stop-color="#060518"/><stop offset="0.17" stop-color="#06051a"/><stop offset="0.19" stop-color="#090720"/><stop offset="0.21" stop-color="#100b2d"/><stop offset="0.23" stop-color="#140e36"/><stop offset="0.26" stop-color="#160f3b"/><stop offset="0.28" stop-color="#21114e"/><stop offset="0.3" stop-color="#271258"/><stop offset="0.32" stop-color="#400f74"/><stop offset="0.34" stop-color="#4f127b"/><stop offset="0.36" stop-color="#671b80"/><stop offset="0.38" stop-color="#8b2981"/><stop offset="0.4" stop-color="#b5367a"/><stop offset="0.43" stop-color="#df4a68"/><stop offset="0.45" stop-color="#fc8a62"/><stop offset="0.47" stop-color="#fec287"/><stop offset="0.49" stop-color="#fde5a7"/><stop offset="0.51" stop-color="#fcf4b6"/><stop offset="0.53" stop-color="#fceeb0"/><stop offset="0.55" stop-color="#fed194"/><stop offset="0.57" stop-color="#fd9b6b"/><stop offset="0.6" stop-color="#e24d66"/><stop offset="0.62" stop-color="#bd3977"/><stop offset="0.64" stop-color="#982d80"/><stop offset="0.66" stop-color="#6b1d81"/><stop offset="0.68" stop-color="#4e117b"/><stop offset="0.7" stop-color="#400f74"/><stop offset="0.72" stop-color="#2a115c"/><stop offset="0.74" stop-color="#1e1149"/><stop offset="0.77" stop-color="#180f3d"/><stop offset="0.79" stop-color="#110c2f"/><stop offset="0.81" stop-color="#0d0a29"/><stop offset="0.83" stop-color="#0b0924"/><stop offset="0.85" stop-color="#08071e"/><stop offset="0.87" stop-color="#060518"/><stop offset="0.89" stop-color="#050416"/><stop offset="0.91" stop-color="#030312"/><stop offset="0.94" stop-color="#050416"/><stop offset="0.96" stop-color="#040414"/><stop offset="0.98" stop-color="#02020d"/><stop offset="1" stop-color="#020109"/></linearGradient><linearGradient id="h85" x1="0" x2="1" y1="0" y2="0"><stop offset="0" stop-color="#020109"/><stop offset="0.02" stop-color="#02020d"/><stop offset="0.04" stop-color="#02020d"/><stop offset="0.06" stop-color="#02020d"/><stop offset="0.09" stop-color="#030312"/><stop offset="0.11" stop-color="#050416"/><stop offset="0.13" stop-color="#050416"/><stop offset="0.15" stop-color="#06051a"/><stop offset="0.17" stop-color="#07061c"/><stop offset="0.19" stop-color="#0a0822"/><stop offset="0.21" stop-color="#100b2d"/><stop offset="0.23" stop-color="#140e36"/><stop offset="0.26" stop-color="#180f3d"/><stop offset="0.28" stop-color="#221150"/><stop offset="0.3" stop-color="#2d1161"/><stop offset="0.32" stop-color="#3b0f70"/><stop offset="0.34" stop-color="#57157e"/><stop offset="0.36" stop-color="#681c81"/><stop offset="0.38" stop-color="#902a81"/><stop offset="0.4" stop-color="#ba3878"/><stop offset="0.43" stop-color="#e85362"/><stop offset="0.45" stop-color="#fb8761"/><stop offset="0.47" stop-color="#febf84"/><stop offset="0.49" stop-color="#fcf4b6"/><stop offset="0.51" stop-color="#fcfdbf"/><stop offset="0.53" stop-color="#fcfdbf"/><stop offset="0.55" stop-color="#fde5a7"/><stop offset="0.57" stop-color="#feb078"/><stop offset="0.6" stop-color="#f4675c"/><stop offset="0.62" stop-color="#d8456c"/><stop offset="0.64" stop-color="#ab337c"/><stop offset="0.66" stop-color="#882781"/><stop offset="0.68" stop-color="#651a80"/><stop offset="0.7" stop-color="#51127c"/><stop offset="0.72" stop-color="#36106b"/><stop offset="0.74" stop-color="#29115a"/><stop offset="0.77" stop-color="#20114b"/><stop offset="0.79" stop-color="#160f3b"/><stop offset="0.81" stop-color="#120d31"/><stop offset="0.83" stop-color="#0e0b2b"/><stop offset="0.85" stop-color="#0a0822"/><stop offset="0.87" stop-color="#06051a"/><stop offset="0.89" stop-color="#06051a"/><stop offset="0.91" stop-color="#040414"/><stop offset="0.94" stop-color="#02020d"/><stop offset="0.96" stop-color="#030312"/><stop offset="0.98" stop-color="#02020b"/><stop offset="1" stop-color="#030312"/></linearGradient><linearGradient id="h86" x1="0" x2="1" y1="0" y2="0"><stop offset="0" stop-color="#02020b"/><stop offset="0.02" stop-color="#03030f"/><stop offset="0.04" stop-color="#02020b"/><stop offset="0.06" stop-color="#030312"/><stop offset="0.09" stop-color="#040414"/><stop offset="0.11" stop-color="#040414"/><stop offset="0.13" stop-color="#06051a"/><stop offset="0.15" stop-color="#08071e"/><stop offset="0.17" stop-color="#090720"/><stop offset="0.19" stop-color="#0b0924"/><stop offset="0.21" stop-color="#100b2d"/><stop offset="0.23" stop-color="#120d31"/><stop offset="0.26" stop-color="#1c1044"/><stop offset="0.28" stop-color="#21114e"/><stop offset="0.3" stop-color="#331067"/><stop offset="0.32" stop-color="#420f75"/><stop offset="0.34" stop-color="#52137c"/><stop offset="0.36" stop-color="#721f81"/><stop offset="0.38" stop-color="#962c80"/><stop offset="0.4" stop-color="#ca3e72"/><stop offset="0.43" stop-color="#f2625d"/><stop offset="0.45" stop-color="#fc8a62"/><stop offset="0.47" stop-color="#fecd90"/><stop offset="0.49" stop-color="#fcf0b2"/><stop offset="0.51" stop-color="#fcfdbf"/><stop offset="0.53" stop-color="#fcecae"/><stop offset="0.55" stop-color="#fec88c"/><stop offset="0.57" stop-color="#fea36f"/><stop offset="0.6" stop-color="#f1605d"/><stop offset="0.62" stop-color="#cf4070"/><stop offset="0.64" stop-color="#a1307e"/><stop offset="0.66" stop-color="#752181"/><stop offset="0.68" stop-color="#59157e"/><stop offset="0.7" stop-color="#4a1079"/><stop offset="0.72" stop-color="#311165"/><stop offset="0.74" stop-color="#251255"/><stop offset="0.77" stop-color="#1d1147"/><stop offset="0.79" stop-color="#19103f"/><stop offset="0.81" stop-color="#110c2f"/><stop offset="0.83" stop-color="#0c0926"/><stop offset="0.85" stop-color="#0a0822"/><stop offset="0.87" stop-color="#08071e"/><stop offset="0.89" stop-color="#040414"/><stop offset="0.91" stop-color="#030312"/><stop offset="0.94" stop-color="#03030f"/><stop offset="0.96" stop-color="#03030f"/><stop offset="0.98" stop-color="#02020d"/><stop offset="1" stop-color="#020109"/></linearGradient><linearGradient id="h87" x1="0" x2="1" y1="0" y2="0"><stop offset="0" stop-color="#02020d"/><stop offset="0.02" stop-color="#020109"/><stop offset="0.04" stop-color="#03030f"/><stop offset="0.06" stop-color="#060518"/><stop offset="0.09" stop-color="#030312"/><stop offset="0.11" stop-color="#040414"/><stop offset="0.13" stop-color="#08071e"/><stop offset="0.15" stop-color="#07061c"/><stop offset="0.17" stop-color="#0c0926"/><stop offset="0.19" stop-color="#0e0b2b"/><stop offset="0.21" stop-color="#110c2f"/><stop offset="0.23" stop-color="#1a1042"/><stop offset="0.26" stop-color="#1d1147"/><stop offset="0.28" stop-color="#221150"/><stop offset="0.3" stop-color="#38106c"/><stop offset="0.32" stop-color="#440f76"/><stop offset="0.34" stop-color="#601880"/><stop offset="0.36" stop-color="#752181"/><stop offset="0.38" stop-color="#932b80"/><stop offset="0.4" stop-color="#c83e73"/><stop offset="0.43" stop-color="#e85362"/><stop offset="0.45" stop-color="#fd9a6a"/><stop offset="0.47" stop-color="#fec88c"/><stop offset="0.49" stop-color="#fde9aa"/><stop offset="0.51" stop-color="#fcf4b6"/><stop offset="0.53" stop-color="#fddea0"/><stop offset="0.55" stop-color="#febd82"/><stop offset="0.57" stop-color="#fd9668"/><stop offset="0.6" stop-color="#f56b5c"/><stop offset="0.62" stop-color="#ca3e72"/><stop offset="0.64" stop-color="#9c2e7f"/><stop offset="0.66" stop-color="#762181"/><stop offset="0.68" stop-color="#5c167f"/><stop offset="0.7" stop-color="#451077"/><stop offset="0.72" stop-color="#2c115f"/><stop offset="0.74" stop-color="#241253"/><stop offset="0.77" stop-color="#1d1147"/><stop offset="0.79" stop-color="#160f3b"/><stop offset="0.81" stop-color="#110c2f"/><stop offset="0.83" stop-color="#0e0b2b"/><stop offset="0.85" stop-color="#090720"/><stop offset="0.87" stop-color="#06051a"/><stop offset="0.89" stop-color="#07061c"/><stop offset="0.91" stop-color="#040414"/><stop offset="0.94" stop-color="#040414"/><stop offset="0.96" stop-color="#02020d"/><stop offset="0.98" stop-color="#02020b"/><stop offset="1" stop-color="#02020d"/></linearGradient><linearGradient id="h88" x1="0" x2="1" y1="0" y2="0"><stop offset="0" stop-color="#010108"/><stop offset="0.02" stop-color="#020109"/><stop offset="0.04" stop-color="#02020d"/><stop offset="0.06" stop-color="#02020d"/><stop offset="0.09" stop-color="#040414"/><stop offset="0.11" stop-color="#050416"/><stop offset="0.13" stop-color="#040414"/><stop offset="0.15" stop-color="#06051a"/><stop offset="0.17" stop-color="#08071e"/><stop offset="0.19" stop-color="#0a0822"/><stop offset="0.21" stop-color="#0d0a29"/><stop offset="0.23" stop-color="#110c2f"/><stop offset="0.26" stop-color="#1d1147"/><stop offset="0.28" stop-color="#251255"/><stop offset="0.3" stop-color="#341069"/><stop offset="0.32" stop-color="#390f6e"/><stop offset="0.34" stop-color="#51127c"/><stop offset="0.36" stop-color="#721f81"/><stop offset="0.38" stop-color="#8b2981"/><stop offset="0.4" stop-color="#b83779"/><stop offset="0.43" stop-color="#ea5661"/><stop offset="0.45" stop-color="#fb835f"/><stop offset="0.47" stop-color="#fea772"/><stop offset="0.49" stop-color="#fec88c"/><stop offset="0.51" stop-color="#fddc9e"/><stop offset="0.53" stop-color="#fecc8f"/><stop offset="0.55" stop-color="#feb27a"/><stop offset="0.57" stop-color="#fb8761"/><stop offset="0.6" stop-color="#e04c67"/><stop offset="0.62" stop-color="#b5367a"/><stop offset="0.64" stop-color="#902a81"/><stop offset="0.66" stop-color="#6d1d81"/><stop offset="0.68" stop-color="#4a1079"/><stop offset="0.7" stop-color="#38106c"/><stop offset="0.72" stop-color="#2f1163"/><stop offset="0.74" stop-color="#21114e"/><stop offset="0.77" stop-color="#160f3b"/><stop offset="0.79" stop-color="#130d34"/><stop offset="0.81" stop-color="#0c0926"/><stop offset="0.83" stop-color="#0b0924"/><stop offset="0.85" stop-color="#07061c"/><stop offset="0.87" stop-color="#050416"/><stop offset="0.89" stop-color="#050416"/><stop offset="0.91" stop-color="#03030f"/><stop offset="0.94" stop-color="#03030f"/><stop offset="0.96" stop-color="#02020b"/><stop offset="0.98" stop-color="#020109"/><stop offset="1" stop-color="#020109"/></linearGradient><linearGradient id="h89" x1="0" x2="1" y1="0" y2="0"><stop offset="0" stop-color="#02020b"/><stop offset="0.02" stop-color="#03030f"/><stop offset="0.04" stop-color="#02020b"/><stop offset="0.06" stop-color="#030312"/><stop offset="0.09" stop-color="#040414"/><stop offset="0.11" stop-color="#040414"/><stop offset="0.13" stop-color="#050416"/><stop offset="0.15" stop-color="#08071e"/><stop offset="0.17" stop-color="#090720"/><stop offset="0.19" stop-color="#0e0b2b"/><stop offset="0.21" stop-color="#110c2f"/><stop offset="0.23" stop-color="#180f3d"/><stop offset="0.26" stop-color="#1e1149"/><stop offset="0.28" stop-color="#2a115c"/><stop offset="0.3" stop-color="#341069"/><stop offset="0.32" stop-color="#440f76"/><stop offset="0.34" stop-color="#54137d"/><stop offset="0.36" stop-color="#7c2382"/><stop offset="0.38" stop-color="#9e2f7f"/><stop offset="0.4" stop-color="#c23b75"/><stop offset="0.43" stop-color="#e55064"/><stop offset="0.45" stop-color="#fa815f"/><stop offset="0.47" stop-color="#feb078"/><stop offset="0.49" stop-color="#fed597"/><stop offset="0.51" stop-color="#fde0a1"/><stop offset="0.53" stop-color="#fde0a1"/><stop offset="0.55" stop-color="#fec88c"/><stop offset="0.57" stop-color="#fe9d6c"/><stop offset="0.6" stop-color="#f9795d"/><stop offset="0.62" stop-color="#ca3e72"/><stop offset="0.64" stop-color="#b3367a"/><stop offset="0.66" stop-color="#8e2a81"/><stop offset="0.68" stop-color="#671b80"/><stop offset="0.7" stop-color="#491078"/><stop offset="0.72" stop-color="#36106b"/><stop offset="0.74" stop-color="#2d1161"/><stop offset="0.77" stop-color="#20114b"/><stop offset="0.79" stop-color="#19103f"/><stop offset="0.81" stop-color="#180f3d"/><stop offset="0.83" stop-color="#100b2d"/><stop offset="0.85" stop-color="#0a0822"/><stop offset="0.87" stop-color="#090720"/><stop offset="0.89" stop-color="#060518"/><stop offset="0.91" stop-color="#06051a"/><stop offset="0.94" stop-color="#050416"/><stop offset="0.96" stop-color="#03030f"/><stop offset="0.98" stop-color="#02020d"/><stop offset="1" stop-color="#02020d"/></linearGradient><linearGradient id="h90" x1="0" x2="1" y1="0" y2="0"><stop offset="0" stop-color="#02020d"/><stop offset="0.02" stop-color="#030312"/><stop offset="0.04" stop-color="#03030f"/><stop offset="0.06" stop-color="#03030f"/><stop offset="0.09" stop-color="#030312"/><stop offset="0.11" stop-color="#060518"/><stop offset="0.13" stop-color="#060518"/><stop offset="0.15" stop-color="#08071e"/><stop offset="0.17" stop-color="#0c0926"/><stop offset="0.19" stop-color="#0e0b2b"/><stop offset="0.21" stop-color="#140e36"/><stop offset="0.23" stop-color="#19103f"/><stop offset="0.26" stop-color="#1e1149"/><stop offset="0.28" stop-color="#271258"/><stop offset="0.3" stop-color="#36106b"/><stop offset="0.32" stop-color="#491078"/><stop offset="0.34" stop-color="#5c167f"/><stop offset="0.36" stop-color="#782281"/><stop offset="0.38" stop-color="#982d80"/><stop offset="0.4" stop-color="#c43c75"/><stop offset="0.43" stop-color="#f4695c"/><stop offset="0.45" stop-color="#fd9869"/><stop offset="0.47" stop-color="#fec287"/><stop offset="0.49" stop-color="#fdda9c"/><stop offset="0.51" stop-color="#fcf2b4"/><stop offset="0.53" stop-color="#fdda9c"/><stop offset="0.55" stop-color="#fec185"/><stop offset="0.57" stop-color="#fd9b6b"/><stop offset="0.6" stop-color="#f4695c"/><stop offset="0.62" stop-color="#cd4071"/><stop offset="0.64" stop-color="#a1307e"/><stop offset="0.66" stop-color="#842681"/><stop offset="0.68" stop-color="#6b1d81"/><stop offset="0.7" stop-color="#4f127b"/><stop offset="0.72" stop-color="#3d0f71"/><stop offset="0.74" stop-color="#241253"/><stop offset="0.77" stop-color="#20114b"/><stop offset="0.79" stop-color="#19103f"/><stop offset="0.81" stop-color="#120d31"/><stop offset="0.83" stop-color="#110c2f"/><stop offset="0.85" stop-color="#0b0924"/><stop offset="0.87" stop-color="#08071e"/><stop offset="0.89" stop-color="#06051a"/><stop offset="0.91" stop-color="#060518"/><stop offset="0.94" stop-color="#030312"/><stop offset="0.96" stop-color="#060518"/><stop offset="0.98" stop-color="#02020d"/><stop offset="1" stop-color="#02020d"/></linearGradient><linearGradient id="h91" x1="0" x2="1" y1="0" y2="0"><stop offset="0" stop-color="#02020d"/><stop offset="0.02" stop-color="#020109"/><stop offset="0.04" stop-color="#02020b"/><stop offset="0.06" stop-color="#02020d"/><stop offset="0.09" stop-color="#03030f"/><stop offset="0.11" stop-color="#040414"/><stop offset="0.13" stop-color="#06051a"/><stop offset="0.15" stop-color="#06051a"/><stop offset="0.17" stop-color="#0a0822"/><stop offset="0.19" stop-color="#100b2d"/><stop offset="0.21" stop-color="#130d34"/><stop offset="0.23" stop-color="#1a1042"/><stop offset="0.26" stop-color="#1c1044"/><stop offset="0.28" stop-color="#271258"/><stop offset="0.3" stop-color="#311165"/><stop offset="0.32" stop-color="#471078"/><stop offset="0.34" stop-color="#5c167f"/><stop offset="0.36" stop-color="#892881"/><stop offset="0.38" stop-color="#942c80"/><stop offset="0.4" stop-color="#c73d73"/><stop offset="0.43" stop-color="#f1605d"/><stop offset="0.45" stop-color="#fd9b6b"/><stop offset="0.47" stop-color="#fec68a"/><stop offset="0.49" stop-color="#fceeb0"/><stop offset="0.51" stop-color="#fcecae"/><stop offset="0.53" stop-color="#fed597"/><stop offset="0.55" stop-color="#febd82"/><stop offset="0.57" stop-color="#fc8c63"/><stop offset="0.6" stop-color="#ee5b5e"/><stop offset="0.62" stop-color="#bd3977"/><stop offset="0.64" stop-color="#942c80"/><stop offset="0.66" stop-color="#782281"/><stop offset="0.68" stop-color="#57157e"/><stop offset="0.7" stop-color="#451077"/><stop offset="0.72" stop-color="#2f1163"/><stop offset="0.74" stop-color="#251255"/><stop offset="0.77" stop-color="#1c1044"/><stop offset="0.79" stop-color="#180f3d"/><stop offset="0.81" stop-color="#100b2d"/><stop offset="0.83" stop-color="#0c0926"/><stop offset="0.85" stop-color="#090720"/><stop offset="0.87" stop-color="#07061c"/><stop offset="0.89" stop-color="#050416"/><stop offset="0.91" stop-color="#040414"/><stop offset="0.94" stop-color="#040414"/><stop offset="0.96" stop-color="#030312"/><stop offset="0.98" stop-color="#02020d"/><stop offset="1" stop-color="#02020b"/></linearGradient><linearGradient id="h92" x1="0" x2="1" y1="0" y2="0"><stop offset="0" stop-color="#010108"/><stop offset="0.02" stop-color="#020109"/><stop offset="0.04" stop-color="#02020b"/><stop offset="0.06" stop-color="#03030f"/><stop offset="0.09" stop-color="#040414"/><stop offset="0.11" stop-color="#040414"/><stop offset="0.13" stop-color="#040414"/><stop offset="0.15" stop-color="#060518"/><stop offset="0.17" stop-color="#08071e"/><stop offset="0.19" stop-color="#0c0926"/><stop offset="0.21" stop-color="#110c2f"/><stop offset="0.23" stop-color="#1a1042"/><stop offset="0.26" stop-color="#1c1044"/><stop offset="0.28" stop-color="#21114e"/><stop offset="0.3" stop-color="#29115a"/><stop offset="0.32" stop-color="#451077"/><stop offset="0.34" stop-color="#54137d"/><stop offset="0.36" stop-color="#792282"/><stop offset="0.38" stop-color="#932b80"/><stop offset="0.4" stop-color="#c83e73"/><stop offset="0.43" stop-color="#e95462"/><stop offset="0.45" stop-color="#fb8560"/><stop offset="0.47" stop-color="#febb81"/><stop offset="0.49" stop-color="#fde0a1"/><stop offset="0.51" stop-color="#fde5a7"/><stop offset="0.53" stop-color="#fde7a9"/><stop offset="0.55" stop-color="#feb97f"/><stop offset="0.57" stop-color="#fd9266"/><stop offset="0.6" stop-color="#ef5d5e"/><stop offset="0.62" stop-color="#bd3977"/><stop offset="0.64" stop-color="#9c2e7f"/><stop offset="0.66" stop-color="#752181"/><stop offset="0.68" stop-color="#5c167f"/><stop offset="0.7" stop-color="#3f0f72"/><stop offset="0.72" stop-color="#2f1163"/><stop offset="0.74" stop-color="#251255"/><stop offset="0.77" stop-color="#1d1147"/><stop offset="0.79" stop-color="#140e36"/><stop offset="0.81" stop-color="#110c2f"/><stop offset="0.83" stop-color="#0e0b2b"/><stop offset="0.85" stop-color="#0a0822"/><stop offset="0.87" stop-color="#060518"/><stop offset="0.89" stop-color="#060518"/><stop offset="0.91" stop-color="#040414"/><stop offset="0.94" stop-color="#03030f"/><stop offset="0.96" stop-color="#02020b"/><stop offset="0.98" stop-color="#020109"/><stop offset="1" stop-color="#020109"/></linearGradient><linearGradient id="h93" x1="0" x2="1" y1="0" y2="0"><stop offset="0" stop-color="#02020b"/><stop offset="0.02" stop-color="#020109"/><stop offset="0.04" stop-color="#02020b"/><stop offset="0.06" stop-color="#02020d"/><stop offset="0.09" stop-color="#040414"/><stop offset="0.11" stop-color="#030312"/><stop offset="0.13" stop-color="#06051a"/><stop offset="0.15" stop-color="#06051a"/><stop offset="0.17" stop-color="#090720"/><stop offset="0.19" stop-color="#0a0822"/><stop offset="0.21" stop-color="#110c2f"/><stop offset="0.23" stop-color="#130d34"/><stop offset="0.26" stop-color="#160f3b"/><stop offset="0.28" stop-color="#20114b"/><stop offset="0.3" stop-color="#2c115f"/><stop offset="0.32" stop-color="#3d0f71"/><stop offset="0.34" stop-color="#5a167e"/><stop offset="0.36" stop-color="#6a1c81"/><stop offset="0.38" stop-color="#962c80"/><stop offset="0.4" stop-color="#bf3a77"/><stop offset="0.43" stop-color="#e75263"/><stop offset="0.45" stop-color="#fb8761"/><stop offset="0.47" stop-color="#fec488"/><stop offset="0.49" stop-color="#fde2a3"/><stop offset="0.51" stop-color="#fcf9bb"/><stop offset="0.53" stop-color="#fcf0b2"/><stop offset="0.55" stop-color="#fec88c"/><stop offset="0.57" stop-color="#fe9f6d"/><stop offset="0.6" stop-color="#f2625d"/><stop offset="0.62" stop-color="#ca3e72"/><stop offset="0.64" stop-color="#9c2e7f"/><stop offset="0.66" stop-color="#802582"/><stop offset="0.68" stop-color="#57157e"/><stop offset="0.7" stop-color="#471078"/><stop offset="0.72" stop-color="#2f1163"/><stop offset="0.74" stop-color="#251255"/><stop offset="0.77" stop-color="#1e1149"/><stop offset="0.79" stop-color="#140e36"/><stop offset="0.81" stop-color="#150e38"/><stop offset="0.83" stop-color="#0b0924"/><stop offset="0.85" stop-color="#090720"/><stop offset="0.87" stop-color="#07061c"/><stop offset="0.89" stop-color="#050416"/><stop offset="0.91" stop-color="#050416"/><stop offset="0.94" stop-color="#030312"/><stop offset="0.96" stop-color="#02020b"/><stop offset="0.98" stop-color="#02020b"/><stop offset="1" stop-color="#02020b"/></linearGradient><linearGradient id="h94" x1="0" x2="1" y1="0" y2="0"><stop offset="0" stop-color="#02020b"/><stop offset="0.02" stop-color="#02020b"/><stop offset="0.04" stop-color="#03030f"/><stop offset="0.06" stop-color="#030312"/><stop offset="0.09" stop-color="#060518"/><stop offset="0.11" stop-color="#030312"/><stop offset="0.13" stop-color="#050416"/><stop offset="0.15" stop-color="#07061c"/><stop offset="0.17" stop-color="#0c0926"/><stop offset="0.19" stop-color="#110c2f"/><stop offset="0.21" stop-color="#0d0a29"/><stop offset="0.23" stop-color="#180f3d"/><stop offset="0.26" stop-color="#19103f"/><stop offset="0.28" stop-color="#21114e"/><stop offset="0.3" stop-color="#2d1161"/><stop offset="0.32" stop-color="#3f0f72"/><stop offset="0.34" stop-color="#54137d"/><stop offset="0.36" stop-color="#721f81"/><stop offset="0.38" stop-color="#942c80"/><stop offset="0.4" stop-color="#c23b75"/><stop offset="0.43" stop-color="#e85362"/><stop offset="0.45" stop-color="#fc9065"/><stop offset="0.47" stop-color="#fec287"/><stop offset="0.49" stop-color="#fde5a7"/><stop offset="0.51" stop-color="#fceeb0"/><stop offset="0.53" stop-color="#fde3a5"/><stop offset="0.55" stop-color="#fecc8f"/><stop offset="0.57" stop-color="#fc8a62"/><stop offset="0.6" stop-color="#f2645c"/><stop offset="0.62" stop-color="#c43c75"/><stop offset="0.64" stop-color="#902a81"/><stop offset="0.66" stop-color="#732081"/><stop offset="0.68" stop-color="#57157e"/><stop offset="0.7" stop-color="#3f0f72"/><stop offset="0.72" stop-color="#38106c"/><stop offset="0.74" stop-color="#251255"/><stop offset="0.77" stop-color="#1c1044"/><stop offset="0.79" stop-color="#160f3b"/><stop offset="0.81" stop-color="#110c2f"/><stop offset="0.83" stop-color="#0e0b2b"/><stop offset="0.85" stop-color="#0a0822"/><stop offset="0.87" stop-color="#06051a"/><stop offset="0.89" stop-color="#050416"/><stop offset="0.91" stop-color="#030312"/><stop offset="0.94" stop-color="#03030f"/><stop offset="0.96" stop-color="#03030f"/><stop offset="0.98" stop-color="#02020b"/><stop offset="1" stop-color="#020109"/></linearGradient><linearGradient id="h95" x1="0" x2="1" y1="0" y2="0"><stop offset="0" stop-color="#010108"/><stop offset="0.02" stop-color="#02020b"/><stop offset="0.04" stop-color="#02020b"/><stop offset="0.06" stop-color="#02020d"/><stop offset="0.09" stop-color="#03030f"/><stop offset="0.11" stop-color="#040414"/><stop offset="0.13" stop-color="#040414"/><stop offset="0.15" stop-color="#06051a"/><stop offset="0.17" stop-color="#07061c"/><stop offset="0.19" stop-color="#0b0924"/><stop offset="0.21" stop-color="#0e0b2b"/><stop offset="0.23" stop-color="#120d31"/><stop offset="0.26" stop-color="#160f3b"/><stop offset="0.28" stop-color="#1d1147"/><stop offset="0.3" stop-color="#271258"/><stop offset="0.32" stop-color="#3f0f72"/><stop offset="0.34" stop-color="#52137c"/><stop offset="0.36" stop-color="#671b80"/><stop offset="0.38" stop-color="#842681"/><stop offset="0.4" stop-color="#ae347b"/><stop offset="0.43" stop-color="#de4968"/><stop offset="0.45" stop-color="#fc8961"/><stop offset="0.47" stop-color="#feb67c"/><stop offset="0.49" stop-color="#fddc9e"/><stop offset="0.51" stop-color="#fcf4b6"/><stop offset="0.53" stop-color="#fcf4b6"/><stop offset="0.55" stop-color="#fddea0"/><stop offset="0.57" stop-color="#fea16e"/><stop offset="0.6" stop-color="#f7725c"/><stop offset="0.62" stop-color="#d6456c"/><stop offset="0.64" stop-color="#a5317e"/><stop offset="0.66" stop-color="#882781"/><stop offset="0.68" stop-color="#641a80"/><stop offset="0.7" stop-color="#4a1079"/><stop offset="0.72" stop-color="#38106c"/><stop offset="0.74" stop-color="#29115a"/><stop offset="0.77" stop-color="#1e1149"/><stop offset="0.79" stop-color="#160f3b"/><stop offset="0.81" stop-color="#160f3b"/><stop offset="0.83" stop-color="#0d0a29"/><stop offset="0.85" stop-color="#090720"/><stop offset="0.87" stop-color="#07061c"/><stop offset="0.89" stop-color="#0a0822"/><stop offset="0.91" stop-color="#060518"/><stop offset="0.94" stop-color="#03030f"/><stop offset="0.96" stop-color="#03030f"/><stop offset="0.98" stop-color="#03030f"/><stop offset="1" stop-color="#020109"/></linearGradient><linearGradient id="h96" x1="0" x2="1" y1="0" y2="0"><stop offset="0" stop-color="#02020b"/><stop offset="0.02" stop-color="#02020d"/><stop offset="0.04" stop-color="#02020d"/><stop offset="0.06" stop-color="#02020d"/><stop offset="0.09" stop-color="#03030f"/><stop offset="0.11" stop-color="#030312"/><stop offset="0.13" stop-color="#040414"/><stop offset="0.15" stop-color="#06051a"/><stop offset="0.17" stop-color="#090720"/><stop offset="0.19" stop-color="#0c0926"/><stop offset="0.21" stop-color="#0e0b2b"/><stop offset="0.23" stop-color="#160f3b"/><stop offset="0.26" stop-color="#19103f"/><stop offset="0.28" stop-color="#21114e"/><stop offset="0.3" stop-color="#2f1163"/><stop offset="0.32" stop-color="#3b0f70"/><stop offset="0.34" stop-color="#52137c"/><stop offset="0.36" stop-color="#721f81"/><stop offset="0.38" stop-color="#962c80"/><stop offset="0.4" stop-color="#bf3a77"/><stop offset="0.43" stop-color="#ef5d5e"/><stop offset="0.45" stop-color="#fb835f"/><stop offset="0.47" stop-color="#feb27a"/><stop offset="0.49" stop-color="#fde3a5"/><stop offset="0.51" stop-color="#fcfdbf"/><stop offset="0.53" stop-color="#fcfdbf"/><stop offset="0.55" stop-color="#fde0a1"/><stop offset="0.57" stop-color="#feb078"/><stop offset="0.6" stop-color="#fa7f5e"/><stop offset="0.62" stop-color="#d5446d"/><stop offset="0.64" stop-color="#b5367a"/><stop offset="0.66" stop-color="#812581"/><stop offset="0.68" stop-color="#641a80"/><stop offset="0.7" stop-color="#4c117a"/><stop offset="0.72" stop-color="#390f6e"/><stop offset="0.74" stop-color="#2a115c"/><stop offset="0.77" stop-color="#21114e"/><stop offset="0.79" stop-color="#180f3d"/><stop offset="0.81" stop-color="#130d34"/><stop offset="0.83" stop-color="#0e0b2b"/><stop offset="0.85" stop-color="#0b0924"/><stop offset="0.87" stop-color="#090720"/><stop offset="0.89" stop-color="#06051a"/><stop offset="0.91" stop-color="#040414"/><stop offset="0.94" stop-color="#030312"/><stop offset="0.96" stop-color="#030312"/><stop offset="0.98" stop-color="#02020b"/><stop offset="1" stop-color="#02020d"/></linearGradient><linearGradient id="h97" x1="0" x2="1" y1="0" y2="0"><stop offset="0" stop-color="#02020b"/><stop offset="0.02" stop-color="#020109"/><stop offset="0.04" stop-color="#02020b"/><stop offset="0.06" stop-color="#02020d"/><stop offset="0.09" stop-color="#050416"/><stop offset="0.11" stop-color="#040414"/><stop offset="0.13" stop-color="#060518"/><stop offset="0.15" stop-color="#06051a"/><stop offset="0.17" stop-color="#090720"/><stop offset="0.19" stop-color="#0b0924"/><stop offset="0.21" stop-color="#100b2d"/><stop offset="0.23" stop-color="#130d34"/><stop offset="0.26" stop-color="#19103f"/><stop offset="0.28" stop-color="#20114b"/><stop offset="0.3" stop-color="#2f1163"/><stop offset="0.32" stop-color="#331067"/><stop offset="0.34" stop-color="#4f127b"/><stop offset="0.36" stop-color="#681c81"/><stop offset="0.38" stop-color="#862781"/><stop offset="0.4" stop-color="#b5367a"/><stop offset="0.43" stop-color="#df4a68"/><stop offset="0.45" stop-color="#f9795d"/><stop offset="0.47" stop-color="#feb27a"/><stop offset="0.49" stop-color="#fed395"/><stop offset="0.51" stop-color="#fcf2b4"/><stop offset="0.53" stop-color="#fcf4b6"/><stop offset="0.55" stop-color="#fed395"/><stop offset="0.57" stop-color="#feb078"/><stop offset="0.6" stop-color="#fa7d5e"/><stop offset="0.62" stop-color="#d8456c"/><stop offset="0.64" stop-color="#ab337c"/><stop offset="0.66" stop-color="#8b2981"/><stop offset="0.68" stop-color="#641a80"/><stop offset="0.7" stop-color="#56147d"/><stop offset="0.72" stop-color="#3f0f72"/><stop offset="0.74" stop-color="#29115a"/><stop offset="0.77" stop-color="#241253"/><stop offset="0.79" stop-color="#180f3d"/><stop offset="0.81" stop-color="#160f3b"/><stop offset="0.83" stop-color="#0e0b2b"/><stop offset="0.85" stop-color="#0e0b2b"/><stop offset="0.87" stop-color="#090720"/><stop offset="0.89" stop-color="#07061c"/><stop offset="0.91" stop-color="#040414"/><stop offset="0.94" stop-color="#030312"/><stop offset="0.96" stop-color="#040414"/><stop offset="0.98" stop-color="#02020d"/><stop offset="1" stop-color="#030312"/></linearGradient><linearGradient id="h98" x1="0" x2="1" y1="0" y2="0"><stop offset="0" stop-color="#02020b"/><stop offset="0.02" stop-color="#02020d"/><stop offset="0.04" stop-color="#02020b"/><stop offset="0.06" stop-color="#03030f"/><stop offset="0.09" stop-color="#040414"/><stop offset="0.11" stop-color="#060518"/><stop offset="0.13" stop-color="#07061c"/><stop offset="0.15" stop-color="#07061c"/><stop offset="0.17" stop-color="#090720"/><stop offset="0.19" stop-color="#0e0b2b"/><stop offset="0.21" stop-color="#110c2f"/><stop offset="0.23" stop-color="#19103f"/><stop offset="0.26" stop-color="#1c1044"/><stop offset="0.28" stop-color="#241253"/><stop offset="0.3" stop-color="#36106b"/><stop offset="0.32" stop-color="#440f76"/><stop offset="0.34" stop-color="#621980"/><stop offset="0.36" stop-color="#792282"/><stop offset="0.38" stop-color="#912b81"/><stop offset="0.4" stop-color="#c83e73"/><stop offset="0.43" stop-color="#ec5860"/><stop offset="0.45" stop-color="#fc8e64"/><stop offset="0.47" stop-color="#feb97f"/><stop offset="0.49" stop-color="#fde2a3"/><stop offset="0.51" stop-color="#fcecae"/><stop offset="0.53" stop-color="#fcecae"/><stop offset="0.55" stop-color="#fecc8f"/><stop offset="0.57" stop-color="#feb078"/><stop offset="0.6" stop-color="#f9795d"/><stop offset="0.62" stop-color="#e24d66"/><stop offset="0.64" stop-color="#b83779"/><stop offset="0.66" stop-color="#862781"/><stop offset="0.68" stop-color="#6d1d81"/><stop offset="0.7" stop-color="#4f127b"/><stop offset="0.72" stop-color="#3d0f71"/><stop offset="0.74" stop-color="#29115a"/><stop offset="0.77" stop-color="#1e1149"/><stop offset="0.79" stop-color="#1d1147"/><stop offset="0.81" stop-color="#140e36"/><stop offset="0.83" stop-color="#110c2f"/><stop offset="0.85" stop-color="#0b0924"/><stop offset="0.87" stop-color="#0a0822"/><stop offset="0.89" stop-color="#06051a"/><stop offset="0.91" stop-color="#050416"/><stop offset="0.94" stop-color="#060518"/><stop offset="0.96" stop-color="#050416"/><stop offset="0.98" stop-color="#02020d"/><stop offset="1" stop-color="#02020b"/></linearGradient><linearGradient id="h99" x1="0" x2="1" y1="0" y2="0"><stop offset="0" stop-color="#020109"/><stop offset="0.02" stop-color="#02020b"/><stop offset="0.04" stop-color="#02020d"/><stop offset="0.06" stop-color="#02020d"/><stop offset="0.09" stop-color="#040414"/><stop offset="0.11" stop-color="#030312"/><stop offset="0.13" stop-color="#06051a"/><stop offset="0.15" stop-color="#090720"/><stop offset="0.17" stop-color="#0b0924"/><stop offset="0.19" stop-color="#0d0a29"/><stop offset="0.21" stop-color="#120d31"/><stop offset="0.23" stop-color="#19103f"/><stop offset="0.26" stop-color="#1e1149"/><stop offset="0.28" stop-color="#241253"/><stop offset="0.3" stop-color="#311165"/><stop offset="0.32" stop-color="#400f74"/><stop offset="0.34" stop-color="#5d177f"/><stop offset="0.36" stop-color="#792282"/><stop offset="0.38" stop-color="#982d80"/><stop offset="0.4" stop-color="#cf4070"/><stop offset="0.43" stop-color="#f4675c"/><stop offset="0.45" stop-color="#fd9869"/><stop offset="0.47" stop-color="#feca8d"/><stop offset="0.49" stop-color="#fdebac"/><stop offset="0.51" stop-color="#fcfdbf"/><stop offset="0.53" stop-color="#fcfdbf"/><stop offset="0.55" stop-color="#fde5a7"/><stop offset="0.57" stop-color="#feb67c"/><stop offset="0.6" stop-color="#f8765c"/><stop offset="0.62" stop-color="#e24d66"/><stop offset="0.64" stop-color="#c53c74"/><stop offset="0.66" stop-color="#8c2981"/><stop offset="0.68" stop-color="#762181"/><stop offset="0.7" stop-color="#4f127b"/><stop offset="0.72" stop-color="#451077"/><stop offset="0.74" stop-color="#331067"/><stop offset="0.77" stop-color="#21114e"/><stop offset="0.79" stop-color="#20114b"/><stop offset="0.81" stop-color="#150e38"/><stop offset="0.83" stop-color="#110c2f"/><stop offset="0.85" stop-color="#0d0a29"/><stop offset="0.87" stop-color="#0a0822"/><stop offset="0.89" stop-color="#07061c"/><stop offset="0.91" stop-color="#060518"/><stop offset="0.94" stop-color="#040414"/><stop offset="0.96" stop-color="#03030f"/><stop offset="0.98" stop-color="#02020d"/><stop offset="1" stop-color="#02020b"/></linearGradient><linearGradient id="h100" x1="0" x2="1" y1="0" y2="0"><stop offset="0" stop-color="#02020b"/><stop offset="0.02" stop-color="#02020b"/><stop offset="0.04" stop-color="#02020b"/><stop offset="0.06" stop-color="#030312"/><stop offset="0.09" stop-color="#03030f"/><stop offset="0.11" stop-color="#050416"/><stop offset="0.13" stop-color="#06051a"/><stop offset="0.15" stop-color="#08071e"/><stop offset="0.17" stop-color="#090720"/><stop offset="0.19" stop-color="#0b0924"/><stop offset="0.21" stop-color="#110c2f"/><stop offset="0.23" stop-color="#130d34"/><stop offset="0.26" stop-color="#1a1042"/><stop offset="0.28" stop-color="#251255"/><stop offset="0.3" stop-color="#2c115f"/><stop offset="0.32" stop-color="#3f0f72"/><stop offset="0.34" stop-color="#51127c"/><stop offset="0.36" stop-color="#732081"/><stop offset="0.38" stop-color="#8b2981"/><stop offset="0.4" stop-color="#c83e73"/><stop offset="0.43" stop-color="#f2625d"/><stop offset="0.45" stop-color="#fd9467"/><stop offset="0.47" stop-color="#fecf92"/><stop offset="0.49" stop-color="#fcf4b6"/><stop offset="0.51" stop-color="#fcfdbf"/><stop offset="0.53" stop-color="#fcfdbf"/><stop offset="0.55" stop-color="#fcecae"/><stop offset="0.57" stop-color="#feac76"/><stop offset="0.6" stop-color="#f9785d"/><stop offset="0.62" stop-color="#ca3e72"/><stop offset="0.64" stop-color="#ab337c"/><stop offset="0.66" stop-color="#882781"/><stop offset="0.68" stop-color="#681c81"/><stop offset="0.7" stop-color="#4f127b"/><stop offset="0.72" stop-color="#390f6e"/><stop offset="0.74" stop-color="#2c115f"/><stop offset="0.77" stop-color="#241253"/><stop offset="0.79" stop-color="#180f3d"/><stop offset="0.81" stop-color="#130d34"/><stop offset="0.83" stop-color="#0d0a29"/><stop offset="0.85" stop-color="#0a0822"/><stop offset="0.87" stop-color="#08071e"/><stop offset="0.89" stop-color="#060518"/><stop offset="0.91" stop-color="#040414"/><stop offset="0.94" stop-color="#060518"/><stop offset="0.96" stop-color="#030312"/><stop offset="0.98" stop-color="#02020d"/><stop offset="1" stop-color="#02020d"/></linearGradient><linearGradient id="h101" x1="0" x2="1" y1="0" y2="0"><stop offset="0" stop-color="#02020b"/><stop offset="0.02" stop-color="#03030f"/><stop offset="0.04" stop-color="#02020b"/><stop offset="0.06" stop-color="#02020d"/><stop offset="0.09" stop-color="#03030f"/><stop offset="0.11" stop-color="#040414"/><stop offset="0.13" stop-color="#06051a"/><stop offset="0.15" stop-color="#06051a"/><stop offset="0.17" stop-color="#090720"/><stop offset="0.19" stop-color="#0c0926"/><stop offset="0.21" stop-color="#110c2f"/><stop offset="0.23" stop-color="#150e38"/><stop offset="0.26" stop-color="#1d1147"/><stop offset="0.28" stop-color="#221150"/><stop offset="0.3" stop-color="#2f1163"/><stop offset="0.32" stop-color="#440f76"/><stop offset="0.34" stop-color="#57157e"/><stop offset="0.36" stop-color="#782281"/><stop offset="0.38" stop-color="#942c80"/><stop offset="0.4" stop-color="#cd4071"/><stop offset="0.43" stop-color="#ea5661"/><stop offset="0.45" stop-color="#fd9a6a"/><stop offset="0.47" stop-color="#fec287"/><stop offset="0.49" stop-color="#fde9aa"/><stop offset="0.51" stop-color="#fcf6b8"/><stop offset="0.53" stop-color="#fde3a5"/><stop offset="0.55" stop-color="#feb97f"/><stop offset="0.57" stop-color="#fb835f"/><stop offset="0.6" stop-color="#f1605d"/><stop offset="0.62" stop-color="#c83e73"/><stop offset="0.64" stop-color="#9c2e7f"/><stop offset="0.66" stop-color="#752181"/><stop offset="0.68" stop-color="#4f127b"/><stop offset="0.7" stop-color="#3b0f70"/><stop offset="0.72" stop-color="#341069"/><stop offset="0.74" stop-color="#251255"/><stop offset="0.77" stop-color="#1a1042"/><stop offset="0.79" stop-color="#150e38"/><stop offset="0.81" stop-color="#0e0b2b"/><stop offset="0.83" stop-color="#0b0924"/><stop offset="0.85" stop-color="#0a0822"/><stop offset="0.87" stop-color="#07061c"/><stop offset="0.89" stop-color="#06051a"/><stop offset="0.91" stop-color="#06051a"/><stop offset="0.94" stop-color="#030312"/><stop offset="0.96" stop-color="#02020d"/><stop offset="0.98" stop-color="#02020b"/><stop offset="1" stop-color="#02020d"/></linearGradient><linearGradient id="h102" x1="0" x2="1" y1="0" y2="0"><stop offset="0" stop-color="#020109"/><stop offset="0.02" stop-color="#03030f"/><stop offset="0.04" stop-color="#020109"/><stop offset="0.06" stop-color="#02020d"/><stop offset="0.09" stop-color="#040414"/><stop offset="0.11" stop-color="#03030f"/><stop offset="0.13" stop-color="#050416"/><stop offset="0.15" stop-color="#07061c"/><stop offset="0.17" stop-color="#090720"/><stop offset="0.19" stop-color="#0c0926"/><stop offset="0.21" stop-color="#0e0b2b"/><stop offset="0.23" stop-color="#120d31"/><stop offset="0.26" stop-color="#1c1044"/><stop offset="0.28" stop-color="#241253"/><stop offset="0.3" stop-color="#2f1163"/><stop offset="0.32" stop-color="#3b0f70"/><stop offset="0.34" stop-color="#57157e"/><stop offset="0.36" stop-color="#6a1c81"/><stop offset="0.38" stop-color="#912b81"/><stop offset="0.4" stop-color="#b83779"/><stop offset="0.43" stop-color="#ec5860"/><stop offset="0.45" stop-color="#fc8c63"/><stop offset="0.47" stop-color="#fec488"/><stop offset="0.49" stop-color="#fde3a5"/><stop offset="0.51" stop-color="#fcf2b4"/><stop offset="0.53" stop-color="#fceeb0"/><stop offset="0.55" stop-color="#fec88c"/><stop offset="0.57" stop-color="#fd9a6a"/><stop offset="0.6" stop-color="#f1605d"/><stop offset="0.62" stop-color="#ca3e72"/><stop offset="0.64" stop-color="#962c80"/><stop offset="0.66" stop-color="#6d1d81"/><stop offset="0.68" stop-color="#5c167f"/><stop offset="0.7" stop-color="#3b0f70"/><stop offset="0.72" stop-color="#2c115f"/><stop offset="0.74" stop-color="#241253"/><stop offset="0.77" stop-color="#1e1149"/><stop offset="0.79" stop-color="#150e38"/><stop offset="0.81" stop-color="#120d31"/><stop offset="0.83" stop-color="#0d0a29"/><stop offset="0.85" stop-color="#0d0a29"/><stop offset="0.87" stop-color="#06051a"/><stop offset="0.89" stop-color="#050416"/><stop offset="0.91" stop-color="#040414"/><stop offset="0.94" stop-color="#030312"/><stop offset="0.96" stop-color="#03030f"/><stop offset="0.98" stop-color="#02020d"/><stop offset="1" stop-color="#02020d"/></linearGradient><linearGradient id="h103" x1="0" x2="1" y1="0" y2="0"><stop offset="0" stop-color="#03030f"/><stop offset="0.02" stop-color="#020109"/><stop offset="0.04" stop-color="#02020d"/><stop offset="0.06" stop-color="#030312"/><stop offset="0.09" stop-color="#040414"/><stop offset="0.11" stop-color="#030312"/><stop offset="0.13" stop-color="#060518"/><stop offset="0.15" stop-color="#08071e"/><stop offset="0.17" stop-color="#090720"/><stop offset="0.19" stop-color="#0b0924"/><stop offset="0.21" stop-color="#110c2f"/><stop offset="0.23" stop-color="#180f3d"/><stop offset="0.26" stop-color="#1a1042"/><stop offset="0.28" stop-color="#241253"/><stop offset="0.3" stop-color="#331067"/><stop offset="0.32" stop-color="#390f6e"/><stop offset="0.34" stop-color="#56147d"/><stop offset="0.36" stop-color="#701f81"/><stop offset="0.38" stop-color="#962c80"/><stop offset="0.4" stop-color="#d0416f"/><stop offset="0.43" stop-color="#ef5d5e"/><stop offset="0.45" stop-color="#fea16e"/><stop offset="0.47" stop-color="#fec88c"/><stop offset="0.49" stop-color="#fcf0b2"/><stop offset="0.51" stop-color="#fcf9bb"/><stop offset="0.53" stop-color="#fceeb0"/><stop offset="0.55" stop-color="#fec68a"/><stop offset="0.57" stop-color="#fc8c63"/><stop offset="0.6" stop-color="#ea5661"/><stop offset="0.62" stop-color="#bc3978"/><stop offset="0.64" stop-color="#962c80"/><stop offset="0.66" stop-color="#6e1e81"/><stop offset="0.68" stop-color="#54137d"/><stop offset="0.7" stop-color="#3b0f70"/><stop offset="0.72" stop-color="#2c115f"/><stop offset="0.74" stop-color="#1e1149"/><stop offset="0.77" stop-color="#1c1044"/><stop offset="0.79" stop-color="#120d31"/><stop offset="0.81" stop-color="#0d0a29"/><stop offset="0.83" stop-color="#0c0926"/><stop offset="0.85" stop-color="#07061c"/><stop offset="0.87" stop-color="#07061c"/><stop offset="0.89" stop-color="#050416"/><stop offset="0.91" stop-color="#03030f"/><stop offset="0.94" stop-color="#030312"/><stop offset="0.96" stop-color="#02020d"/><stop offset="0.98" stop-color="#020109"/><stop offset="1" stop-color="#02020d"/></linearGradient><linearGradient id="h104" x1="0" x2="1" y1="0" y2="0"><stop offset="0" stop-color="#02020b"/><stop offset="0.02" stop-color="#02020d"/><stop offset="0.04" stop-color="#02020b"/><stop offset="0.06" stop-color="#03030f"/><stop offset="0.09" stop-color="#03030f"/><stop offset="0.11" stop-color="#07061c"/><stop offset="0.13" stop-color="#06051a"/><stop offset="0.15" stop-color="#090720"/><stop offset="0.17" stop-color="#0b0924"/><stop offset="0.19" stop-color="#100b2d"/><stop offset="0.21" stop-color="#130d34"/><stop offset="0.23" stop-color="#160f3b"/><stop offset="0.26" stop-color="#20114b"/><stop offset="0.28" stop-color="#2a115c"/><stop offset="0.3" stop-color="#331067"/><stop offset="0.32" stop-color="#4a1079"/><stop offset="0.34" stop-color="#641a80"/><stop offset="0.36" stop-color="#792282"/><stop offset="0.38" stop-color="#a8327d"/><stop offset="0.4" stop-color="#cd4071"/><stop offset="0.43" stop-color="#fa7d5e"/><stop offset="0.45" stop-color="#feb27a"/><stop offset="0.47" stop-color="#fdda9c"/><stop offset="0.49" stop-color="#fcf6b8"/><stop offset="0.51" stop-color="#fcfdbf"/><stop offset="0.53" stop-color="#fcf7b9"/><stop offset="0.55" stop-color="#fed597"/><stop offset="0.57" stop-color="#fea772"/><stop offset="0.6" stop-color="#f97b5d"/><stop offset="0.62" stop-color="#cc3f71"/><stop offset="0.64" stop-color="#ae347b"/><stop offset="0.66" stop-color="#7b2382"/><stop offset="0.68" stop-color="#641a80"/><stop offset="0.7" stop-color="#4a1079"/><stop offset="0.72" stop-color="#38106c"/><stop offset="0.74" stop-color="#341069"/><stop offset="0.77" stop-color="#1d1147"/><stop offset="0.79" stop-color="#19103f"/><stop offset="0.81" stop-color="#130d34"/><stop offset="0.83" stop-color="#0e0b2b"/><stop offset="0.85" stop-color="#0d0a29"/><stop offset="0.87" stop-color="#07061c"/><stop offset="0.89" stop-color="#07061c"/><stop offset="0.91" stop-color="#050416"/><stop offset="0.94" stop-color="#030312"/><stop offset="0.96" stop-color="#02020d"/><stop offset="0.98" stop-color="#02020d"/><stop offset="1" stop-color="#030312"/></linearGradient><linearGradient id="h105" x1="0" x2="1" y1="0" y2="0"><stop offset="0" stop-color="#02020b"/><stop offset="0.02" stop-color="#02020d"/><stop offset="0.04" stop-color="#02020b"/><stop offset="0.06" stop-color="#03030f"/><stop offset="0.09" stop-color="#02020d"/><stop offset="0.11" stop-color="#040414"/><stop offset="0.13" stop-color="#050416"/><stop offset="0.15" stop-color="#060518"/><stop offset="0.17" stop-color="#090720"/><stop offset="0.19" stop-color="#0b0924"/><stop offset="0.21" stop-color="#120d31"/><stop offset="0.23" stop-color="#1e1149"/><stop offset="0.26" stop-color="#1a1042"/><stop offset="0.28" stop-color="#29115a"/><stop offset="0.3" stop-color="#331067"/><stop offset="0.32" stop-color="#420f75"/><stop offset="0.34" stop-color="#601880"/><stop offset="0.36" stop-color="#752181"/><stop offset="0.38" stop-color="#992d80"/><stop offset="0.4" stop-color="#cd4071"/><stop offset="0.43" stop-color="#f7705c"/><stop offset="0.45" stop-color="#fea16e"/><stop offset="0.47" stop-color="#fecd90"/><stop offset="0.49" stop-color="#fceeb0"/><stop offset="0.51" stop-color="#fcfdbf"/><stop offset="0.53" stop-color="#fcf2b4"/><stop offset="0.55" stop-color="#fec88c"/><stop offset="0.57" stop-color="#fd9467"/><stop offset="0.6" stop-color="#ef5d5e"/><stop offset="0.62" stop-color="#b2357b"/><stop offset="0.64" stop-color="#982d80"/><stop offset="0.66" stop-color="#762181"/><stop offset="0.68" stop-color="#59157e"/><stop offset="0.7" stop-color="#420f75"/><stop offset="0.72" stop-color="#2f1163"/><stop offset="0.74" stop-color="#221150"/><stop offset="0.77" stop-color="#21114e"/><stop offset="0.79" stop-color="#120d31"/><stop offset="0.81" stop-color="#110c2f"/><stop offset="0.83" stop-color="#0b0924"/><stop offset="0.85" stop-color="#0a0822"/><stop offset="0.87" stop-color="#06051a"/><stop offset="0.89" stop-color="#050416"/><stop offset="0.91" stop-color="#030312"/><stop offset="0.94" stop-color="#030312"/><stop offset="0.96" stop-color="#03030f"/><stop offset="0.98" stop-color="#02020b"/><stop offset="1" stop-color="#02020b"/></linearGradient><linearGradient id="h106" x1="0" x2="1" y1="0" y2="0"><stop offset="0" stop-color="#020109"/><stop offset="0.02" stop-color="#02020b"/><stop offset="0.04" stop-color="#03030f"/><stop offset="0.06" stop-color="#02020d"/><stop offset="0.09" stop-color="#03030f"/><stop offset="0.11" stop-color="#050416"/><stop offset="0.13" stop-color="#060518"/><stop offset="0.15" stop-color="#08071e"/><stop offset="0.17" stop-color="#0d0a29"/><stop offset="0.19" stop-color="#0c0926"/><stop offset="0.21" stop-color="#110c2f"/><stop offset="0.23" stop-color="#150e38"/><stop offset="0.26" stop-color="#1a1042"/><stop offset="0.28" stop-color="#271258"/><stop offset="0.3" stop-color="#311165"/><stop offset="0.32" stop-color="#440f76"/><stop offset="0.34" stop-color="#56147d"/><stop offset="0.36" stop-color="#6b1d81"/><stop offset="0.38" stop-color="#902a81"/><stop offset="0.4" stop-color="#bf3a77"/><stop offset="0.43" stop-color="#ee5b5e"/><stop offset="0.45" stop-color="#f97b5d"/><stop offset="0.47" stop-color="#feb97f"/><stop offset="0.49" stop-color="#fed89a"/><stop offset="0.51" stop-color="#fcf4b6"/><stop offset="0.53" stop-color="#fcf2b4"/><stop offset="0.55" stop-color="#fddea0"/><stop offset="0.57" stop-color="#feb67c"/><stop offset="0.6" stop-color="#fa815f"/><stop offset="0.62" stop-color="#db476a"/><stop offset="0.64" stop-color="#b5367a"/><stop offset="0.66" stop-color="#932b80"/><stop offset="0.68" stop-color="#6d1d81"/><stop offset="0.7" stop-color="#52137c"/><stop offset="0.72" stop-color="#451077"/><stop offset="0.74" stop-color="#331067"/><stop offset="0.77" stop-color="#1e1149"/><stop offset="0.79" stop-color="#1e1149"/><stop offset="0.81" stop-color="#150e38"/><stop offset="0.83" stop-color="#120d31"/><stop offset="0.85" stop-color="#0b0924"/><stop offset="0.87" stop-color="#090720"/><stop offset="0.89" stop-color="#07061c"/><stop offset="0.91" stop-color="#050416"/><stop offset="0.94" stop-color="#030312"/><stop offset="0.96" stop-color="#03030f"/><stop offset="0.98" stop-color="#02020d"/><stop offset="1" stop-color="#02020d"/></linearGradient><linearGradient id="cbar" x1="0" x2="1" y1="0" y2="0"><stop offset="0" stop-color="#140e36"/><stop offset="0.1" stop-color="#36106b"/><stop offset="0.2" stop-color="#5c167f"/><stop offset="0.3" stop-color="#802582"/><stop offset="0.4" stop-color="#a5317e"/><stop offset="0.5" stop-color="#ca3e72"/><stop offset="0.6" stop-color="#ea5661"/><stop offset="0.7" stop-color="#fa7d5e"/><stop offset="0.8" stop-color="#fea973"/><stop offset="0.9" stop-color="#fed395"/><stop offset="1" stop-color="#fcfdbf"/></linearGradient><radialGradient id="glowb"><stop offset="0" stop-color="#dceef6"/><stop offset="1" stop-color="#ffffff" stop-opacity="0"/></radialGradient><radialGradient id="glowr"><stop offset="0" stop-color="#fbe3e0"/><stop offset="1" stop-color="#ffffff" stop-opacity="0"/></radialGradient><radialGradient id="grr" cx="0.4" cy="0.35" r="0.7"><stop offset="0" stop-color="#ff6a6a"/><stop offset="0.6" stop-color="#e5101a"/><stop offset="1" stop-color="#b00010"/></radialGradient><radialGradient id="gbb" cx="0.4" cy="0.35" r="0.7"><stop offset="0" stop-color="#5cc0ff"/><stop offset="0.6" stop-color="#1a8fe0"/><stop offset="1" stop-color="#0a62b0"/></radialGradient></defs><rect x="53.1" y="33.3" width="155.3" height="1.6" fill="url(#h0)" shape-rendering="crispEdges"/>
<rect x="53.1" y="34.3" width="155.3" height="1.6" fill="url(#h1)" shape-rendering="crispEdges"/>
<rect x="53.1" y="35.29" width="155.3" height="1.6" fill="url(#h2)" shape-rendering="crispEdges"/>
<rect x="53.1" y="36.29" width="155.3" height="1.6" fill="url(#h3)" shape-rendering="crispEdges"/>
<rect x="53.1" y="37.29" width="155.3" height="1.6" fill="url(#h4)" shape-rendering="crispEdges"/>
<rect x="53.1" y="38.28" width="155.3" height="1.6" fill="url(#h5)" shape-rendering="crispEdges"/>
<rect x="53.1" y="39.28" width="155.3" height="1.6" fill="url(#h6)" shape-rendering="crispEdges"/>
<rect x="53.1" y="40.27" width="155.3" height="1.6" fill="url(#h7)" shape-rendering="crispEdges"/>
<rect x="53.1" y="41.27" width="155.3" height="1.6" fill="url(#h8)" shape-rendering="crispEdges"/>
<rect x="53.1" y="42.27" width="155.3" height="1.6" fill="url(#h9)" shape-rendering="crispEdges"/>
<rect x="53.1" y="43.26" width="155.3" height="1.6" fill="url(#h10)" shape-rendering="crispEdges"/>
<rect x="53.1" y="44.26" width="155.3" height="1.6" fill="url(#h11)" shape-rendering="crispEdges"/>
<rect x="53.1" y="45.26" width="155.3" height="1.6" fill="url(#h12)" shape-rendering="crispEdges"/>
<rect x="53.1" y="46.25" width="155.3" height="1.6" fill="url(#h13)" shape-rendering="crispEdges"/>
<rect x="53.1" y="47.25" width="155.3" height="1.6" fill="url(#h14)" shape-rendering="crispEdges"/>
<rect x="53.1" y="48.24" width="155.3" height="1.6" fill="url(#h15)" shape-rendering="crispEdges"/>
<rect x="53.1" y="49.24" width="155.3" height="1.6" fill="url(#h16)" shape-rendering="crispEdges"/>
<rect x="53.1" y="50.24" width="155.3" height="1.6" fill="url(#h17)" shape-rendering="crispEdges"/>
<rect x="53.1" y="51.23" width="155.3" height="1.6" fill="url(#h18)" shape-rendering="crispEdges"/>
<rect x="53.1" y="52.23" width="155.3" height="1.6" fill="url(#h19)" shape-rendering="crispEdges"/>
<rect x="53.1" y="53.23" width="155.3" height="1.6" fill="url(#h20)" shape-rendering="crispEdges"/>
<rect x="53.1" y="54.22" width="155.3" height="1.6" fill="url(#h21)" shape-rendering="crispEdges"/>
<rect x="53.1" y="55.22" width="155.3" height="1.6" fill="url(#h22)" shape-rendering="crispEdges"/>
<rect x="53.1" y="56.21" width="155.3" height="1.6" fill="url(#h23)" shape-rendering="crispEdges"/>
<rect x="53.1" y="57.21" width="155.3" height="1.6" fill="url(#h24)" shape-rendering="crispEdges"/>
<rect x="53.1" y="58.21" width="155.3" height="1.6" fill="url(#h25)" shape-rendering="crispEdges"/>
<rect x="53.1" y="59.2" width="155.3" height="1.6" fill="url(#h26)" shape-rendering="crispEdges"/>
<rect x="53.1" y="60.2" width="155.3" height="1.6" fill="url(#h27)" shape-rendering="crispEdges"/>
<rect x="53.1" y="61.2" width="155.3" height="1.6" fill="url(#h28)" shape-rendering="crispEdges"/>
<rect x="53.1" y="62.19" width="155.3" height="1.6" fill="url(#h29)" shape-rendering="crispEdges"/>
<rect x="53.1" y="63.19" width="155.3" height="1.6" fill="url(#h30)" shape-rendering="crispEdges"/>
<rect x="53.1" y="64.18" width="155.3" height="1.6" fill="url(#h31)" shape-rendering="crispEdges"/>
<rect x="53.1" y="65.18" width="155.3" height="1.6" fill="url(#h32)" shape-rendering="crispEdges"/>
<rect x="53.1" y="66.18" width="155.3" height="1.6" fill="url(#h33)" shape-rendering="crispEdges"/>
<rect x="53.1" y="67.17" width="155.3" height="1.6" fill="url(#h34)" shape-rendering="crispEdges"/>
<rect x="53.1" y="68.17" width="155.3" height="1.6" fill="url(#h35)" shape-rendering="crispEdges"/>
<rect x="53.1" y="69.17" width="155.3" height="1.6" fill="url(#h36)" shape-rendering="crispEdges"/>
<rect x="53.1" y="70.16" width="155.3" height="1.6" fill="url(#h37)" shape-rendering="crispEdges"/>
<rect x="53.1" y="71.16" width="155.3" height="1.6" fill="url(#h38)" shape-rendering="crispEdges"/>
<rect x="53.1" y="72.15" width="155.3" height="1.6" fill="url(#h39)" shape-rendering="crispEdges"/>
<rect x="53.1" y="73.15" width="155.3" height="1.6" fill="url(#h40)" shape-rendering="crispEdges"/>
<rect x="53.1" y="74.15" width="155.3" height="1.6" fill="url(#h41)" shape-rendering="crispEdges"/>
<rect x="53.1" y="75.14" width="155.3" height="1.6" fill="url(#h42)" shape-rendering="crispEdges"/>
<rect x="53.1" y="76.14" width="155.3" height="1.6" fill="url(#h43)" shape-rendering="crispEdges"/>
<rect x="53.1" y="77.14" width="155.3" height="1.6" fill="url(#h44)" shape-rendering="crispEdges"/>
<rect x="53.1" y="78.13" width="155.3" height="1.6" fill="url(#h45)" shape-rendering="crispEdges"/>
<rect x="53.1" y="79.13" width="155.3" height="1.6" fill="url(#h46)" shape-rendering="crispEdges"/>
<rect x="53.1" y="80.12" width="155.3" height="1.6" fill="url(#h47)" shape-rendering="crispEdges"/>
<rect x="53.1" y="81.12" width="155.3" height="1.6" fill="url(#h48)" shape-rendering="crispEdges"/>
<rect x="53.1" y="82.12" width="155.3" height="1.6" fill="url(#h49)" shape-rendering="crispEdges"/>
<rect x="53.1" y="83.11" width="155.3" height="1.6" fill="url(#h50)" shape-rendering="crispEdges"/>
<rect x="53.1" y="84.11" width="155.3" height="1.6" fill="url(#h51)" shape-rendering="crispEdges"/>
<rect x="53.1" y="85.11" width="155.3" height="1.6" fill="url(#h52)" shape-rendering="crispEdges"/>
<rect x="53.1" y="86.1" width="155.3" height="1.6" fill="url(#h53)" shape-rendering="crispEdges"/>
<rect x="53.1" y="87.1" width="155.3" height="1.6" fill="url(#h54)" shape-rendering="crispEdges"/>
<rect x="53.1" y="88.09" width="155.3" height="1.6" fill="url(#h55)" shape-rendering="crispEdges"/>
<rect x="53.1" y="89.09" width="155.3" height="1.6" fill="url(#h56)" shape-rendering="crispEdges"/>
<rect x="53.1" y="90.09" width="155.3" height="1.6" fill="url(#h57)" shape-rendering="crispEdges"/>
<rect x="53.1" y="91.08" width="155.3" height="1.6" fill="url(#h58)" shape-rendering="crispEdges"/>
<rect x="53.1" y="92.08" width="155.3" height="1.6" fill="url(#h59)" shape-rendering="crispEdges"/>
<rect x="53.1" y="93.08" width="155.3" height="1.6" fill="url(#h60)" shape-rendering="crispEdges"/>
<rect x="53.1" y="94.07" width="155.3" height="1.6" fill="url(#h61)" shape-rendering="crispEdges"/>
<rect x="53.1" y="95.07" width="155.3" height="1.6" fill="url(#h62)" shape-rendering="crispEdges"/>
<rect x="53.1" y="96.06" width="155.3" height="1.6" fill="url(#h63)" shape-rendering="crispEdges"/>
<rect x="53.1" y="97.06" width="155.3" height="1.6" fill="url(#h64)" shape-rendering="crispEdges"/>
<rect x="53.1" y="98.06" width="155.3" height="1.6" fill="url(#h65)" shape-rendering="crispEdges"/>
<rect x="53.1" y="99.05" width="155.3" height="1.6" fill="url(#h66)" shape-rendering="crispEdges"/>
<rect x="53.1" y="100.05" width="155.3" height="1.6" fill="url(#h67)" shape-rendering="crispEdges"/>
<rect x="53.1" y="101.05" width="155.3" height="1.6" fill="url(#h68)" shape-rendering="crispEdges"/>
<rect x="53.1" y="102.04" width="155.3" height="1.6" fill="url(#h69)" shape-rendering="crispEdges"/>
<rect x="53.1" y="103.04" width="155.3" height="1.6" fill="url(#h70)" shape-rendering="crispEdges"/>
<rect x="53.1" y="104.03" width="155.3" height="1.6" fill="url(#h71)" shape-rendering="crispEdges"/>
<rect x="53.1" y="105.03" width="155.3" height="1.6" fill="url(#h72)" shape-rendering="crispEdges"/>
<rect x="53.1" y="106.03" width="155.3" height="1.6" fill="url(#h73)" shape-rendering="crispEdges"/>
<rect x="53.1" y="107.02" width="155.3" height="1.6" fill="url(#h74)" shape-rendering="crispEdges"/>
<rect x="53.1" y="108.02" width="155.3" height="1.6" fill="url(#h75)" shape-rendering="crispEdges"/>
<rect x="53.1" y="109.02" width="155.3" height="1.6" fill="url(#h76)" shape-rendering="crispEdges"/>
<rect x="53.1" y="110.01" width="155.3" height="1.6" fill="url(#h77)" shape-rendering="crispEdges"/>
<rect x="53.1" y="111.01" width="155.3" height="1.6" fill="url(#h78)" shape-rendering="crispEdges"/>
<rect x="53.1" y="112" width="155.3" height="1.6" fill="url(#h79)" shape-rendering="crispEdges"/>
<rect x="53.1" y="113" width="155.3" height="1.6" fill="url(#h80)" shape-rendering="crispEdges"/>
<rect x="53.1" y="114" width="155.3" height="1.6" fill="url(#h81)" shape-rendering="crispEdges"/>
<rect x="53.1" y="114.99" width="155.3" height="1.6" fill="url(#h82)" shape-rendering="crispEdges"/>
<rect x="53.1" y="115.99" width="155.3" height="1.6" fill="url(#h83)" shape-rendering="crispEdges"/>
<rect x="53.1" y="116.99" width="155.3" height="1.6" fill="url(#h84)" shape-rendering="crispEdges"/>
<rect x="53.1" y="117.98" width="155.3" height="1.6" fill="url(#h85)" shape-rendering="crispEdges"/>
<rect x="53.1" y="118.98" width="155.3" height="1.6" fill="url(#h86)" shape-rendering="crispEdges"/>
<rect x="53.1" y="119.97" width="155.3" height="1.6" fill="url(#h87)" shape-rendering="crispEdges"/>
<rect x="53.1" y="120.97" width="155.3" height="1.6" fill="url(#h88)" shape-rendering="crispEdges"/>
<rect x="53.1" y="121.97" width="155.3" height="1.6" fill="url(#h89)" shape-rendering="crispEdges"/>
<rect x="53.1" y="122.96" width="155.3" height="1.6" fill="url(#h90)" shape-rendering="crispEdges"/>
<rect x="53.1" y="123.96" width="155.3" height="1.6" fill="url(#h91)" shape-rendering="crispEdges"/>
<rect x="53.1" y="124.96" width="155.3" height="1.6" fill="url(#h92)" shape-rendering="crispEdges"/>
<rect x="53.1" y="125.95" width="155.3" height="1.6" fill="url(#h93)" shape-rendering="crispEdges"/>
<rect x="53.1" y="126.95" width="155.3" height="1.6" fill="url(#h94)" shape-rendering="crispEdges"/>
<rect x="53.1" y="127.94" width="155.3" height="1.6" fill="url(#h95)" shape-rendering="crispEdges"/>
<rect x="53.1" y="128.94" width="155.3" height="1.6" fill="url(#h96)" shape-rendering="crispEdges"/>
<rect x="53.1" y="129.94" width="155.3" height="1.6" fill="url(#h97)" shape-rendering="crispEdges"/>
<rect x="53.1" y="130.93" width="155.3" height="1.6" fill="url(#h98)" shape-rendering="crispEdges"/>
<rect x="53.1" y="131.93" width="155.3" height="1.6" fill="url(#h99)" shape-rendering="crispEdges"/>
<rect x="53.1" y="132.93" width="155.3" height="1.6" fill="url(#h100)" shape-rendering="crispEdges"/>
<rect x="53.1" y="133.92" width="155.3" height="1.6" fill="url(#h101)" shape-rendering="crispEdges"/>
<rect x="53.1" y="134.92" width="155.3" height="1.6" fill="url(#h102)" shape-rendering="crispEdges"/>
<rect x="53.1" y="135.91" width="155.3" height="1.6" fill="url(#h103)" shape-rendering="crispEdges"/>
<rect x="53.1" y="136.91" width="155.3" height="1.6" fill="url(#h104)" shape-rendering="crispEdges"/>
<rect x="53.1" y="137.91" width="155.3" height="1.6" fill="url(#h105)" shape-rendering="crispEdges"/>
<rect x="53.1" y="138.9" width="155.3" height="1.6" fill="url(#h106)" shape-rendering="crispEdges"/>
<line x1="94.7" y1="33.3" x2="99" y2="139.9" stroke="#eeeeee" stroke-width="1.2" stroke-dasharray="5 5.8" stroke-dashoffset="-1.5"/>
<line x1="168.8" y1="33.3" x2="164.3" y2="139.9" stroke="#eeeeee" stroke-width="1.2" stroke-dasharray="5 5.8" stroke-dashoffset="-1.5"/>
<rect x="60.8" y="130.3" width="28.3" height="5.6" fill="url(#cbar)"/>
<line x1="53.1" y1="140.4" x2="208.4" y2="140.4" stroke="#999" stroke-width="1"/>
<line x1="49.8" y1="33.4" x2="53.1" y2="33.4" stroke="#777" stroke-width="1"/>
<line x1="49.8" y1="68.7" x2="53.1" y2="68.7" stroke="#777" stroke-width="1"/>
<line x1="49.8" y1="104" x2="53.1" y2="104" stroke="#777" stroke-width="1"/>
<line x1="49.8" y1="139.3" x2="53.1" y2="139.3" stroke="#777" stroke-width="1"/>
<line x1="79.5" y1="136.9" x2="79.5" y2="139.9" stroke="#222" stroke-width="1"/>
<line x1="131" y1="136.9" x2="131" y2="139.9" stroke="#222" stroke-width="1"/>
<line x1="182.5" y1="136.9" x2="182.5" y2="139.9" stroke="#222" stroke-width="1"/>
<rect x="54.5" y="186.5" width="155.2" height="105.9" fill="none" stroke="#7c7c7c" stroke-width="1"/>
<line x1="106.5" y1="292.4" x2="106.5" y2="289.4" stroke="#7c7c7c" stroke-width="1"/>
<line x1="158.5" y1="292.4" x2="158.5" y2="289.4" stroke="#7c7c7c" stroke-width="1"/>
<line x1="54.5" y1="204" x2="57.5" y2="204" stroke="#7c7c7c" stroke-width="1"/>
<line x1="54.5" y1="262.9" x2="57.5" y2="262.9" stroke="#7c7c7c" stroke-width="1"/>
<line x1="163.2" y1="190.6" x2="167.2" y2="190.6" stroke="#b0b0e6" stroke-width="0.8"/>
<line x1="163.2" y1="190.6" x2="163.2" y2="196.3" stroke="#b0b0e6" stroke-width="1"/>
<line x1="171.2" y1="190.6" x2="175.25" y2="190.6" stroke="#f0eca0" stroke-width="0.8"/>
<line x1="167.2" y1="190.6" x2="171.2" y2="190.6" stroke="#f0eca0" stroke-width="0.8"/>
<line x1="171.2" y1="190.6" x2="171.2" y2="196.3" stroke="#f0eca0" stroke-width="1"/>
<line x1="179.3" y1="190.6" x2="183.45" y2="190.6" stroke="#b0b0e6" stroke-width="0.8"/>
<line x1="175.25" y1="190.6" x2="179.3" y2="190.6" stroke="#b0b0e6" stroke-width="0.8"/>
<line x1="179.3" y1="190.6" x2="179.3" y2="196.3" stroke="#b0b0e6" stroke-width="1"/>
<line x1="187.6" y1="190.6" x2="191.75" y2="190.6" stroke="#f0eca0" stroke-width="0.8"/>
<line x1="183.45" y1="190.6" x2="187.6" y2="190.6" stroke="#f0eca0" stroke-width="0.8"/>
<line x1="187.6" y1="190.6" x2="187.6" y2="196.3" stroke="#f0eca0" stroke-width="1"/>
<line x1="195.9" y1="190.6" x2="200" y2="190.6" stroke="#b0b0e6" stroke-width="0.8"/>
<line x1="191.75" y1="190.6" x2="195.9" y2="190.6" stroke="#b0b0e6" stroke-width="0.8"/>
<line x1="195.9" y1="190.6" x2="195.9" y2="196.3" stroke="#b0b0e6" stroke-width="1"/>
<line x1="200" y1="190.6" x2="204.1" y2="190.6" stroke="#f0eca0" stroke-width="0.8"/>
<line x1="204.1" y1="190.6" x2="204.1" y2="196.3" stroke="#f0eca0" stroke-width="1"/>
<line x1="163.2" y1="202" x2="167.2" y2="202" stroke="#f0eca0" stroke-width="0.8"/>
<line x1="163.2" y1="202" x2="163.2" y2="207.4" stroke="#f0eca0" stroke-width="1"/>
<line x1="163.2" y1="196.3" x2="163.2" y2="202" stroke="#f0eca0" stroke-width="1"/>
<line x1="171.2" y1="202" x2="175.25" y2="202" stroke="#b0b0e6" stroke-width="0.8"/>
<line x1="167.2" y1="202" x2="171.2" y2="202" stroke="#b0b0e6" stroke-width="0.8"/>
<line x1="171.2" y1="202" x2="171.2" y2="207.4" stroke="#b0b0e6" stroke-width="1"/>
<line x1="171.2" y1="196.3" x2="171.2" y2="202" stroke="#b0b0e6" stroke-width="1"/>
<line x1="179.3" y1="202" x2="183.45" y2="202" stroke="#f0eca0" stroke-width="0.8"/>
<line x1="175.25" y1="202" x2="179.3" y2="202" stroke="#f0eca0" stroke-width="0.8"/>
<line x1="179.3" y1="202" x2="179.3" y2="207.4" stroke="#f0eca0" stroke-width="1"/>
<line x1="179.3" y1="196.3" x2="179.3" y2="202" stroke="#f0eca0" stroke-width="1"/>
<line x1="187.6" y1="202" x2="191.75" y2="202" stroke="#b0b0e6" stroke-width="0.8"/>
<line x1="183.45" y1="202" x2="187.6" y2="202" stroke="#b0b0e6" stroke-width="0.8"/>
<line x1="187.6" y1="202" x2="187.6" y2="207.4" stroke="#b0b0e6" stroke-width="1"/>
<line x1="187.6" y1="196.3" x2="187.6" y2="202" stroke="#b0b0e6" stroke-width="1"/>
<line x1="195.9" y1="202" x2="200" y2="202" stroke="#f0eca0" stroke-width="0.8"/>
<line x1="191.75" y1="202" x2="195.9" y2="202" stroke="#f0eca0" stroke-width="0.8"/>
<line x1="195.9" y1="202" x2="195.9" y2="207.4" stroke="#f0eca0" stroke-width="1"/>
<line x1="195.9" y1="196.3" x2="195.9" y2="202" stroke="#f0eca0" stroke-width="1"/>
<line x1="200" y1="202" x2="204.1" y2="202" stroke="#b0b0e6" stroke-width="0.8"/>
<line x1="204.1" y1="202" x2="204.1" y2="207.4" stroke="#b0b0e6" stroke-width="1"/>
<line x1="204.1" y1="196.3" x2="204.1" y2="202" stroke="#b0b0e6" stroke-width="1"/>
<line x1="163.2" y1="212.8" x2="167.2" y2="212.8" stroke="#b0b0e6" stroke-width="0.8"/>
<line x1="163.2" y1="212.8" x2="163.2" y2="218.4" stroke="#b0b0e6" stroke-width="1"/>
<line x1="163.2" y1="207.4" x2="163.2" y2="212.8" stroke="#b0b0e6" stroke-width="1"/>
<line x1="171.2" y1="212.8" x2="175.25" y2="212.8" stroke="#f0eca0" stroke-width="0.8"/>
<line x1="167.2" y1="212.8" x2="171.2" y2="212.8" stroke="#f0eca0" stroke-width="0.8"/>
<line x1="171.2" y1="212.8" x2="171.2" y2="218.4" stroke="#f0eca0" stroke-width="1"/>
<line x1="171.2" y1="207.4" x2="171.2" y2="212.8" stroke="#f0eca0" stroke-width="1"/>
<line x1="179.3" y1="212.8" x2="183.45" y2="212.8" stroke="#b0b0e6" stroke-width="0.8"/>
<line x1="175.25" y1="212.8" x2="179.3" y2="212.8" stroke="#b0b0e6" stroke-width="0.8"/>
<line x1="179.3" y1="212.8" x2="179.3" y2="218.4" stroke="#b0b0e6" stroke-width="1"/>
<line x1="179.3" y1="207.4" x2="179.3" y2="212.8" stroke="#b0b0e6" stroke-width="1"/>
<line x1="187.6" y1="212.8" x2="191.75" y2="212.8" stroke="#f0eca0" stroke-width="0.8"/>
<line x1="183.45" y1="212.8" x2="187.6" y2="212.8" stroke="#f0eca0" stroke-width="0.8"/>
<line x1="187.6" y1="212.8" x2="187.6" y2="218.4" stroke="#f0eca0" stroke-width="1"/>
<line x1="187.6" y1="207.4" x2="187.6" y2="212.8" stroke="#f0eca0" stroke-width="1"/>
<line x1="195.9" y1="212.8" x2="200" y2="212.8" stroke="#b0b0e6" stroke-width="0.8"/>
<line x1="191.75" y1="212.8" x2="195.9" y2="212.8" stroke="#b0b0e6" stroke-width="0.8"/>
<line x1="195.9" y1="212.8" x2="195.9" y2="218.4" stroke="#b0b0e6" stroke-width="1"/>
<line x1="195.9" y1="207.4" x2="195.9" y2="212.8" stroke="#b0b0e6" stroke-width="1"/>
<line x1="200" y1="212.8" x2="204.1" y2="212.8" stroke="#f0eca0" stroke-width="0.8"/>
<line x1="204.1" y1="212.8" x2="204.1" y2="218.4" stroke="#f0eca0" stroke-width="1"/>
<line x1="204.1" y1="207.4" x2="204.1" y2="212.8" stroke="#f0eca0" stroke-width="1"/>
<line x1="163.2" y1="224" x2="167.2" y2="224" stroke="#f0eca0" stroke-width="0.8"/>
<line x1="163.2" y1="218.4" x2="163.2" y2="224" stroke="#f0eca0" stroke-width="1"/>
<line x1="171.2" y1="224" x2="175.25" y2="224" stroke="#b0b0e6" stroke-width="0.8"/>
<line x1="167.2" y1="224" x2="171.2" y2="224" stroke="#b0b0e6" stroke-width="0.8"/>
<line x1="171.2" y1="218.4" x2="171.2" y2="224" stroke="#b0b0e6" stroke-width="1"/>
<line x1="179.3" y1="224" x2="183.45" y2="224" stroke="#f0eca0" stroke-width="0.8"/>
<line x1="175.25" y1="224" x2="179.3" y2="224" stroke="#f0eca0" stroke-width="0.8"/>
<line x1="179.3" y1="218.4" x2="179.3" y2="224" stroke="#f0eca0" stroke-width="1"/>
<line x1="187.6" y1="224" x2="191.75" y2="224" stroke="#b0b0e6" stroke-width="0.8"/>
<line x1="183.45" y1="224" x2="187.6" y2="224" stroke="#b0b0e6" stroke-width="0.8"/>
<line x1="187.6" y1="218.4" x2="187.6" y2="224" stroke="#b0b0e6" stroke-width="1"/>
<line x1="195.9" y1="224" x2="200" y2="224" stroke="#f0eca0" stroke-width="0.8"/>
<line x1="191.75" y1="224" x2="195.9" y2="224" stroke="#f0eca0" stroke-width="0.8"/>
<line x1="195.9" y1="218.4" x2="195.9" y2="224" stroke="#f0eca0" stroke-width="1"/>
<line x1="200" y1="224" x2="204.1" y2="224" stroke="#b0b0e6" stroke-width="0.8"/>
<line x1="204.1" y1="218.4" x2="204.1" y2="224" stroke="#b0b0e6" stroke-width="1"/>
<circle cx="163.2" cy="190.6" r="2.1" fill="#8486d6" stroke="#6a6cc0" stroke-width="0.4"/>
<circle cx="171.2" cy="190.6" r="2.0" fill="#ebe36a" stroke="#cfc650" stroke-width="0.4"/>
<circle cx="179.3" cy="190.6" r="2.1" fill="#8486d6" stroke="#6a6cc0" stroke-width="0.4"/>
<circle cx="187.6" cy="190.6" r="2.0" fill="#ebe36a" stroke="#cfc650" stroke-width="0.4"/>
<circle cx="163.2" cy="202" r="2.0" fill="#ebe36a" stroke="#cfc650" stroke-width="0.4"/>
<circle cx="171.2" cy="202" r="2.1" fill="#8486d6" stroke="#6a6cc0" stroke-width="0.4"/>
<circle cx="179.3" cy="202" r="2.0" fill="#ebe36a" stroke="#cfc650" stroke-width="0.4"/>
<circle cx="187.6" cy="202" r="2.1" fill="#8486d6" stroke="#6a6cc0" stroke-width="0.4"/>
<circle cx="195.9" cy="202" r="2.0" fill="#ebe36a" stroke="#cfc650" stroke-width="0.4"/>
<circle cx="204.1" cy="202" r="2.1" fill="#8486d6" stroke="#6a6cc0" stroke-width="0.4"/>
<circle cx="163.2" cy="212.8" r="2.1" fill="#8486d6" stroke="#6a6cc0" stroke-width="0.4"/>
<circle cx="171.2" cy="212.8" r="2.0" fill="#ebe36a" stroke="#cfc650" stroke-width="0.4"/>
<circle cx="179.3" cy="212.8" r="2.1" fill="#8486d6" stroke="#6a6cc0" stroke-width="0.4"/>
<circle cx="187.6" cy="212.8" r="2.0" fill="#ebe36a" stroke="#cfc650" stroke-width="0.4"/>
<circle cx="195.9" cy="212.8" r="2.1" fill="#8486d6" stroke="#6a6cc0" stroke-width="0.4"/>
<circle cx="204.1" cy="212.8" r="2.0" fill="#ebe36a" stroke="#cfc650" stroke-width="0.4"/>
<circle cx="163.2" cy="224" r="2.0" fill="#ebe36a" stroke="#cfc650" stroke-width="0.4"/>
<circle cx="171.2" cy="224" r="2.1" fill="#8486d6" stroke="#6a6cc0" stroke-width="0.4"/>
<circle cx="179.3" cy="224" r="2.0" fill="#ebe36a" stroke="#cfc650" stroke-width="0.4"/>
<circle cx="187.6" cy="224" r="2.1" fill="#8486d6" stroke="#6a6cc0" stroke-width="0.4"/>
<circle cx="195.9" cy="224" r="2.0" fill="#ebe36a" stroke="#cfc650" stroke-width="0.4"/>
<circle cx="204.1" cy="224" r="2.1" fill="#8486d6" stroke="#6a6cc0" stroke-width="0.4"/>
<rect x="189" y="187.2" width="19.5" height="9.6" fill="#fff"/>
<line x1="182.2" y1="217.8" x2="182.2" y2="203.5" stroke="#f03a20" stroke-width="1.9"/>
<polygon points="182.2,198.3 179.9,204.8 184.5,204.8" fill="#f03a20"/>
<line x1="59.8" y1="200.9" x2="205.4" y2="283.4" stroke="#111" stroke-width="1.9"/>
<circle cx="59.7" cy="204.1" r="3.1" fill="#e2e2e2" stroke="#707070" stroke-width="0.7"/>
<circle cx="70.1" cy="211.7" r="3.1" fill="#e2e2e2" stroke="#707070" stroke-width="0.7"/>
<circle cx="80.5" cy="204.3" r="3.1" fill="#e2e2e2" stroke="#707070" stroke-width="0.7"/>
<circle cx="90.9" cy="206.7" r="3.1" fill="#e2e2e2" stroke="#707070" stroke-width="0.7"/>
<circle cx="101.3" cy="227" r="3.1" fill="#e2e2e2" stroke="#707070" stroke-width="0.7"/>
<circle cx="111.7" cy="243.7" r="3.1" fill="#e2e2e2" stroke="#707070" stroke-width="0.7"/>
<circle cx="122.1" cy="233" r="3.1" fill="#e2e2e2" stroke="#707070" stroke-width="0.7"/>
<circle cx="132.5" cy="247.8" r="3.1" fill="#e2e2e2" stroke="#707070" stroke-width="0.7"/>
<circle cx="142.9" cy="244" r="3.1" fill="#e2e2e2" stroke="#707070" stroke-width="0.7"/>
<circle cx="153.3" cy="261.5" r="3.1" fill="#e2e2e2" stroke="#707070" stroke-width="0.7"/>
<circle cx="163.7" cy="262.4" r="3.1" fill="#e2e2e2" stroke="#707070" stroke-width="0.7"/>
<circle cx="174.1" cy="269" r="3.1" fill="#e2e2e2" stroke="#707070" stroke-width="0.7"/>
<circle cx="184.5" cy="262.4" r="3.1" fill="#e2e2e2" stroke="#707070" stroke-width="0.7"/>
<circle cx="194.9" cy="280.2" r="3.1" fill="#e2e2e2" stroke="#707070" stroke-width="0.7"/>
<circle cx="205.3" cy="283" r="3.1" fill="#e2e2e2" stroke="#707070" stroke-width="0.7"/>
<rect x="262.8" y="33.5" width="242.5" height="256.8" fill="none" stroke="#7c7c7c" stroke-width="1"/>
<line x1="262.8" y1="216.9" x2="405" y2="216.9" stroke="#888" stroke-width="0.8" stroke-dasharray="1 1.6"/>
<line x1="465" y1="216.9" x2="505.3" y2="216.9" stroke="#888" stroke-width="0.8" stroke-dasharray="1 1.6"/>
<line x1="262.8" y1="79.5" x2="265.8" y2="79.5" stroke="#7c7c7c" stroke-width="1"/>
<line x1="262.8" y1="148.2" x2="265.8" y2="148.2" stroke="#7c7c7c" stroke-width="1"/>
<line x1="262.8" y1="216.9" x2="265.8" y2="216.9" stroke="#7c7c7c" stroke-width="1"/>
<line x1="262.8" y1="285.6" x2="265.8" y2="285.6" stroke="#7c7c7c" stroke-width="1"/>
<line x1="282.6" y1="290.3" x2="282.6" y2="287.3" stroke="#7c7c7c" stroke-width="1"/>
<line x1="384" y1="290.3" x2="384" y2="287.3" stroke="#7c7c7c" stroke-width="1"/>
<line x1="272.4" y1="33.5" x2="272.4" y2="36.5" stroke="#7c7c7c" stroke-width="1"/>
<line x1="334.3" y1="33.5" x2="334.3" y2="36.5" stroke="#7c7c7c" stroke-width="1"/>
<line x1="396.2" y1="33.5" x2="396.2" y2="36.5" stroke="#7c7c7c" stroke-width="1"/>
<line x1="458.1" y1="33.5" x2="458.1" y2="36.5" stroke="#7c7c7c" stroke-width="1"/>
<line x1="291" y1="262" x2="485.2" y2="141.6" stroke="#2446ee" stroke-width="1.3"/>
<line x1="290.6" y1="231" x2="484.2" y2="170.4" stroke="#222" stroke-width="0.9"/>
<line x1="290.71" y1="240.2" x2="290.71" y2="249.2" stroke="#555" stroke-width="0.8"/>
<line x1="286.51" y1="240.2" x2="294.91" y2="240.2" stroke="#555" stroke-width="0.8"/>
<line x1="286.51" y1="249.2" x2="294.91" y2="249.2" stroke="#555" stroke-width="0.8"/>
<rect x="288.01" y="242" width="5.4" height="5.4" rx="0.9" fill="#d4d4d4" stroke="#777" stroke-width="0.8"/>
<line x1="302.88" y1="217.5" x2="302.88" y2="224.1" stroke="#555" stroke-width="0.8"/>
<line x1="298.68" y1="217.5" x2="307.08" y2="217.5" stroke="#555" stroke-width="0.8"/>
<line x1="298.68" y1="224.1" x2="307.08" y2="224.1" stroke="#555" stroke-width="0.8"/>
<rect x="300.18" y="218.1" width="5.4" height="5.4" rx="0.9" fill="#d4d4d4" stroke="#777" stroke-width="0.8"/>
<line x1="313.02" y1="225.1" x2="313.02" y2="231.5" stroke="#555" stroke-width="0.8"/>
<line x1="308.82" y1="225.1" x2="317.22" y2="225.1" stroke="#555" stroke-width="0.8"/>
<line x1="308.82" y1="231.5" x2="317.22" y2="231.5" stroke="#555" stroke-width="0.8"/>
<rect x="310.32" y="225.6" width="5.4" height="5.4" rx="0.9" fill="#d4d4d4" stroke="#777" stroke-width="0.8"/>
<line x1="323.16" y1="214.8" x2="323.16" y2="220.4" stroke="#555" stroke-width="0.8"/>
<line x1="318.96" y1="214.8" x2="327.36" y2="214.8" stroke="#555" stroke-width="0.8"/>
<line x1="318.96" y1="220.4" x2="327.36" y2="220.4" stroke="#555" stroke-width="0.8"/>
<rect x="320.46" y="214.9" width="5.4" height="5.4" rx="0.9" fill="#d4d4d4" stroke="#777" stroke-width="0.8"/>
<line x1="363.72" y1="193" x2="363.72" y2="197.4" stroke="#555" stroke-width="0.8"/>
<line x1="359.52" y1="193" x2="367.92" y2="193" stroke="#555" stroke-width="0.8"/>
<line x1="359.52" y1="197.4" x2="367.92" y2="197.4" stroke="#555" stroke-width="0.8"/>
<rect x="361.02" y="192.5" width="5.4" height="5.4" rx="0.9" fill="#d4d4d4" stroke="#777" stroke-width="0.8"/>
<line x1="384" y1="197.3" x2="384" y2="202.1" stroke="#555" stroke-width="0.8"/>
<line x1="379.8" y1="197.3" x2="388.2" y2="197.3" stroke="#555" stroke-width="0.8"/>
<line x1="379.8" y1="202.1" x2="388.2" y2="202.1" stroke="#555" stroke-width="0.8"/>
<rect x="381.3" y="197" width="5.4" height="5.4" rx="0.9" fill="#d4d4d4" stroke="#777" stroke-width="0.8"/>
<line x1="485.4" y1="170.3" x2="485.4" y2="183.9" stroke="#555" stroke-width="0.8"/>
<line x1="481.2" y1="170.3" x2="489.6" y2="170.3" stroke="#555" stroke-width="0.8"/>
<line x1="481.2" y1="183.9" x2="489.6" y2="183.9" stroke="#555" stroke-width="0.8"/>
<rect x="482.7" y="174.4" width="5.4" height="5.4" rx="0.9" fill="#d4d4d4" stroke="#777" stroke-width="0.8"/>
<line x1="290.91" y1="267.4" x2="290.91" y2="285.2" stroke="#2446ee" stroke-width="1.1"/>
<line x1="286.61" y1="267.4" x2="295.21" y2="267.4" stroke="#2446ee" stroke-width="1.1"/>
<line x1="286.61" y1="285.2" x2="295.21" y2="285.2" stroke="#2446ee" stroke-width="1.1"/>
<circle cx="290.91" cy="276.3" r="3.6" fill="#3a5ee4" stroke="#1f40d8" stroke-width="0.7"/>
<line x1="309.98" y1="252.4" x2="309.98" y2="266.8" stroke="#2446ee" stroke-width="1.1"/>
<line x1="305.68" y1="252.4" x2="314.28" y2="252.4" stroke="#2446ee" stroke-width="1.1"/>
<line x1="305.68" y1="266.8" x2="314.28" y2="266.8" stroke="#2446ee" stroke-width="1.1"/>
<circle cx="309.98" cy="259.6" r="3.6" fill="#3a5ee4" stroke="#1f40d8" stroke-width="0.7"/>
<line x1="332.89" y1="209.3" x2="332.89" y2="216.5" stroke="#2446ee" stroke-width="1.1"/>
<line x1="328.59" y1="209.3" x2="337.19" y2="209.3" stroke="#2446ee" stroke-width="1.1"/>
<line x1="328.59" y1="216.5" x2="337.19" y2="216.5" stroke="#2446ee" stroke-width="1.1"/>
<circle cx="332.89" cy="212.9" r="3.6" fill="#3a5ee4" stroke="#1f40d8" stroke-width="0.7"/>
<line x1="386.64" y1="180.7" x2="386.64" y2="202.7" stroke="#2446ee" stroke-width="1.1"/>
<line x1="382.34" y1="180.7" x2="390.94" y2="180.7" stroke="#2446ee" stroke-width="1.1"/>
<line x1="382.34" y1="202.7" x2="390.94" y2="202.7" stroke="#2446ee" stroke-width="1.1"/>
<circle cx="386.64" cy="191.7" r="3.6" fill="#3a5ee4" stroke="#1f40d8" stroke-width="0.7"/>
<line x1="485.4" y1="135.4" x2="485.4" y2="165.2" stroke="#2446ee" stroke-width="1.1"/>
<line x1="481.1" y1="135.4" x2="489.7" y2="135.4" stroke="#2446ee" stroke-width="1.1"/>
<line x1="481.1" y1="165.2" x2="489.7" y2="165.2" stroke="#2446ee" stroke-width="1.1"/>
<circle cx="485.4" cy="150.3" r="3.6" fill="#3a5ee4" stroke="#1f40d8" stroke-width="0.7"/>
<rect x="262.8" y="33.5" width="85.5" height="86" fill="#fff" stroke="#777" stroke-width="1"/>
<line x1="272.4" y1="33.5" x2="272.4" y2="36.5" stroke="#7c7c7c" stroke-width="1"/>
<line x1="334.3" y1="33.5" x2="334.3" y2="36.5" stroke="#7c7c7c" stroke-width="1"/>
<line x1="262.8" y1="79.5" x2="265.8" y2="79.5" stroke="#7c7c7c" stroke-width="1"/>
<line x1="262.8" y1="95" x2="348.3" y2="95" stroke="#666" stroke-width="0.7" stroke-dasharray="0.8 1.3"/>
<line x1="267.4" y1="119.5" x2="267.4" y2="116.5" stroke="#7c7c7c" stroke-width="1"/>
<line x1="302.85" y1="119.5" x2="302.85" y2="116.5" stroke="#7c7c7c" stroke-width="1"/>
<line x1="338.3" y1="119.5" x2="338.3" y2="116.5" stroke="#7c7c7c" stroke-width="1"/>
<line x1="348.3" y1="95" x2="345.3" y2="95" stroke="#7c7c7c" stroke-width="1"/>
<line x1="348.3" y1="59.3" x2="345.3" y2="59.3" stroke="#7c7c7c" stroke-width="1"/>
<clipPath id="icl"><rect x="263.3" y="34" width="84.5" height="85"/></clipPath>
<g clip-path="url(#icl)">
<line x1="262.8" y1="98.58" x2="348.3" y2="42.24" stroke="#2446ee" stroke-width="0.8" stroke-dasharray="1.6 1"/>
<line x1="262.8" y1="109.46" x2="348.3" y2="40.2" stroke="#2446ee" stroke-width="1.3"/>
</g>
<circle cx="270" cy="93.6" r="2.3" fill="#fff" stroke="#2446ee" stroke-width="0.75"/>
<circle cx="272.9" cy="91.4" r="2.3" fill="#fff" stroke="#2446ee" stroke-width="0.75"/>
<circle cx="278.5" cy="86.4" r="2.3" fill="#fff" stroke="#2446ee" stroke-width="0.75"/>
<circle cx="290.4" cy="79.2" r="2.3" fill="#fff" stroke="#2446ee" stroke-width="0.75"/>
<circle cx="314" cy="68.6" r="2.3" fill="#fff" stroke="#2446ee" stroke-width="0.75"/>
<circle cx="340" cy="44" r="2.3" fill="#fff" stroke="#2446ee" stroke-width="0.75"/>
<circle cx="270.5" cy="110.1" r="2.7" fill="#3a5ee4" stroke="#1f40d8" stroke-width="0.5"/>
<circle cx="274.4" cy="105.9" r="2.7" fill="#3a5ee4" stroke="#1f40d8" stroke-width="0.5"/>
<circle cx="278.9" cy="94.3" r="2.7" fill="#3a5ee4" stroke="#1f40d8" stroke-width="0.5"/>
<circle cx="289" cy="89.1" r="2.7" fill="#3a5ee4" stroke="#1f40d8" stroke-width="0.5"/>
<circle cx="307.9" cy="78.2" r="2.7" fill="#3a5ee4" stroke="#1f40d8" stroke-width="0.5"/>
<circle cx="325.7" cy="63.5" r="2.7" fill="#3a5ee4" stroke="#1f40d8" stroke-width="0.5"/>
<ellipse cx="434" cy="104" rx="30" ry="28" fill="url(#glowb)"/>
<ellipse cx="434" cy="253" rx="18" ry="16" fill="url(#glowr)"/>
<circle cx="423.6" cy="83.5" r="3.1" fill="url(#gbb)" stroke="#0b4a8a" stroke-width="0.5"/>
<line x1="422.1" y1="83.5" x2="425.1" y2="83.5" stroke="#fff" stroke-width="0.8"/>
<circle cx="418.7" cy="80.2" r="3.1" fill="url(#grr)" stroke="#8a0010" stroke-width="0.5"/>
<path d="M417.2 80.2h3M418.7 78.7v3" stroke="#fff" stroke-width="0.8"/>
<circle cx="439.4" cy="80.1" r="3.1" fill="url(#gbb)" stroke="#0b4a8a" stroke-width="0.5"/>
<line x1="437.9" y1="80.1" x2="440.9" y2="80.1" stroke="#fff" stroke-width="0.8"/>
<circle cx="434.5" cy="76.8" r="3.1" fill="url(#grr)" stroke="#8a0010" stroke-width="0.5"/>
<path d="M433 76.8h3M434.5 75.3v3" stroke="#fff" stroke-width="0.8"/>
<circle cx="455.3" cy="84" r="3.1" fill="url(#gbb)" stroke="#0b4a8a" stroke-width="0.5"/>
<line x1="453.8" y1="84" x2="456.8" y2="84" stroke="#fff" stroke-width="0.8"/>
<circle cx="450.4" cy="80.7" r="3.1" fill="url(#grr)" stroke="#8a0010" stroke-width="0.5"/>
<path d="M448.9 80.7h3M450.4 79.2v3" stroke="#fff" stroke-width="0.8"/>
<circle cx="409.3" cy="94.4" r="3.1" fill="url(#gbb)" stroke="#0b4a8a" stroke-width="0.5"/>
<line x1="407.8" y1="94.4" x2="410.8" y2="94.4" stroke="#fff" stroke-width="0.8"/>
<circle cx="404.4" cy="91.1" r="3.1" fill="url(#grr)" stroke="#8a0010" stroke-width="0.5"/>
<path d="M402.9 91.1h3M404.4 89.6v3" stroke="#fff" stroke-width="0.8"/>
<circle cx="433.4" cy="98.9" r="3.1" fill="url(#gbb)" stroke="#0b4a8a" stroke-width="0.5"/>
<line x1="431.9" y1="98.9" x2="434.9" y2="98.9" stroke="#fff" stroke-width="0.8"/>
<circle cx="428.5" cy="95.6" r="3.1" fill="url(#grr)" stroke="#8a0010" stroke-width="0.5"/>
<path d="M427 95.6h3M428.5 94.1v3" stroke="#fff" stroke-width="0.8"/>
<circle cx="452.1" cy="102.4" r="3.1" fill="url(#gbb)" stroke="#0b4a8a" stroke-width="0.5"/>
<line x1="450.6" y1="102.4" x2="453.6" y2="102.4" stroke="#fff" stroke-width="0.8"/>
<circle cx="447.2" cy="99.1" r="3.1" fill="url(#grr)" stroke="#8a0010" stroke-width="0.5"/>
<path d="M445.7 99.1h3M447.2 97.6v3" stroke="#fff" stroke-width="0.8"/>
<circle cx="466.3" cy="98.1" r="3.1" fill="url(#gbb)" stroke="#0b4a8a" stroke-width="0.5"/>
<line x1="464.8" y1="98.1" x2="467.8" y2="98.1" stroke="#fff" stroke-width="0.8"/>
<circle cx="461.4" cy="94.8" r="3.1" fill="url(#grr)" stroke="#8a0010" stroke-width="0.5"/>
<path d="M459.9 94.8h3M461.4 93.3v3" stroke="#fff" stroke-width="0.8"/>
<circle cx="421" cy="107.6" r="3.1" fill="url(#gbb)" stroke="#0b4a8a" stroke-width="0.5"/>
<line x1="419.5" y1="107.6" x2="422.5" y2="107.6" stroke="#fff" stroke-width="0.8"/>
<circle cx="416.1" cy="104.3" r="3.1" fill="url(#grr)" stroke="#8a0010" stroke-width="0.5"/>
<path d="M414.6 104.3h3M416.1 102.8v3" stroke="#fff" stroke-width="0.8"/>
<circle cx="438.4" cy="115" r="3.1" fill="url(#gbb)" stroke="#0b4a8a" stroke-width="0.5"/>
<line x1="436.9" y1="115" x2="439.9" y2="115" stroke="#fff" stroke-width="0.8"/>
<circle cx="433.5" cy="111.7" r="3.1" fill="url(#grr)" stroke="#8a0010" stroke-width="0.5"/>
<path d="M432 111.7h3M433.5 110.2v3" stroke="#fff" stroke-width="0.8"/>
<circle cx="461.5" cy="116.8" r="3.1" fill="url(#gbb)" stroke="#0b4a8a" stroke-width="0.5"/>
<line x1="460" y1="116.8" x2="463" y2="116.8" stroke="#fff" stroke-width="0.8"/>
<circle cx="456.6" cy="113.5" r="3.1" fill="url(#grr)" stroke="#8a0010" stroke-width="0.5"/>
<path d="M455.1 113.5h3M456.6 112v3" stroke="#fff" stroke-width="0.8"/>
<circle cx="408.6" cy="119.8" r="3.1" fill="url(#gbb)" stroke="#0b4a8a" stroke-width="0.5"/>
<line x1="407.1" y1="119.8" x2="410.1" y2="119.8" stroke="#fff" stroke-width="0.8"/>
<circle cx="403.7" cy="116.5" r="3.1" fill="url(#grr)" stroke="#8a0010" stroke-width="0.5"/>
<path d="M402.2 116.5h3M403.7 115v3" stroke="#fff" stroke-width="0.8"/>
<circle cx="421.5" cy="132.9" r="3.1" fill="url(#gbb)" stroke="#0b4a8a" stroke-width="0.5"/>
<line x1="420" y1="132.9" x2="423" y2="132.9" stroke="#fff" stroke-width="0.8"/>
<circle cx="416.6" cy="129.6" r="3.1" fill="url(#grr)" stroke="#8a0010" stroke-width="0.5"/>
<path d="M415.1 129.6h3M416.6 128.1v3" stroke="#fff" stroke-width="0.8"/>
<circle cx="437.7" cy="131.7" r="3.1" fill="url(#gbb)" stroke="#0b4a8a" stroke-width="0.5"/>
<line x1="436.2" y1="131.7" x2="439.2" y2="131.7" stroke="#fff" stroke-width="0.8"/>
<circle cx="432.8" cy="128.4" r="3.1" fill="url(#grr)" stroke="#8a0010" stroke-width="0.5"/>
<path d="M431.3 128.4h3M432.8 126.9v3" stroke="#fff" stroke-width="0.8"/>
<circle cx="451.6" cy="130" r="3.1" fill="url(#gbb)" stroke="#0b4a8a" stroke-width="0.5"/>
<line x1="450.1" y1="130" x2="453.1" y2="130" stroke="#fff" stroke-width="0.8"/>
<circle cx="446.7" cy="126.7" r="3.1" fill="url(#grr)" stroke="#8a0010" stroke-width="0.5"/>
<path d="M445.2 126.7h3M446.7 125.2v3" stroke="#fff" stroke-width="0.8"/>
<line x1="434.8" y1="72" x2="434.8" y2="67.9" stroke="#1f3fd6" stroke-width="1.25"/>
<polygon points="434.8,64.6 437,68.4 432.6,68.4" fill="#1f3fd6"/>
<line x1="434.8" y1="139.2" x2="434.8" y2="142.9" stroke="#1f3fd6" stroke-width="1.25"/>
<polygon points="434.8,146.2 432.6,142.4 437,142.4" fill="#1f3fd6"/>
<line x1="400.6" y1="106" x2="395.7" y2="106" stroke="#1f3fd6" stroke-width="1.25"/>
<polygon points="392.4,106 396.2,103.8 396.2,108.2" fill="#1f3fd6"/>
<line x1="469.4" y1="106" x2="474.1" y2="106" stroke="#1f3fd6" stroke-width="1.25"/>
<polygon points="477.4,106 473.6,108.2 473.6,103.8" fill="#1f3fd6"/>
<line x1="410.2" y1="81.4" x2="407.42" y2="78.84" stroke="#1f3fd6" stroke-width="1.25"/>
<polygon points="405,76.6 409.28,77.56 406.3,80.79" fill="#1f3fd6"/>
<line x1="460" y1="81.8" x2="462.32" y2="79.38" stroke="#1f3fd6" stroke-width="1.25"/>
<polygon points="464.6,77 463.56,81.27 460.38,78.22" fill="#1f3fd6"/>
<line x1="409.6" y1="131.2" x2="407.18" y2="133.52" stroke="#1f3fd6" stroke-width="1.25"/>
<polygon points="404.8,135.8 406.02,131.58 409.07,134.76" fill="#1f3fd6"/>
<line x1="457.6" y1="130.8" x2="460.02" y2="133.12" stroke="#1f3fd6" stroke-width="1.25"/>
<polygon points="462.4,135.4 458.13,134.36 461.18,131.18" fill="#1f3fd6"/>
<rect x="405" y="210" width="60" height="12" fill="#fff"/>
<circle cx="440.1" cy="244.3" r="3.1" fill="url(#gbb)" stroke="#0b4a8a" stroke-width="0.5"/>
<line x1="438.6" y1="244.3" x2="441.6" y2="244.3" stroke="#fff" stroke-width="0.8"/>
<circle cx="435.2" cy="241" r="3.1" fill="url(#grr)" stroke="#8a0010" stroke-width="0.5"/>
<path d="M433.7 241h3M435.2 239.5v3" stroke="#fff" stroke-width="0.8"/>
<circle cx="429.2" cy="249.3" r="3.1" fill="url(#gbb)" stroke="#0b4a8a" stroke-width="0.5"/>
<line x1="427.7" y1="249.3" x2="430.7" y2="249.3" stroke="#fff" stroke-width="0.8"/>
<circle cx="424.3" cy="246" r="3.1" fill="url(#grr)" stroke="#8a0010" stroke-width="0.5"/>
<path d="M422.8 246h3M424.3 244.5v3" stroke="#fff" stroke-width="0.8"/>
<circle cx="418.5" cy="255.5" r="3.1" fill="url(#gbb)" stroke="#0b4a8a" stroke-width="0.5"/>
<line x1="417" y1="255.5" x2="420" y2="255.5" stroke="#fff" stroke-width="0.8"/>
<circle cx="413.6" cy="252.2" r="3.1" fill="url(#grr)" stroke="#8a0010" stroke-width="0.5"/>
<path d="M412.1 252.2h3M413.6 250.7v3" stroke="#fff" stroke-width="0.8"/>
<circle cx="455.1" cy="254.2" r="3.1" fill="url(#gbb)" stroke="#0b4a8a" stroke-width="0.5"/>
<line x1="453.6" y1="254.2" x2="456.6" y2="254.2" stroke="#fff" stroke-width="0.8"/>
<circle cx="450.2" cy="250.9" r="3.1" fill="url(#grr)" stroke="#8a0010" stroke-width="0.5"/>
<path d="M448.7 250.9h3M450.2 249.4v3" stroke="#fff" stroke-width="0.8"/>
<circle cx="444.1" cy="257.5" r="3.1" fill="url(#gbb)" stroke="#0b4a8a" stroke-width="0.5"/>
<line x1="442.6" y1="257.5" x2="445.6" y2="257.5" stroke="#fff" stroke-width="0.8"/>
<circle cx="439.2" cy="254.2" r="3.1" fill="url(#grr)" stroke="#8a0010" stroke-width="0.5"/>
<path d="M437.7 254.2h3M439.2 252.7v3" stroke="#fff" stroke-width="0.8"/>
<circle cx="432.2" cy="262.9" r="3.1" fill="url(#gbb)" stroke="#0b4a8a" stroke-width="0.5"/>
<line x1="430.7" y1="262.9" x2="433.7" y2="262.9" stroke="#fff" stroke-width="0.8"/>
<circle cx="427.3" cy="259.6" r="3.1" fill="url(#grr)" stroke="#8a0010" stroke-width="0.5"/>
<path d="M425.8 259.6h3M427.3 258.1v3" stroke="#fff" stroke-width="0.8"/>
<line x1="434.8" y1="228.4" x2="434.8" y2="231.9" stroke="#f0202a" stroke-width="1.25"/>
<polygon points="434.8,235.2 432.6,231.4 437,231.4" fill="#f0202a"/>
<line x1="434.8" y1="276" x2="434.8" y2="273.7" stroke="#f0202a" stroke-width="1.25"/>
<polygon points="434.8,270.4 437,274.2 432.6,274.2" fill="#f0202a"/>
<line x1="418.4" y1="233.4" x2="420.53" y2="236.03" stroke="#f0202a" stroke-width="1.25"/>
<polygon points="422.6,238.6 418.5,237.03 421.92,234.26" fill="#f0202a"/>
<line x1="451.2" y1="233.4" x2="449.07" y2="236.03" stroke="#f0202a" stroke-width="1.25"/>
<polygon points="447,238.6 447.68,234.26 451.1,237.03" fill="#f0202a"/>
<line x1="418.4" y1="272.2" x2="420.79" y2="268.56" stroke="#f0202a" stroke-width="1.25"/>
<polygon points="422.6,265.8 422.35,270.18 418.68,267.77" fill="#f0202a"/>
<line x1="451.2" y1="272.2" x2="448.81" y2="268.56" stroke="#f0202a" stroke-width="1.25"/>
<polygon points="447,265.8 450.92,267.77 447.25,270.18" fill="#f0202a"/>
<rect x="566.9" y="33.5" width="117.4" height="256.7" fill="none" stroke="#7c7c7c" stroke-width="1"/>
<line x1="566.9" y1="162" x2="684.3" y2="162" stroke="#999" stroke-width="1.5"/>
<line x1="647.9" y1="162" x2="647.9" y2="159" stroke="#7c7c7c" stroke-width="1"/>
<line x1="647.9" y1="290.2" x2="647.9" y2="287.2" stroke="#7c7c7c" stroke-width="1"/>
<line x1="566.9" y1="33.5" x2="569.9" y2="33.5" stroke="#7c7c7c" stroke-width="1"/>
<line x1="566.9" y1="124.8" x2="569.9" y2="124.8" stroke="#7c7c7c" stroke-width="1"/>
<line x1="566.9" y1="171.4" x2="569.9" y2="171.4" stroke="#7c7c7c" stroke-width="1"/>
<line x1="566.9" y1="211.1" x2="569.9" y2="211.1" stroke="#7c7c7c" stroke-width="1"/>
<line x1="566.9" y1="250.9" x2="569.9" y2="250.9" stroke="#7c7c7c" stroke-width="1"/>
<line x1="566.9" y1="290.2" x2="569.9" y2="290.2" stroke="#7c7c7c" stroke-width="1"/>
<line x1="566.9" y1="250.9" x2="684.3" y2="250.9" stroke="#d6d6d6" stroke-width="1.2"/>
<clipPath id="dcl"><rect x="566.9" y="33.5" width="117.4" height="128.5"/></clipPath>
<clipPath id="ecl"><rect x="566.9" y="162" width="117.4" height="128.2"/></clipPath>
<g clip-path="url(#dcl)">
<polyline points="566.9,126.48 568.39,127.91 569.87,129.3 571.36,130.64 572.84,131.94 574.33,133.19 575.82,134.39 577.3,135.55 578.79,136.67 580.27,137.74 581.76,138.76 583.25,139.75 584.73,140.68 586.22,141.58 587.71,142.43 589.19,143.24 590.68,144.01 592.16,144.74 593.65,145.42 595.14,146.07 596.62,146.67 598.11,147.24 599.59,147.76 601.08,148.25 602.57,148.69 604.05,149.1 605.54,149.47 607.02,149.8 608.51,150.09 610,150.35 611.48,150.57 612.97,150.75 614.45,150.9 615.94,151.01 617.43,151.08 618.91,151.12 620.4,151.12 621.88,151.09 623.37,151.03 624.86,150.93 626.34,150.8 627.83,150.64 629.32,150.44 630.8,150.21 632.29,149.95 633.77,149.65 635.26,149.33 636.75,148.97 638.23,148.59 639.72,148.17 641.2,147.72 642.69,147.25 644.18,146.74 645.66,146.21 647.15,145.65 648.63,145.06 650.12,144.44 651.61,143.79 653.09,143.12 654.58,142.42 656.06,141.7 657.55,140.94 659.04,140.17 660.52,139.37 662.01,138.54 663.49,137.69 664.98,136.81 666.47,135.91 667.95,134.99 669.44,134.04 670.93,133.07 672.41,132.08 673.9,131.07 675.38,130.03 676.87,128.97 678.36,127.9 679.84,126.8 681.33,125.68 682.81,124.54 684.3,123.38" fill="none" stroke="#1cb4c6" stroke-width="1.5"/>
<polyline points="566.9,127.08 568.24,128.04 569.58,128.92 570.92,129.7 572.26,130.38 573.6,130.98 574.94,131.48 576.28,131.89 577.63,132.21 578.97,132.44 580.31,132.57 581.65,132.61 582.99,132.56 584.33,132.42 585.67,132.18 587.01,131.86 588.35,131.44 589.69,130.92 591.03,130.32 592.37,129.63 593.71,128.84 595.05,127.96 596.39,126.98 597.74,125.92 599.08,124.76 600.42,123.51 601.76,122.17 603.1,120.74 604.44,119.21 605.78,117.6 607.12,115.89 608.46,114.08 609.8,112.19 611.14,110.2 612.48,108.13 613.82,105.95 615.16,103.69 616.51,101.34 617.85,98.89 619.19,96.35 620.53,93.72 621.87,90.99 623.21,88.18 624.55,85.27 625.89,82.27 627.23,79.17 628.57,75.99 629.91,72.71 631.25,69.34 632.59,65.88 633.93,62.33 635.27,58.68 636.62,54.94 637.96,51.11 639.3,47.19 640.64,43.18 641.98,39.07 643.32,34.87 644.66,30.58 646,26.2" fill="none" stroke="#f05a2a" stroke-width="1.5"/>
</g>
<g clip-path="url(#ecl)">
<polyline points="566.9,274.24 569.16,270.46 571.42,266.71 573.68,263 575.94,259.34 578.19,255.72 580.45,252.14 582.71,248.61 584.97,245.12 587.23,241.67 589.49,238.26 591.75,234.89 594.01,231.57 596.27,228.29 598.53,225.05 600.78,221.85 603.04,218.7 605.3,215.59 607.56,212.52 609.82,209.49 612.08,206.51 614.34,203.57 616.6,200.67 618.86,197.81 621.12,195 623.37,192.23 625.63,189.5 627.89,186.81 630.15,184.16 632.41,181.56 634.67,179 636.93,176.48 639.19,174.01 641.45,171.57 643.71,169.18 645.96,166.83 648.22,164.53 650.48,162.26 652.74,160.04 655,157.86" fill="none" stroke="#f05a2a" stroke-width="1.5"/>
<polyline points="566.9,274.3 569.94,272.73 572.97,271.18 576.01,269.65 579.04,268.14 582.08,266.65 585.12,265.18 588.15,263.73 591.19,262.3 594.22,260.9 597.26,259.51 600.29,258.14 603.33,256.79 606.37,255.46 609.4,254.15 612.44,252.86 615.47,251.59 618.51,250.35 621.55,249.12 624.58,247.91 627.62,246.72 630.65,245.55 633.69,244.4 636.73,243.28 639.76,242.17 642.8,241.08 645.83,240.01 648.87,238.97 651.91,237.94 654.94,236.93 657.98,235.94 661.01,234.98 664.05,234.03 667.08,233.1 670.12,232.2 673.16,231.31 676.19,230.44 679.23,229.6 682.26,228.77 685.3,227.96" fill="none" stroke="#1cb4c6" stroke-width="1.5"/>
</g>
<g id="cb0" transform="matrix(1.1500 0 0 1.0000 -8.239 0.423)"><text x="53.4" y="136.2" font-size="9.4" fill="#fff">0</text></g>
<g id="cb1" transform="matrix(0.9000 0 0 1.0000 8.712 -0.412)"><text x="90.8" y="136.2" font-size="9.4" fill="#fff">1</text></g>
<g id="aPL" transform="matrix(0.9726 0 0 0.9000 2.063 11.593)"><text x="75.8" y="114.1" font-size="9.4" fill="#fff" text-anchor="middle">PL</text></g>
<g id="anorm" transform="matrix(1.1417 0 0 1.0717 -10.688 -8.109)"><text x="75.6" y="124.4" font-size="9.4" fill="#fff" text-anchor="middle">(norm.)</text></g>
<g id="a10L" transform="matrix(0.9965 0 0 1.0257 -0.262 -0.667)"><text x="181.3" y="44.6" font-size="11.4" fill="#fff">10L</text></g>
<g id="ay0" transform="matrix(1.0823 0 0 1.0000 -3.139 -0.196)"><text x="45.2" y="36.9" font-size="10.5" fill="#282828" text-anchor="end">0</text></g>
<g id="ay10" transform="matrix(0.8793 0 0 1.0000 5.799 0.814)"><text x="45.2" y="72.4" font-size="10.5" fill="#282828" text-anchor="end">10</text></g>
<g id="ay20" transform="matrix(1.1415 0 0 1.0000 -5.858 0.082)"><text x="45.9" y="107.9" font-size="10.5" fill="#282828" text-anchor="end">20</text></g>
<g id="ay30" transform="matrix(1.1815 0 0 1.0000 -7.727 0.141)"><text x="45.9" y="143.3" font-size="10.5" fill="#282828" text-anchor="end">30</text></g>
<g id="ax-2" transform="matrix(1.0167 0 0 1.0000 -2.096 0.339)"><text x="70.3" y="152.8" font-size="10.5" fill="#282828">−2</text></g>
<g id="ax0" transform="matrix(1.1074 0 0 1.0000 -14.050 0.800)"><text x="128.1" y="152.8" font-size="10.5" fill="#282828">0</text></g>
<g id="ax2" transform="matrix(1.1500 0 0 1.0000 -27.456 -0.086)"><text x="179.3" y="152.8" font-size="10.5" fill="#282828">2</text></g>
<g id="apos" transform="matrix(1.0327 0 0 1.0000 -4.172 0.800)"><text x="94.7" y="167.5" font-size="12" fill="#282828">Position (µm)</text></g>
<g id="atime" transform="matrix(1.0000 0 0 1.0316 -0.856 -3.136)"><text x="0" y="0" font-size="12" fill="#282828" text-anchor="middle" transform="translate(25 87.3) rotate(-90)">Time (ps)</text></g>
<g id="a" transform="matrix(0.9351 0 0 0.9492 -0.007 1.089)"><text x="0.5" y="30.5" font-size="16.5" fill="#000" stroke="#000" stroke-width="0.55" font-weight="bold">a</text></g>
<g id="b10L" transform="matrix(0.9603 0 0 1.1500 6.610 -30.137)"><text x="189.3" y="196.6" font-size="10.5" fill="#282828">10L</text></g>
<g id="bb" transform="matrix(1.1500 0 0 1.0699 -25.695 -14.377)"><text x="168.9" y="211.8" font-size="9.6" fill="#f03a20" font-style="italic">b</text></g>
<g id="by0" transform="matrix(1.1500 0 0 1.0000 -6.985 0.107)"><text x="49.8" y="207.5" font-size="10.5" fill="#282828" text-anchor="end">0</text></g>
<g id="by-05" transform="matrix(1.0760 0 0 1.0000 -3.133 -0.167)"><text x="49.4" y="266.9" font-size="10.5" fill="#282828" text-anchor="end">−0.05</text></g>
<g id="bx0" transform="matrix(1.1500 0 0 1.0000 -8.167 0.004)"><text x="55.1" y="305.8" font-size="10.5" fill="#282828" text-anchor="middle">0</text></g>
<g id="bx10" transform="matrix(0.9981 0 0 1.0000 0.191 0.672)"><text x="107" y="305.8" font-size="10.5" fill="#282828" text-anchor="middle">10</text></g>
<g id="bx20" transform="matrix(1.1121 0 0 1.0000 -17.823 0.151)"><text x="159.3" y="305.8" font-size="10.5" fill="#282828" text-anchor="middle">20</text></g>
<g id="bx30" transform="matrix(1.1351 0 0 1.0000 -28.800 -0.085)"><text x="210" y="305.8" font-size="10.5" fill="#282828" text-anchor="middle">30</text></g>
<g id="btime" transform="matrix(1.0132 0 0 1.0000 -1.671 0.800)"><text x="107.4" y="319.7" font-size="12" fill="#282828">Time (ps)</text></g>
<g id="bD" transform="matrix(0.8847 0 0 1.0000 6.486 0.800)"><text x="58.7" y="285.2" font-size="10.6" fill="#282828"><tspan font-style="italic">D</tspan>* = −(13 ± 1) cm<tspan baseline-shift="4.2" font-size="70%">2</tspan> s<tspan baseline-shift="4.2" font-size="70%">−1</tspan></text></g>
<g id="bsig" transform="matrix(1.0000 0 0 0.9885 -0.446 2.479)"><text x="0" y="0" font-size="12" fill="#282828" text-anchor="middle" transform="translate(14.4 239.1) rotate(-90)">Δ<tspan font-style="italic">σ</tspan><tspan baseline-shift="4.8" font-size="70%">2</tspan>(<tspan font-style="italic">t</tspan>) (µm<tspan baseline-shift="4.8" font-size="70%">2</tspan>)</text></g>
<g id="b" transform="matrix(1.0845 0 0 0.9601 -1.032 6.992)"><text x="0.9" y="182" font-size="16.5" fill="#000" stroke="#000" stroke-width="0.55" font-weight="bold">b</text></g>
<g id="cy30" transform="matrix(1.1726 0 0 1.0000 -43.737 0.016)"><text x="256.4" y="82.7" font-size="10.5" fill="#282828" text-anchor="end">30</text></g>
<g id="cy15" transform="matrix(1.0007 0 0 1.0000 0.213 -0.012)"><text x="256.4" y="151.6" font-size="10.5" fill="#282828" text-anchor="end">15</text></g>
<g id="cy0" transform="matrix(1.1500 0 0 1.0000 -38.085 0.220)"><text x="256.4" y="220.5" font-size="10.5" fill="#282828" text-anchor="end">0</text></g>
<g id="cy-15" transform="matrix(0.9113 0 0 1.0000 23.296 0.245)"><text x="256.7" y="289.9" font-size="10.5" fill="#282828" text-anchor="end">−15</text></g>
<g id="cx0" transform="matrix(1.1500 0 0 1.0000 -42.458 0.265)"><text x="282.4" y="304" font-size="10.5" fill="#282828" text-anchor="middle">0</text></g>
<g id="cx50" transform="matrix(1.1410 0 0 1.0000 -54.298 0.489)"><text x="384.3" y="304" font-size="10.5" fill="#282828" text-anchor="middle">50</text></g>
<g id="ctemp" transform="matrix(1.0304 0 0 1.0000 -10.515 0.800)"><text x="339.8" y="316.2" font-size="12" fill="#282828">Temperature (K)</text></g>
<g id="cD" transform="matrix(1.0000 0 0 0.9679 -0.684 5.024)"><text x="0" y="0" font-size="12" fill="#282828" text-anchor="middle" transform="translate(236.2 156) rotate(-90)"><tspan font-style="italic">D</tspan>* (cm<tspan baseline-shift="4.8" font-size="70%">2</tspan> s<tspan baseline-shift="4.8" font-size="70%">−1</tspan>)</text></g>
<g id="ct0" transform="matrix(1.1500 0 0 1.0000 -40.904 -0.106)"><text x="272.1" y="27.9" font-size="10.5" fill="#282828" text-anchor="middle">0</text></g>
<g id="ct500" transform="matrix(1.1398 0 0 1.0000 -46.810 0.201)"><text x="333.8" y="27.9" font-size="10.5" fill="#282828" text-anchor="middle">500</text></g>
<g id="ct1000" transform="matrix(1.0744 0 0 1.0000 -29.558 -0.088)"><text x="395.5" y="27.9" font-size="10.5" fill="#282828" text-anchor="middle">1,000</text></g>
<g id="ct1500" transform="matrix(1.0229 0 0 1.0000 -10.840 0.045)"><text x="458" y="27.9" font-size="10.5" fill="#282828" text-anchor="middle">1,500</text></g>
<g id="cexc" transform="matrix(1.0389 0 0 1.0000 -12.999 0.800)"><text x="308.4" y="11.1" font-size="12" fill="#2446ee">Excitation fluence (µJ cm<tspan baseline-shift="4.8" font-size="70%">−2</tspan>)</text></g>
<g id="c" transform="matrix(1.1191 0 0 0.9940 -27.259 0.247)"><text x="223" y="31.2" font-size="16.5" fill="#000" stroke="#000" stroke-width="0.55" font-weight="bold">c</text></g>
<g id="ci0" transform="matrix(1.1500 0 0 1.0000 -39.857 0.245)"><text x="264.1" y="131.9" font-size="10.5" fill="#282828">0</text></g>
<g id="ci1500" transform="matrix(0.9967 0 0 1.0000 -0.034 0.440)"><text x="289.4" y="131.9" font-size="10.5" fill="#282828">1,500</text></g>
<g id="ci3000" transform="matrix(1.1121 0 0 1.0000 -36.874 -0.146)"><text x="323.3" y="131.9" font-size="10.5" fill="#282828">3,000</text></g>
<g id="ciy30" transform="matrix(1.2225 0 0 1.0000 -78.961 0.075)"><text x="351.7" y="63" font-size="10.5" fill="#282828">30</text></g>
<g id="ciy0" transform="matrix(1.1500 0 0 1.0000 -53.020 0.188)"><text x="352" y="98.5" font-size="10.5" fill="#282828">0</text></g>
<g id="cflu" transform="matrix(1.0016 0 0 1.0000 -1.347 0.800)"><text x="269" y="148.7" font-size="12" fill="#282828">Fluence (µJ cm<tspan baseline-shift="4.8" font-size="70%">−2</tspan>)</text></g>
<g id="ciD" transform="matrix(1.0000 0 0 0.9667 0.159 2.660)"><text x="0" y="0" font-size="12" fill="#282828" text-anchor="middle" transform="translate(372.3 76.6) rotate(90)"><tspan font-style="italic">D</tspan>* (cm<tspan baseline-shift="4.8" font-size="70%">2</tspan> s<tspan baseline-shift="4.8" font-size="70%">−1</tspan>)</text></g>
<g id="cia" transform="matrix(0.9702 0 0 1.0000 9.259 -0.312)"><text x="313.8" y="51" font-size="10.5" fill="#2446ee" font-style="italic">a</text></g>
<g id="cib" transform="matrix(1.0387 0 0 1.0000 -12.556 0.573)"><text x="320.6" y="85" font-size="10.5" fill="#2446ee" font-style="italic">b</text></g>
<g id="cexp" transform="matrix(1.1446 0 0 1.0278 -60.118 -0.947)"><text x="409.8" y="56.8" font-size="9.7" fill="#282828">Expansion</text></g>
<g id="ccon" transform="matrix(1.1486 0 0 0.9000 -61.257 22.229)"><text x="407.6" y="219.8" font-size="9.7" fill="#282828">Contraction</text></g>
<g id="db" transform="matrix(1.1354 0 0 1.0982 -82.009 -8.983)"><text x="604" y="88.8" font-size="10.5" fill="#f05a2a" font-style="italic">b</text></g>
<g id="da" transform="matrix(0.9740 0 0 1.1042 16.939 -13.205)"><text x="665.5" y="125.4" font-size="10.5" fill="#1cb4c6" font-style="italic">a</text></g>
<g id="eb" transform="matrix(1.0968 0 0 0.9955 -58.012 1.331)"><text x="604" y="193" font-size="10.5" fill="#f05a2a" font-style="italic">b</text></g>
<g id="ea" transform="matrix(0.9523 0 0 1.0879 31.336 -20.237)"><text x="665.5" y="229.2" font-size="10.5" fill="#1cb4c6" font-style="italic">a</text></g>
<g id="d010" transform="matrix(1.0000 0 0 1.0000 0.483 1.165)"><text x="560.4" y="37" font-size="10.5" fill="#282828" text-anchor="end">0.10</text></g>
<g id="d009" transform="matrix(1.1729 0 0 1.0000 -96.369 0.515)"><text x="560.6" y="128.4" font-size="10.5" fill="#282828" text-anchor="end">0.09</text></g>
<g id="e04" transform="matrix(1.0794 0 0 1.0000 -44.192 0.513)"><text x="560.7" y="175.4" font-size="10.5" fill="#282828" text-anchor="end">0.4</text></g>
<g id="e02" transform="matrix(1.1036 0 0 1.0000 -57.357 0.770)"><text x="560.7" y="214.8" font-size="10.5" fill="#282828" text-anchor="end">0.2</text></g>
<g id="e0" transform="matrix(1.1500 0 0 1.0000 -83.571 0.547)"><text x="560.2" y="254.6" font-size="10.5" fill="#282828" text-anchor="end">0</text></g>
<g id="e-02" transform="matrix(1.0300 0 0 1.0000 -16.197 0.430)"><text x="560.9" y="294.3" font-size="10.5" fill="#282828" text-anchor="end">−0.2</text></g>
<g id="ex0" transform="matrix(1.1500 0 0 1.0000 -85.221 -0.053)"><text x="568.2" y="304.2" font-size="10.5" fill="#282828" text-anchor="middle">0</text></g>
<g id="ex01" transform="matrix(1.0772 0 0 1.0000 -49.960 0.468)"><text x="647.6" y="304.2" font-size="10.5" fill="#282828" text-anchor="middle">0.1</text></g>
<g id="eQ" transform="matrix(0.9778 0 0 1.0000 12.794 0.100)"><text x="602.8" y="320.4" font-size="12" fill="#282828"><tspan font-style="italic">Q</tspan> (nm<tspan baseline-shift="4.8" font-size="70%">−1</tspan>)</text></g>
<g id="denergy" transform="matrix(1.0000 0 0 0.9929 -0.162 0.728)"><text x="0" y="0" font-size="12" fill="#282828" text-anchor="middle" transform="translate(530.7 97.4) rotate(-90)">Energy (meV)</text></g>
<g id="evel" transform="matrix(1.0000 0 0 1.0221 -0.402 -5.469)"><text x="0" y="0" font-size="12" fill="#282828" text-anchor="middle" transform="translate(530.7 225.8) rotate(-90)">Velocity (km s<tspan baseline-shift="4.8" font-size="70%">−1</tspan>)</text></g>
<g id="d" transform="matrix(1.1140 0 0 0.9752 -59.744 1.168)"><text x="521.4" y="30.8" font-size="16.5" fill="#000" stroke="#000" stroke-width="0.55" font-weight="bold">d</text></g>
<g id="e" transform="matrix(1.1274 0 0 0.9777 -67.000 3.424)"><text x="521.5" y="164.6" font-size="16.5" fill="#000" stroke="#000" stroke-width="0.55" font-weight="bold">e</text></g></svg>
</body></html>
